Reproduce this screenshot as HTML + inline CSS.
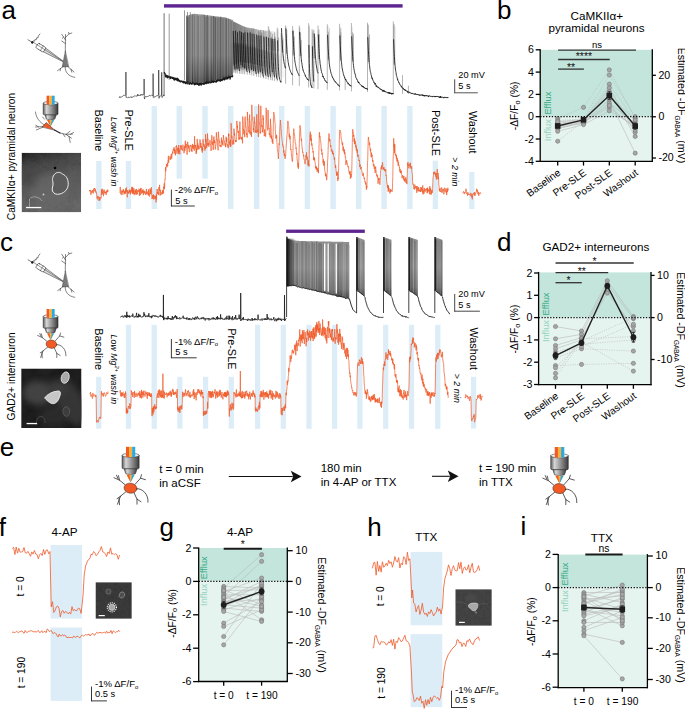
<!DOCTYPE html><html><head><meta charset="utf-8"><style>html,body{margin:0;padding:0;background:#fff;}body{width:685px;height:721px;overflow:hidden;font-family:"Liberation Sans",sans-serif;}svg{display:block;}</style></head><body><svg width="685" height="721" viewBox="0 0 685 721" font-family="'Liberation Sans', sans-serif"><defs><filter id="bl1" x="-20%" y="-20%" width="140%" height="140%"><feGaussianBlur stdDeviation="0.6"/></filter><filter id="bl3" x="-50%" y="-50%" width="200%" height="200%"><feGaussianBlur stdDeviation="3"/></filter><filter id="bl2" x="-50%" y="-50%" width="200%" height="200%"><feGaussianBlur stdDeviation="1.6"/></filter><filter id="tex" x="0" y="0" width="100%" height="100%"><feTurbulence type="fractalNoise" baseFrequency="0.35" numOctaves="2" seed="4"/><feColorMatrix type="matrix" values="1 0 0 0 0  1 0 0 0 0  1 0 0 0 0  0 0 0 0 1"/></filter><filter id="tex2" x="0" y="0" width="100%" height="100%"><feTurbulence type="fractalNoise" baseFrequency="0.08" numOctaves="3" seed="9"/><feColorMatrix type="matrix" values="1 0 0 0 0  1 0 0 0 0  1 0 0 0 0  0 0 0 0 1"/></filter><clipPath id="cpa"><rect x="21.6" y="152.8" width="59.5" height="59.5"/></clipPath><clipPath id="cpc"><rect x="21.2" y="368.5" width="60.3" height="59.5"/></clipPath><linearGradient id="mga" x1="0" y1="0" x2="0.3" y2="1"><stop offset="0" stop-color="#050505"/><stop offset="0.3" stop-color="#303030"/><stop offset="0.7" stop-color="#4a4a4a"/><stop offset="1" stop-color="#525252"/></linearGradient><clipPath id="cpf"><rect x="95.5" y="582.2" width="36.3" height="36.6"/></clipPath><clipPath id="cph"><rect x="455.3" y="589.2" width="36.5" height="36.6"/></clipPath></defs><text x="1.4" y="18.6" font-size="26" text-anchor="start" fill="#000">a</text>
<text x="497" y="18.6" font-size="26" text-anchor="start" fill="#000">b</text>
<text x="-0.1" y="250.6" font-size="26" text-anchor="start" fill="#000">c</text>
<text x="496.9" y="251.2" font-size="26" text-anchor="start" fill="#000">d</text>
<text x="-0.3" y="456.4" font-size="26" text-anchor="start" fill="#000">e</text>
<text x="-1.3" y="535.6" font-size="26" text-anchor="start" fill="#000">f</text>
<text x="159.5" y="536.2" font-size="26" text-anchor="start" fill="#000">g</text>
<text x="367.2" y="536.1" font-size="26" text-anchor="start" fill="#000">h</text>
<text x="520.5" y="534.8" font-size="26" text-anchor="start" fill="#000">i</text>
<rect x="540.2" y="49.8" width="112.1" height="66.9" fill="#c3e5db"/>
<rect x="540.2" y="116.7" width="112.1" height="44.7" fill="#e6f4f0"/>
<polyline points="557.7,118.48 583.5,107.33 609.3,69.87 635.2,118.37" fill="none" stroke="#b8b8b8" stroke-width="0.6" stroke-linejoin="round" stroke-dasharray="1.2,1.2"/>
<polyline points="557.7,120.49 583.5,118.93 609.3,75 635.2,116.7" fill="none" stroke="#b8b8b8" stroke-width="0.6" stroke-linejoin="round" stroke-dasharray="1.2,1.2"/>
<polyline points="557.7,122.28 583.5,120.05 609.3,84.14 635.2,121.16" fill="none" stroke="#b8b8b8" stroke-width="0.6" stroke-linejoin="round" stroke-dasharray="1.2,1.2"/>
<polyline points="557.7,123.39 583.5,120.6 609.3,87.93 635.2,132.31" fill="none" stroke="#b8b8b8" stroke-width="0.6" stroke-linejoin="round"/>
<polyline points="557.7,124.5 583.5,121.72 609.3,91.39 635.2,136.44" fill="none" stroke="#b8b8b8" stroke-width="0.6" stroke-linejoin="round"/>
<polyline points="557.7,126.73 583.5,122.28 609.3,99.75 635.2,153.16" fill="none" stroke="#b8b8b8" stroke-width="0.6" stroke-linejoin="round"/>
<polyline points="557.7,127.85 583.5,123.39 609.3,103.1 635.2,123.39" fill="none" stroke="#b8b8b8" stroke-width="0.6" stroke-linejoin="round"/>
<polyline points="557.7,128.85 583.5,121.94 609.3,107.33 635.2,127.85" fill="none" stroke="#b8b8b8" stroke-width="0.6" stroke-linejoin="round"/>
<polyline points="557.7,131.31 583.5,124.62 609.3,110.79 635.2,125.62" fill="none" stroke="#b8b8b8" stroke-width="0.6" stroke-linejoin="round"/>
<polyline points="557.7,141.23 583.5,121.16 609.3,105.55 635.2,130.08" fill="none" stroke="#b8b8b8" stroke-width="0.6" stroke-linejoin="round" stroke-dasharray="1.2,1.2"/>
<polyline points="557.7,121.72 583.5,119.49 609.3,95.52 635.2,120.05" fill="none" stroke="#b8b8b8" stroke-width="0.6" stroke-linejoin="round"/>
<circle cx="557.7" cy="118.48" r="2.1" fill="#a6a6a6" stroke="#707070" stroke-width="0.55"/>
<circle cx="583.5" cy="107.33" r="2.1" fill="#a6a6a6" stroke="#707070" stroke-width="0.55"/>
<circle cx="609.3" cy="69.87" r="2.1" fill="#a6a6a6" stroke="#707070" stroke-width="0.55"/>
<circle cx="635.2" cy="118.37" r="2.1" fill="#a6a6a6" stroke="#707070" stroke-width="0.55"/>
<circle cx="557.7" cy="120.49" r="2.1" fill="#a6a6a6" stroke="#707070" stroke-width="0.55"/>
<circle cx="583.5" cy="118.93" r="2.1" fill="#a6a6a6" stroke="#707070" stroke-width="0.55"/>
<circle cx="609.3" cy="75" r="2.1" fill="#a6a6a6" stroke="#707070" stroke-width="0.55"/>
<circle cx="635.2" cy="116.7" r="2.1" fill="#a6a6a6" stroke="#707070" stroke-width="0.55"/>
<circle cx="557.7" cy="122.28" r="2.1" fill="#a6a6a6" stroke="#707070" stroke-width="0.55"/>
<circle cx="583.5" cy="120.05" r="2.1" fill="#a6a6a6" stroke="#707070" stroke-width="0.55"/>
<circle cx="609.3" cy="84.14" r="2.1" fill="#a6a6a6" stroke="#707070" stroke-width="0.55"/>
<circle cx="635.2" cy="121.16" r="2.1" fill="#a6a6a6" stroke="#707070" stroke-width="0.55"/>
<circle cx="557.7" cy="123.39" r="2.1" fill="#a6a6a6" stroke="#707070" stroke-width="0.55"/>
<circle cx="583.5" cy="120.6" r="2.1" fill="#a6a6a6" stroke="#707070" stroke-width="0.55"/>
<circle cx="609.3" cy="87.93" r="2.1" fill="#a6a6a6" stroke="#707070" stroke-width="0.55"/>
<circle cx="635.2" cy="132.31" r="2.1" fill="#a6a6a6" stroke="#707070" stroke-width="0.55"/>
<circle cx="557.7" cy="124.5" r="2.1" fill="#a6a6a6" stroke="#707070" stroke-width="0.55"/>
<circle cx="583.5" cy="121.72" r="2.1" fill="#a6a6a6" stroke="#707070" stroke-width="0.55"/>
<circle cx="609.3" cy="91.39" r="2.1" fill="#a6a6a6" stroke="#707070" stroke-width="0.55"/>
<circle cx="635.2" cy="136.44" r="2.1" fill="#a6a6a6" stroke="#707070" stroke-width="0.55"/>
<circle cx="557.7" cy="126.73" r="2.1" fill="#a6a6a6" stroke="#707070" stroke-width="0.55"/>
<circle cx="583.5" cy="122.28" r="2.1" fill="#a6a6a6" stroke="#707070" stroke-width="0.55"/>
<circle cx="609.3" cy="99.75" r="2.1" fill="#a6a6a6" stroke="#707070" stroke-width="0.55"/>
<circle cx="635.2" cy="153.16" r="2.1" fill="#a6a6a6" stroke="#707070" stroke-width="0.55"/>
<circle cx="557.7" cy="127.85" r="2.1" fill="#a6a6a6" stroke="#707070" stroke-width="0.55"/>
<circle cx="583.5" cy="123.39" r="2.1" fill="#a6a6a6" stroke="#707070" stroke-width="0.55"/>
<circle cx="609.3" cy="103.1" r="2.1" fill="#a6a6a6" stroke="#707070" stroke-width="0.55"/>
<circle cx="635.2" cy="123.39" r="2.1" fill="#a6a6a6" stroke="#707070" stroke-width="0.55"/>
<circle cx="557.7" cy="128.85" r="2.1" fill="#a6a6a6" stroke="#707070" stroke-width="0.55"/>
<circle cx="583.5" cy="121.94" r="2.1" fill="#a6a6a6" stroke="#707070" stroke-width="0.55"/>
<circle cx="609.3" cy="107.33" r="2.1" fill="#a6a6a6" stroke="#707070" stroke-width="0.55"/>
<circle cx="635.2" cy="127.85" r="2.1" fill="#a6a6a6" stroke="#707070" stroke-width="0.55"/>
<circle cx="557.7" cy="131.31" r="2.1" fill="#a6a6a6" stroke="#707070" stroke-width="0.55"/>
<circle cx="583.5" cy="124.62" r="2.1" fill="#a6a6a6" stroke="#707070" stroke-width="0.55"/>
<circle cx="609.3" cy="110.79" r="2.1" fill="#a6a6a6" stroke="#707070" stroke-width="0.55"/>
<circle cx="635.2" cy="125.62" r="2.1" fill="#a6a6a6" stroke="#707070" stroke-width="0.55"/>
<circle cx="557.7" cy="141.23" r="2.1" fill="#a6a6a6" stroke="#707070" stroke-width="0.55"/>
<circle cx="583.5" cy="121.16" r="2.1" fill="#a6a6a6" stroke="#707070" stroke-width="0.55"/>
<circle cx="609.3" cy="105.55" r="2.1" fill="#a6a6a6" stroke="#707070" stroke-width="0.55"/>
<circle cx="635.2" cy="130.08" r="2.1" fill="#a6a6a6" stroke="#707070" stroke-width="0.55"/>
<circle cx="557.7" cy="121.72" r="2.1" fill="#a6a6a6" stroke="#707070" stroke-width="0.55"/>
<circle cx="583.5" cy="119.49" r="2.1" fill="#a6a6a6" stroke="#707070" stroke-width="0.55"/>
<circle cx="609.3" cy="95.52" r="2.1" fill="#a6a6a6" stroke="#707070" stroke-width="0.55"/>
<circle cx="635.2" cy="120.05" r="2.1" fill="#a6a6a6" stroke="#707070" stroke-width="0.55"/>
<line x1="540.2" y1="116.7" x2="652.3" y2="116.7" stroke="#111" stroke-width="1.2" stroke-dasharray="1.3,1.6"/>
<polyline points="557.7,125.95 583.5,119.82 609.3,95.52 635.2,126.07" fill="none" stroke="#222" stroke-width="1.4" stroke-linejoin="round"/>
<line x1="557.7" y1="123.95" x2="557.7" y2="127.96" stroke="#222" stroke-width="1"/>
<line x1="556.2" y1="123.95" x2="559.2" y2="123.95" stroke="#222" stroke-width="0.8"/>
<line x1="556.2" y1="127.96" x2="559.2" y2="127.96" stroke="#222" stroke-width="0.8"/>
<line x1="583.5" y1="118.48" x2="583.5" y2="121.16" stroke="#222" stroke-width="1"/>
<line x1="582" y1="118.48" x2="585" y2="118.48" stroke="#222" stroke-width="0.8"/>
<line x1="582" y1="121.16" x2="585" y2="121.16" stroke="#222" stroke-width="0.8"/>
<line x1="609.3" y1="91.61" x2="609.3" y2="99.42" stroke="#222" stroke-width="1"/>
<line x1="607.8" y1="91.61" x2="610.8" y2="91.61" stroke="#222" stroke-width="0.8"/>
<line x1="607.8" y1="99.42" x2="610.8" y2="99.42" stroke="#222" stroke-width="0.8"/>
<line x1="635.2" y1="122.94" x2="635.2" y2="129.19" stroke="#222" stroke-width="1"/>
<line x1="633.7" y1="122.94" x2="636.7" y2="122.94" stroke="#222" stroke-width="0.8"/>
<line x1="633.7" y1="129.19" x2="636.7" y2="129.19" stroke="#222" stroke-width="0.8"/>
<rect x="554.9" y="123.15" width="5.6" height="5.6" fill="#1e1e1e"/>
<rect x="580.7" y="117.02" width="5.6" height="5.6" fill="#1e1e1e"/>
<rect x="606.5" y="92.72" width="5.6" height="5.6" fill="#1e1e1e"/>
<rect x="632.4" y="123.27" width="5.6" height="5.6" fill="#1e1e1e"/>
<line x1="540.2" y1="49.3" x2="540.2" y2="162" stroke="#000" stroke-width="1.3"/>
<line x1="652.3" y1="49.3" x2="652.3" y2="162" stroke="#000" stroke-width="1.3"/>
<line x1="539.6" y1="161.4" x2="652.9" y2="161.4" stroke="#000" stroke-width="1.3"/>
<line x1="535.7" y1="49.8" x2="540.2" y2="49.8" stroke="#000" stroke-width="1.3"/>
<text x="533.9" y="53.3" font-size="10.6" text-anchor="end" fill="#000">6</text>
<line x1="535.7" y1="72.1" x2="540.2" y2="72.1" stroke="#000" stroke-width="1.3"/>
<text x="533.9" y="75.6" font-size="10.6" text-anchor="end" fill="#000">4</text>
<line x1="535.7" y1="94.4" x2="540.2" y2="94.4" stroke="#000" stroke-width="1.3"/>
<text x="533.9" y="97.9" font-size="10.6" text-anchor="end" fill="#000">2</text>
<line x1="535.7" y1="116.7" x2="540.2" y2="116.7" stroke="#000" stroke-width="1.3"/>
<text x="533.9" y="120.2" font-size="10.6" text-anchor="end" fill="#000">0</text>
<line x1="535.7" y1="139" x2="540.2" y2="139" stroke="#000" stroke-width="1.3"/>
<text x="533.9" y="142.5" font-size="10.6" text-anchor="end" fill="#000">-2</text>
<line x1="535.7" y1="161.3" x2="540.2" y2="161.3" stroke="#000" stroke-width="1.3"/>
<text x="533.9" y="164.8" font-size="10.6" text-anchor="end" fill="#000">-4</text>
<line x1="652.3" y1="75.3" x2="655.9" y2="75.3" stroke="#000" stroke-width="1.3"/>
<text x="658.4" y="78.7" font-size="10.6" text-anchor="start" fill="#000">20</text>
<line x1="652.3" y1="116.8" x2="655.9" y2="116.8" stroke="#000" stroke-width="1.3"/>
<text x="658.4" y="120.2" font-size="10.6" text-anchor="start" fill="#000">0</text>
<line x1="652.3" y1="158" x2="655.9" y2="158" stroke="#000" stroke-width="1.3"/>
<text x="658.4" y="161.4" font-size="10.6" text-anchor="start" fill="#000">-20</text>
<line x1="557.7" y1="161.4" x2="557.7" y2="165.6" stroke="#000" stroke-width="1.3"/>
<line x1="583.5" y1="161.4" x2="583.5" y2="165.6" stroke="#000" stroke-width="1.3"/>
<line x1="609.3" y1="161.4" x2="609.3" y2="165.6" stroke="#000" stroke-width="1.3"/>
<line x1="635.2" y1="161.4" x2="635.2" y2="165.6" stroke="#000" stroke-width="1.3"/>
<line x1="558.1" y1="50.1" x2="636" y2="50.1" stroke="#333" stroke-width="1.3"/>
<text x="597.05" y="47.5" font-size="9.5" text-anchor="middle" fill="#000">ns</text>
<line x1="558.1" y1="59.5" x2="609.7" y2="59.5" stroke="#333" stroke-width="1.3"/>
<text x="583.9" y="60.4" font-size="10.5" text-anchor="middle" fill="#111">****</text>
<line x1="558.1" y1="69.1" x2="583.9" y2="69.1" stroke="#333" stroke-width="1.3"/>
<text x="571" y="70.6" font-size="10.5" text-anchor="middle" fill="#111">**</text>
<text x="550.8" y="114.5" font-size="9.2" text-anchor="start" fill="#3aab86" transform="rotate(-90 550.8 114.5)">Efflux</text>
<text x="550.8" y="141.2" font-size="9.2" text-anchor="start" fill="#92d2bb" transform="rotate(-90 550.8 141.2)">Influx</text>
<text x="561.3" y="174.2" font-size="10.2" text-anchor="end" fill="#000" transform="rotate(-36 561.3 174.2)">Baseline</text>
<text x="587.1" y="174.2" font-size="10.2" text-anchor="end" fill="#000" transform="rotate(-36 587.1 174.2)">Pre-SLE</text>
<text x="612.9" y="174.2" font-size="10.2" text-anchor="end" fill="#000" transform="rotate(-36 612.9 174.2)">Post-SLE</text>
<text x="638.8" y="174.2" font-size="10.2" text-anchor="end" fill="#000" transform="rotate(-36 638.8 174.2)">Washout</text>
<text x="518.3" y="105.9" font-size="10.3" text-anchor="middle" fill="#000" transform="rotate(-90 518.3 105.9)">-ΔF/F<tspan font-size="7.42" dy="1.8">o</tspan><tspan dy="-1.8"> (%)</tspan></text>
<text x="677.6" y="105.5" font-size="10.6" text-anchor="middle" fill="#000" transform="rotate(90 677.6 105.5)">Estimated -DF<tspan font-size="6.36" dy="2.4">GABAA</tspan><tspan dy="-2.4"> (mV)</tspan></text>
<text x="596.8" y="20" font-size="11.7" text-anchor="middle" fill="#000">CaMKIIα+</text>
<text x="596.6" y="32.1" font-size="11.7" text-anchor="middle" fill="#000">pyramidal neurons</text>
<rect x="538.6" y="272.4" width="112.4" height="45.2" fill="#c3e5db"/>
<rect x="538.6" y="317.6" width="112.4" height="67" fill="#e6f4f0"/>
<polyline points="555.5,326.52 581.5,330.98 607.3,280.81 633.4,316.49" fill="none" stroke="#b8b8b8" stroke-width="0.6" stroke-linejoin="round"/>
<polyline points="555.5,338.79 581.5,334.33 607.3,284.15 633.4,318.72" fill="none" stroke="#b8b8b8" stroke-width="0.6" stroke-linejoin="round"/>
<polyline points="555.5,345.48 581.5,337.67 607.3,293.07 633.4,326.52" fill="none" stroke="#b8b8b8" stroke-width="0.6" stroke-linejoin="round"/>
<polyline points="555.5,348.82 581.5,339.9 607.3,288.61 633.4,330.98" fill="none" stroke="#b8b8b8" stroke-width="0.6" stroke-linejoin="round"/>
<polyline points="555.5,352.17 581.5,344.36 633.4,339.9" fill="none" stroke="#b8b8b8" stroke-width="0.6" stroke-linejoin="round" stroke-dasharray="1.2,1.2"/>
<polyline points="555.5,357.74 581.5,348.82 633.4,351.05" fill="none" stroke="#b8b8b8" stroke-width="0.6" stroke-linejoin="round" stroke-dasharray="1.2,1.2"/>
<polyline points="555.5,365.55 581.5,364.43 633.4,363.31" fill="none" stroke="#b8b8b8" stroke-width="0.6" stroke-linejoin="round" stroke-dasharray="1.2,1.2"/>
<polyline points="555.5,367.78 581.5,342.13 633.4,371.12" fill="none" stroke="#b8b8b8" stroke-width="0.6" stroke-linejoin="round" stroke-dasharray="1.2,1.2"/>
<polyline points="555.5,373.35 581.5,338.79 633.4,336.56" fill="none" stroke="#b8b8b8" stroke-width="0.6" stroke-linejoin="round" stroke-dasharray="1.2,1.2"/>
<polyline points="555.5,377.81 581.5,341.02 633.4,317.6" fill="none" stroke="#b8b8b8" stroke-width="0.6" stroke-linejoin="round" stroke-dasharray="1.2,1.2"/>
<polyline points="555.5,354.4 581.5,346.59 633.4,324.29" fill="none" stroke="#b8b8b8" stroke-width="0.6" stroke-linejoin="round" stroke-dasharray="1.2,1.2"/>
<circle cx="555.5" cy="326.52" r="2.1" fill="#a6a6a6" stroke="#707070" stroke-width="0.55"/>
<circle cx="581.5" cy="330.98" r="2.1" fill="#a6a6a6" stroke="#707070" stroke-width="0.55"/>
<circle cx="607.3" cy="280.81" r="2.1" fill="#a6a6a6" stroke="#707070" stroke-width="0.55"/>
<circle cx="633.4" cy="316.49" r="2.1" fill="#a6a6a6" stroke="#707070" stroke-width="0.55"/>
<circle cx="555.5" cy="338.79" r="2.1" fill="#a6a6a6" stroke="#707070" stroke-width="0.55"/>
<circle cx="581.5" cy="334.33" r="2.1" fill="#a6a6a6" stroke="#707070" stroke-width="0.55"/>
<circle cx="607.3" cy="284.15" r="2.1" fill="#a6a6a6" stroke="#707070" stroke-width="0.55"/>
<circle cx="633.4" cy="318.72" r="2.1" fill="#a6a6a6" stroke="#707070" stroke-width="0.55"/>
<circle cx="555.5" cy="345.48" r="2.1" fill="#a6a6a6" stroke="#707070" stroke-width="0.55"/>
<circle cx="581.5" cy="337.67" r="2.1" fill="#a6a6a6" stroke="#707070" stroke-width="0.55"/>
<circle cx="607.3" cy="293.07" r="2.1" fill="#a6a6a6" stroke="#707070" stroke-width="0.55"/>
<circle cx="633.4" cy="326.52" r="2.1" fill="#a6a6a6" stroke="#707070" stroke-width="0.55"/>
<circle cx="555.5" cy="348.82" r="2.1" fill="#a6a6a6" stroke="#707070" stroke-width="0.55"/>
<circle cx="581.5" cy="339.9" r="2.1" fill="#a6a6a6" stroke="#707070" stroke-width="0.55"/>
<circle cx="607.3" cy="288.61" r="2.1" fill="#a6a6a6" stroke="#707070" stroke-width="0.55"/>
<circle cx="633.4" cy="330.98" r="2.1" fill="#a6a6a6" stroke="#707070" stroke-width="0.55"/>
<circle cx="555.5" cy="352.17" r="2.1" fill="#a6a6a6" stroke="#707070" stroke-width="0.55"/>
<circle cx="581.5" cy="344.36" r="2.1" fill="#a6a6a6" stroke="#707070" stroke-width="0.55"/>
<circle cx="633.4" cy="339.9" r="2.1" fill="#a6a6a6" stroke="#707070" stroke-width="0.55"/>
<circle cx="555.5" cy="357.74" r="2.1" fill="#a6a6a6" stroke="#707070" stroke-width="0.55"/>
<circle cx="581.5" cy="348.82" r="2.1" fill="#a6a6a6" stroke="#707070" stroke-width="0.55"/>
<circle cx="633.4" cy="351.05" r="2.1" fill="#a6a6a6" stroke="#707070" stroke-width="0.55"/>
<circle cx="555.5" cy="365.55" r="2.1" fill="#a6a6a6" stroke="#707070" stroke-width="0.55"/>
<circle cx="581.5" cy="364.43" r="2.1" fill="#a6a6a6" stroke="#707070" stroke-width="0.55"/>
<circle cx="633.4" cy="363.31" r="2.1" fill="#a6a6a6" stroke="#707070" stroke-width="0.55"/>
<circle cx="555.5" cy="367.78" r="2.1" fill="#a6a6a6" stroke="#707070" stroke-width="0.55"/>
<circle cx="581.5" cy="342.13" r="2.1" fill="#a6a6a6" stroke="#707070" stroke-width="0.55"/>
<circle cx="633.4" cy="371.12" r="2.1" fill="#a6a6a6" stroke="#707070" stroke-width="0.55"/>
<circle cx="555.5" cy="373.35" r="2.1" fill="#a6a6a6" stroke="#707070" stroke-width="0.55"/>
<circle cx="581.5" cy="338.79" r="2.1" fill="#a6a6a6" stroke="#707070" stroke-width="0.55"/>
<circle cx="633.4" cy="336.56" r="2.1" fill="#a6a6a6" stroke="#707070" stroke-width="0.55"/>
<circle cx="555.5" cy="377.81" r="2.1" fill="#a6a6a6" stroke="#707070" stroke-width="0.55"/>
<circle cx="581.5" cy="341.02" r="2.1" fill="#a6a6a6" stroke="#707070" stroke-width="0.55"/>
<circle cx="633.4" cy="317.6" r="2.1" fill="#a6a6a6" stroke="#707070" stroke-width="0.55"/>
<circle cx="555.5" cy="354.4" r="2.1" fill="#a6a6a6" stroke="#707070" stroke-width="0.55"/>
<circle cx="581.5" cy="346.59" r="2.1" fill="#a6a6a6" stroke="#707070" stroke-width="0.55"/>
<circle cx="633.4" cy="324.29" r="2.1" fill="#a6a6a6" stroke="#707070" stroke-width="0.55"/>
<line x1="538.6" y1="317.6" x2="651" y2="317.6" stroke="#111" stroke-width="1.2" stroke-dasharray="1.3,1.6"/>
<polyline points="555.5,355.51 581.5,342.8 607.3,285.93 633.4,337.22" fill="none" stroke="#222" stroke-width="1.4" stroke-linejoin="round"/>
<line x1="555.5" y1="352.17" x2="555.5" y2="358.86" stroke="#222" stroke-width="1"/>
<line x1="554" y1="352.17" x2="557" y2="352.17" stroke="#222" stroke-width="0.8"/>
<line x1="554" y1="358.86" x2="557" y2="358.86" stroke="#222" stroke-width="0.8"/>
<line x1="581.5" y1="340.12" x2="581.5" y2="345.48" stroke="#222" stroke-width="1"/>
<line x1="580" y1="340.12" x2="583" y2="340.12" stroke="#222" stroke-width="0.8"/>
<line x1="580" y1="345.48" x2="583" y2="345.48" stroke="#222" stroke-width="0.8"/>
<line x1="607.3" y1="283.7" x2="607.3" y2="288.16" stroke="#222" stroke-width="1"/>
<line x1="605.8" y1="283.7" x2="608.8" y2="283.7" stroke="#222" stroke-width="0.8"/>
<line x1="605.8" y1="288.16" x2="608.8" y2="288.16" stroke="#222" stroke-width="0.8"/>
<line x1="633.4" y1="332.32" x2="633.4" y2="342.13" stroke="#222" stroke-width="1"/>
<line x1="631.9" y1="332.32" x2="634.9" y2="332.32" stroke="#222" stroke-width="0.8"/>
<line x1="631.9" y1="342.13" x2="634.9" y2="342.13" stroke="#222" stroke-width="0.8"/>
<circle cx="555.5" cy="355.51" r="2.9" fill="#1e1e1e" stroke="none" stroke-width="1"/>
<circle cx="581.5" cy="342.8" r="2.9" fill="#1e1e1e" stroke="none" stroke-width="1"/>
<circle cx="607.3" cy="285.93" r="2.9" fill="#1e1e1e" stroke="none" stroke-width="1"/>
<circle cx="633.4" cy="337.22" r="2.9" fill="#1e1e1e" stroke="none" stroke-width="1"/>
<line x1="538.6" y1="271.9" x2="538.6" y2="385.2" stroke="#000" stroke-width="1.3"/>
<line x1="651" y1="271.9" x2="651" y2="385.2" stroke="#000" stroke-width="1.3"/>
<line x1="538" y1="384.6" x2="651.6" y2="384.6" stroke="#000" stroke-width="1.3"/>
<line x1="534.1" y1="273" x2="538.6" y2="273" stroke="#000" stroke-width="1.3"/>
<text x="532.3" y="276.5" font-size="10.6" text-anchor="end" fill="#000">2</text>
<line x1="534.1" y1="295.3" x2="538.6" y2="295.3" stroke="#000" stroke-width="1.3"/>
<text x="532.3" y="298.8" font-size="10.6" text-anchor="end" fill="#000">1</text>
<line x1="534.1" y1="317.6" x2="538.6" y2="317.6" stroke="#000" stroke-width="1.3"/>
<text x="532.3" y="321.1" font-size="10.6" text-anchor="end" fill="#000">0</text>
<line x1="534.1" y1="339.9" x2="538.6" y2="339.9" stroke="#000" stroke-width="1.3"/>
<text x="532.3" y="343.4" font-size="10.6" text-anchor="end" fill="#000">-1</text>
<line x1="534.1" y1="362.2" x2="538.6" y2="362.2" stroke="#000" stroke-width="1.3"/>
<text x="532.3" y="365.7" font-size="10.6" text-anchor="end" fill="#000">-2</text>
<line x1="534.1" y1="384.5" x2="538.6" y2="384.5" stroke="#000" stroke-width="1.3"/>
<text x="532.3" y="388" font-size="10.6" text-anchor="end" fill="#000">-3</text>
<line x1="651" y1="275.4" x2="654.6" y2="275.4" stroke="#000" stroke-width="1.3"/>
<text x="657.1" y="278.8" font-size="10.6" text-anchor="start" fill="#000">10</text>
<line x1="651" y1="317.6" x2="654.6" y2="317.6" stroke="#000" stroke-width="1.3"/>
<text x="657.1" y="321" font-size="10.6" text-anchor="start" fill="#000">0</text>
<line x1="651" y1="359.5" x2="654.6" y2="359.5" stroke="#000" stroke-width="1.3"/>
<text x="657.1" y="362.9" font-size="10.6" text-anchor="start" fill="#000">-10</text>
<line x1="555.5" y1="384.6" x2="555.5" y2="388.8" stroke="#000" stroke-width="1.3"/>
<line x1="581.5" y1="384.6" x2="581.5" y2="388.8" stroke="#000" stroke-width="1.3"/>
<line x1="607.3" y1="384.6" x2="607.3" y2="388.8" stroke="#000" stroke-width="1.3"/>
<line x1="633.4" y1="384.6" x2="633.4" y2="388.8" stroke="#000" stroke-width="1.3"/>
<line x1="555.5" y1="263" x2="633.7" y2="263" stroke="#333" stroke-width="1.3"/>
<text x="594.6" y="264.6" font-size="10.5" text-anchor="middle" fill="#111">*</text>
<line x1="555.5" y1="272.7" x2="608.2" y2="272.7" stroke="#333" stroke-width="1.3"/>
<text x="581.85" y="274.8" font-size="10.5" text-anchor="middle" fill="#111">**</text>
<line x1="555.5" y1="282.7" x2="581.8" y2="282.7" stroke="#333" stroke-width="1.3"/>
<text x="568.65" y="284.2" font-size="10.5" text-anchor="middle" fill="#111">*</text>
<text x="548.8" y="315.4" font-size="9.2" text-anchor="start" fill="#3aab86" transform="rotate(-90 548.8 315.4)">Efflux</text>
<text x="548.8" y="342.1" font-size="9.2" text-anchor="start" fill="#92d2bb" transform="rotate(-90 548.8 342.1)">Influx</text>
<text x="559.1" y="397.4" font-size="10.2" text-anchor="end" fill="#000" transform="rotate(-36 559.1 397.4)">Baseline</text>
<text x="585.1" y="397.4" font-size="10.2" text-anchor="end" fill="#000" transform="rotate(-36 585.1 397.4)">Pre-SLE</text>
<text x="610.9" y="397.4" font-size="10.2" text-anchor="end" fill="#000" transform="rotate(-36 610.9 397.4)">Post-SLE</text>
<text x="637" y="397.4" font-size="10.2" text-anchor="end" fill="#000" transform="rotate(-36 637 397.4)">Washout</text>
<text x="518.2" y="329" font-size="10.3" text-anchor="middle" fill="#000" transform="rotate(-90 518.2 329)">-ΔF/F<tspan font-size="7.42" dy="1.8">o</tspan><tspan dy="-1.8"> (%)</tspan></text>
<text x="676.5" y="330" font-size="10.6" text-anchor="middle" fill="#000" transform="rotate(90 676.5 330)">Estimated -DF<tspan font-size="6.36" dy="2.4">GABAA</tspan><tspan dy="-2.4"> (mV)</tspan></text>
<text x="595.9" y="251.4" font-size="11.7" text-anchor="middle" fill="#000">GAD2+ interneurons</text>
<rect x="198.7" y="548" width="88.6" height="33.4" fill="#c3e5db"/>
<rect x="198.7" y="581.4" width="88.6" height="100.1" fill="#e6f4f0"/>
<polyline points="223.7,586.41 261.6,588.08" fill="none" stroke="#b8b8b8" stroke-width="0.6" stroke-linejoin="round"/>
<polyline points="223.7,588.08 261.6,554.68" fill="none" stroke="#b8b8b8" stroke-width="0.6" stroke-linejoin="round"/>
<polyline points="223.7,589.75 261.6,604.78" fill="none" stroke="#b8b8b8" stroke-width="0.6" stroke-linejoin="round"/>
<polyline points="223.7,591.42 261.6,578.06" fill="none" stroke="#b8b8b8" stroke-width="0.6" stroke-linejoin="round"/>
<polyline points="223.7,593.09 261.6,619.81" fill="none" stroke="#b8b8b8" stroke-width="0.6" stroke-linejoin="round"/>
<polyline points="223.7,594.76 261.6,594.76" fill="none" stroke="#b8b8b8" stroke-width="0.6" stroke-linejoin="round"/>
<polyline points="223.7,596.43 261.6,561.36" fill="none" stroke="#b8b8b8" stroke-width="0.6" stroke-linejoin="round"/>
<polyline points="223.7,598.1 261.6,586.41" fill="none" stroke="#b8b8b8" stroke-width="0.6" stroke-linejoin="round"/>
<polyline points="223.7,599.77 261.6,581.4" fill="none" stroke="#b8b8b8" stroke-width="0.6" stroke-linejoin="round"/>
<polyline points="223.7,601.44 261.6,599.77" fill="none" stroke="#b8b8b8" stroke-width="0.6" stroke-linejoin="round"/>
<polyline points="223.7,603.11 261.6,584.74" fill="none" stroke="#b8b8b8" stroke-width="0.6" stroke-linejoin="round"/>
<polyline points="223.7,604.78 261.6,608.12" fill="none" stroke="#b8b8b8" stroke-width="0.6" stroke-linejoin="round"/>
<polyline points="223.7,606.45 261.6,591.42" fill="none" stroke="#b8b8b8" stroke-width="0.6" stroke-linejoin="round"/>
<polyline points="223.7,608.12 261.6,611.46" fill="none" stroke="#b8b8b8" stroke-width="0.6" stroke-linejoin="round"/>
<polyline points="223.7,609.79 261.6,598.1" fill="none" stroke="#b8b8b8" stroke-width="0.6" stroke-linejoin="round"/>
<polyline points="223.7,611.46 261.6,621.48" fill="none" stroke="#b8b8b8" stroke-width="0.6" stroke-linejoin="round"/>
<polyline points="223.7,623.15 261.6,601.44" fill="none" stroke="#b8b8b8" stroke-width="0.6" stroke-linejoin="round"/>
<polyline points="223.7,626.49 261.6,609.79" fill="none" stroke="#b8b8b8" stroke-width="0.6" stroke-linejoin="round"/>
<polyline points="223.7,636.51 261.6,583.07" fill="none" stroke="#b8b8b8" stroke-width="0.6" stroke-linejoin="round"/>
<polyline points="223.7,644.86 261.6,596.43" fill="none" stroke="#b8b8b8" stroke-width="0.6" stroke-linejoin="round"/>
<polyline points="223.7,590.58 261.6,589.75" fill="none" stroke="#b8b8b8" stroke-width="0.6" stroke-linejoin="round"/>
<polyline points="223.7,597.26 261.6,606.45" fill="none" stroke="#b8b8b8" stroke-width="0.6" stroke-linejoin="round"/>
<polyline points="223.7,602.27 261.6,593.09" fill="none" stroke="#b8b8b8" stroke-width="0.6" stroke-linejoin="round"/>
<circle cx="223.7" cy="586.41" r="2.1" fill="#a6a6a6" stroke="#707070" stroke-width="0.55"/>
<circle cx="261.6" cy="588.08" r="2.1" fill="#a6a6a6" stroke="#707070" stroke-width="0.55"/>
<circle cx="223.7" cy="588.08" r="2.1" fill="#a6a6a6" stroke="#707070" stroke-width="0.55"/>
<circle cx="261.6" cy="554.68" r="2.1" fill="#a6a6a6" stroke="#707070" stroke-width="0.55"/>
<circle cx="223.7" cy="589.75" r="2.1" fill="#a6a6a6" stroke="#707070" stroke-width="0.55"/>
<circle cx="261.6" cy="604.78" r="2.1" fill="#a6a6a6" stroke="#707070" stroke-width="0.55"/>
<circle cx="223.7" cy="591.42" r="2.1" fill="#a6a6a6" stroke="#707070" stroke-width="0.55"/>
<circle cx="261.6" cy="578.06" r="2.1" fill="#a6a6a6" stroke="#707070" stroke-width="0.55"/>
<circle cx="223.7" cy="593.09" r="2.1" fill="#a6a6a6" stroke="#707070" stroke-width="0.55"/>
<circle cx="261.6" cy="619.81" r="2.1" fill="#a6a6a6" stroke="#707070" stroke-width="0.55"/>
<circle cx="223.7" cy="594.76" r="2.1" fill="#a6a6a6" stroke="#707070" stroke-width="0.55"/>
<circle cx="261.6" cy="594.76" r="2.1" fill="#a6a6a6" stroke="#707070" stroke-width="0.55"/>
<circle cx="223.7" cy="596.43" r="2.1" fill="#a6a6a6" stroke="#707070" stroke-width="0.55"/>
<circle cx="261.6" cy="561.36" r="2.1" fill="#a6a6a6" stroke="#707070" stroke-width="0.55"/>
<circle cx="223.7" cy="598.1" r="2.1" fill="#a6a6a6" stroke="#707070" stroke-width="0.55"/>
<circle cx="261.6" cy="586.41" r="2.1" fill="#a6a6a6" stroke="#707070" stroke-width="0.55"/>
<circle cx="223.7" cy="599.77" r="2.1" fill="#a6a6a6" stroke="#707070" stroke-width="0.55"/>
<circle cx="261.6" cy="581.4" r="2.1" fill="#a6a6a6" stroke="#707070" stroke-width="0.55"/>
<circle cx="223.7" cy="601.44" r="2.1" fill="#a6a6a6" stroke="#707070" stroke-width="0.55"/>
<circle cx="261.6" cy="599.77" r="2.1" fill="#a6a6a6" stroke="#707070" stroke-width="0.55"/>
<circle cx="223.7" cy="603.11" r="2.1" fill="#a6a6a6" stroke="#707070" stroke-width="0.55"/>
<circle cx="261.6" cy="584.74" r="2.1" fill="#a6a6a6" stroke="#707070" stroke-width="0.55"/>
<circle cx="223.7" cy="604.78" r="2.1" fill="#a6a6a6" stroke="#707070" stroke-width="0.55"/>
<circle cx="261.6" cy="608.12" r="2.1" fill="#a6a6a6" stroke="#707070" stroke-width="0.55"/>
<circle cx="223.7" cy="606.45" r="2.1" fill="#a6a6a6" stroke="#707070" stroke-width="0.55"/>
<circle cx="261.6" cy="591.42" r="2.1" fill="#a6a6a6" stroke="#707070" stroke-width="0.55"/>
<circle cx="223.7" cy="608.12" r="2.1" fill="#a6a6a6" stroke="#707070" stroke-width="0.55"/>
<circle cx="261.6" cy="611.46" r="2.1" fill="#a6a6a6" stroke="#707070" stroke-width="0.55"/>
<circle cx="223.7" cy="609.79" r="2.1" fill="#a6a6a6" stroke="#707070" stroke-width="0.55"/>
<circle cx="261.6" cy="598.1" r="2.1" fill="#a6a6a6" stroke="#707070" stroke-width="0.55"/>
<circle cx="223.7" cy="611.46" r="2.1" fill="#a6a6a6" stroke="#707070" stroke-width="0.55"/>
<circle cx="261.6" cy="621.48" r="2.1" fill="#a6a6a6" stroke="#707070" stroke-width="0.55"/>
<circle cx="223.7" cy="623.15" r="2.1" fill="#a6a6a6" stroke="#707070" stroke-width="0.55"/>
<circle cx="261.6" cy="601.44" r="2.1" fill="#a6a6a6" stroke="#707070" stroke-width="0.55"/>
<circle cx="223.7" cy="626.49" r="2.1" fill="#a6a6a6" stroke="#707070" stroke-width="0.55"/>
<circle cx="261.6" cy="609.79" r="2.1" fill="#a6a6a6" stroke="#707070" stroke-width="0.55"/>
<circle cx="223.7" cy="636.51" r="2.1" fill="#a6a6a6" stroke="#707070" stroke-width="0.55"/>
<circle cx="261.6" cy="583.07" r="2.1" fill="#a6a6a6" stroke="#707070" stroke-width="0.55"/>
<circle cx="223.7" cy="644.86" r="2.1" fill="#a6a6a6" stroke="#707070" stroke-width="0.55"/>
<circle cx="261.6" cy="596.43" r="2.1" fill="#a6a6a6" stroke="#707070" stroke-width="0.55"/>
<circle cx="223.7" cy="590.58" r="2.1" fill="#a6a6a6" stroke="#707070" stroke-width="0.55"/>
<circle cx="261.6" cy="589.75" r="2.1" fill="#a6a6a6" stroke="#707070" stroke-width="0.55"/>
<circle cx="223.7" cy="597.26" r="2.1" fill="#a6a6a6" stroke="#707070" stroke-width="0.55"/>
<circle cx="261.6" cy="606.45" r="2.1" fill="#a6a6a6" stroke="#707070" stroke-width="0.55"/>
<circle cx="223.7" cy="602.27" r="2.1" fill="#a6a6a6" stroke="#707070" stroke-width="0.55"/>
<circle cx="261.6" cy="593.09" r="2.1" fill="#a6a6a6" stroke="#707070" stroke-width="0.55"/>
<line x1="198.7" y1="581.4" x2="287.3" y2="581.4" stroke="#111" stroke-width="1.2" stroke-dasharray="1.3,1.6"/>
<polyline points="223.7,604.78 261.6,591.42" fill="none" stroke="#222" stroke-width="1.4" stroke-linejoin="round"/>
<line x1="223.7" y1="601.44" x2="223.7" y2="608.12" stroke="#222" stroke-width="1"/>
<line x1="222.2" y1="601.44" x2="225.2" y2="601.44" stroke="#222" stroke-width="0.8"/>
<line x1="222.2" y1="608.12" x2="225.2" y2="608.12" stroke="#222" stroke-width="0.8"/>
<line x1="261.6" y1="588.08" x2="261.6" y2="594.76" stroke="#222" stroke-width="1"/>
<line x1="260.1" y1="588.08" x2="263.1" y2="588.08" stroke="#222" stroke-width="0.8"/>
<line x1="260.1" y1="594.76" x2="263.1" y2="594.76" stroke="#222" stroke-width="0.8"/>
<circle cx="223.7" cy="604.78" r="2.9" fill="#1e1e1e" stroke="none" stroke-width="1"/>
<circle cx="261.6" cy="591.42" r="2.9" fill="#1e1e1e" stroke="none" stroke-width="1"/>
<line x1="198.7" y1="547.5" x2="198.7" y2="682.1" stroke="#000" stroke-width="1.3"/>
<line x1="287.3" y1="547.5" x2="287.3" y2="682.1" stroke="#000" stroke-width="1.3"/>
<line x1="198.1" y1="681.5" x2="287.9" y2="681.5" stroke="#000" stroke-width="1.3"/>
<line x1="193.1" y1="548" x2="198.7" y2="548" stroke="#000" stroke-width="1.3"/>
<text x="191.5" y="551.5" font-size="10.6" text-anchor="end" fill="#000">2</text>
<line x1="193.1" y1="581.4" x2="198.7" y2="581.4" stroke="#000" stroke-width="1.3"/>
<text x="191.5" y="584.9" font-size="10.6" text-anchor="end" fill="#000">0</text>
<line x1="193.1" y1="614.8" x2="198.7" y2="614.8" stroke="#000" stroke-width="1.3"/>
<text x="191.5" y="618.3" font-size="10.6" text-anchor="end" fill="#000">-2</text>
<line x1="193.1" y1="648.2" x2="198.7" y2="648.2" stroke="#000" stroke-width="1.3"/>
<text x="191.5" y="651.7" font-size="10.6" text-anchor="end" fill="#000">-4</text>
<line x1="193.1" y1="681.6" x2="198.7" y2="681.6" stroke="#000" stroke-width="1.3"/>
<text x="191.5" y="685.1" font-size="10.6" text-anchor="end" fill="#000">-6</text>
<line x1="287.3" y1="550.7" x2="292.7" y2="550.7" stroke="#000" stroke-width="1.3"/>
<text x="295.5" y="554.1" font-size="10.6" text-anchor="start" fill="#000">10</text>
<line x1="287.3" y1="581.4" x2="292.7" y2="581.4" stroke="#000" stroke-width="1.3"/>
<text x="295.5" y="584.8" font-size="10.6" text-anchor="start" fill="#000">0</text>
<line x1="287.3" y1="612.1" x2="292.7" y2="612.1" stroke="#000" stroke-width="1.3"/>
<text x="295.5" y="615.5" font-size="10.6" text-anchor="start" fill="#000">-10</text>
<line x1="287.3" y1="642.8" x2="292.7" y2="642.8" stroke="#000" stroke-width="1.3"/>
<text x="295.5" y="646.2" font-size="10.6" text-anchor="start" fill="#000">-20</text>
<line x1="287.3" y1="673.5" x2="292.7" y2="673.5" stroke="#000" stroke-width="1.3"/>
<text x="295.5" y="676.9" font-size="10.6" text-anchor="start" fill="#000">-30</text>
<line x1="223.7" y1="681.5" x2="223.7" y2="685.7" stroke="#000" stroke-width="1.3"/>
<line x1="261.6" y1="681.5" x2="261.6" y2="685.7" stroke="#000" stroke-width="1.3"/>
<line x1="223.7" y1="548.8" x2="261.9" y2="548.8" stroke="#1a1a1a" stroke-width="1.9"/>
<text x="242.8" y="548.3" font-size="10.5" text-anchor="middle" fill="#111">*</text>
<text x="207.2" y="579.2" font-size="9.2" text-anchor="start" fill="#3aab86" transform="rotate(-90 207.2 579.2)">Efflux</text>
<text x="207.2" y="605.9" font-size="9.2" text-anchor="start" fill="#92d2bb" transform="rotate(-90 207.2 605.9)">Influx</text>
<text x="223.7" y="698.5" font-size="10.2" text-anchor="middle" fill="#000">t = 0</text>
<text x="262" y="698.5" font-size="10.2" text-anchor="middle" fill="#000">t = 190</text>
<text x="175.6" y="613.4" font-size="10.3" text-anchor="middle" fill="#000" transform="rotate(-90 175.6 613.4)">-ΔF/F<tspan font-size="7.42" dy="1.8">o</tspan><tspan dy="-1.8"> (%)</tspan></text>
<text x="317.5" y="615" font-size="10.6" text-anchor="middle" fill="#000" transform="rotate(90 317.5 615)">Estimated -DF<tspan font-size="6.36" dy="2.4">GABAA</tspan><tspan dy="-2.4"> (mV)</tspan></text>
<text x="240" y="536" font-size="11.7" text-anchor="middle" fill="#000">4-AP</text>
<rect x="558.2" y="554.6" width="89.2" height="33" fill="#c3e5db"/>
<rect x="558.2" y="587.6" width="89.2" height="100" fill="#e6f4f0"/>
<polyline points="583.9,592.58 622.3,592.58" fill="none" stroke="#b8b8b8" stroke-width="0.6" stroke-linejoin="round"/>
<polyline points="583.9,594.24 622.3,602.54" fill="none" stroke="#b8b8b8" stroke-width="0.6" stroke-linejoin="round"/>
<polyline points="583.9,595.9 622.3,585.11" fill="none" stroke="#b8b8b8" stroke-width="0.6" stroke-linejoin="round"/>
<polyline points="583.9,597.56 622.3,609.18" fill="none" stroke="#b8b8b8" stroke-width="0.6" stroke-linejoin="round"/>
<polyline points="583.9,599.22 622.3,595.9" fill="none" stroke="#b8b8b8" stroke-width="0.6" stroke-linejoin="round"/>
<polyline points="583.9,600.88 622.3,619.14" fill="none" stroke="#b8b8b8" stroke-width="0.6" stroke-linejoin="round"/>
<polyline points="583.9,602.54 622.3,590.92" fill="none" stroke="#b8b8b8" stroke-width="0.6" stroke-linejoin="round"/>
<polyline points="583.9,604.2 622.3,589.26" fill="none" stroke="#b8b8b8" stroke-width="0.6" stroke-linejoin="round"/>
<polyline points="583.9,605.86 622.3,612.5" fill="none" stroke="#b8b8b8" stroke-width="0.6" stroke-linejoin="round"/>
<polyline points="583.9,607.52 622.3,625.78" fill="none" stroke="#b8b8b8" stroke-width="0.6" stroke-linejoin="round"/>
<polyline points="583.9,609.18 622.3,599.22" fill="none" stroke="#b8b8b8" stroke-width="0.6" stroke-linejoin="round"/>
<polyline points="583.9,610.84 622.3,615.82" fill="none" stroke="#b8b8b8" stroke-width="0.6" stroke-linejoin="round"/>
<polyline points="583.9,612.5 622.3,597.56" fill="none" stroke="#b8b8b8" stroke-width="0.6" stroke-linejoin="round"/>
<polyline points="583.9,614.16 622.3,605.86" fill="none" stroke="#b8b8b8" stroke-width="0.6" stroke-linejoin="round"/>
<polyline points="583.9,620.8 622.3,604.2" fill="none" stroke="#b8b8b8" stroke-width="0.6" stroke-linejoin="round"/>
<polyline points="583.9,622.46 622.3,622.46" fill="none" stroke="#b8b8b8" stroke-width="0.6" stroke-linejoin="round"/>
<polyline points="583.9,627.44 622.3,610.84" fill="none" stroke="#b8b8b8" stroke-width="0.6" stroke-linejoin="round"/>
<polyline points="583.9,630.76 622.3,617.48" fill="none" stroke="#b8b8b8" stroke-width="0.6" stroke-linejoin="round"/>
<polyline points="583.9,634.08 622.3,642.38" fill="none" stroke="#b8b8b8" stroke-width="0.6" stroke-linejoin="round"/>
<polyline points="583.9,635.74 622.3,678.9" fill="none" stroke="#b8b8b8" stroke-width="0.6" stroke-linejoin="round"/>
<polyline points="583.9,596.73 622.3,620.8" fill="none" stroke="#b8b8b8" stroke-width="0.6" stroke-linejoin="round"/>
<polyline points="583.9,603.37 622.3,594.24" fill="none" stroke="#b8b8b8" stroke-width="0.6" stroke-linejoin="round"/>
<polyline points="583.9,615.82 622.3,607.52" fill="none" stroke="#b8b8b8" stroke-width="0.6" stroke-linejoin="round"/>
<circle cx="583.9" cy="592.58" r="2.1" fill="#a6a6a6" stroke="#707070" stroke-width="0.55"/>
<circle cx="622.3" cy="592.58" r="2.1" fill="#a6a6a6" stroke="#707070" stroke-width="0.55"/>
<circle cx="583.9" cy="594.24" r="2.1" fill="#a6a6a6" stroke="#707070" stroke-width="0.55"/>
<circle cx="622.3" cy="602.54" r="2.1" fill="#a6a6a6" stroke="#707070" stroke-width="0.55"/>
<circle cx="583.9" cy="595.9" r="2.1" fill="#a6a6a6" stroke="#707070" stroke-width="0.55"/>
<circle cx="622.3" cy="585.11" r="2.1" fill="#a6a6a6" stroke="#707070" stroke-width="0.55"/>
<circle cx="583.9" cy="597.56" r="2.1" fill="#a6a6a6" stroke="#707070" stroke-width="0.55"/>
<circle cx="622.3" cy="609.18" r="2.1" fill="#a6a6a6" stroke="#707070" stroke-width="0.55"/>
<circle cx="583.9" cy="599.22" r="2.1" fill="#a6a6a6" stroke="#707070" stroke-width="0.55"/>
<circle cx="622.3" cy="595.9" r="2.1" fill="#a6a6a6" stroke="#707070" stroke-width="0.55"/>
<circle cx="583.9" cy="600.88" r="2.1" fill="#a6a6a6" stroke="#707070" stroke-width="0.55"/>
<circle cx="622.3" cy="619.14" r="2.1" fill="#a6a6a6" stroke="#707070" stroke-width="0.55"/>
<circle cx="583.9" cy="602.54" r="2.1" fill="#a6a6a6" stroke="#707070" stroke-width="0.55"/>
<circle cx="622.3" cy="590.92" r="2.1" fill="#a6a6a6" stroke="#707070" stroke-width="0.55"/>
<circle cx="583.9" cy="604.2" r="2.1" fill="#a6a6a6" stroke="#707070" stroke-width="0.55"/>
<circle cx="622.3" cy="589.26" r="2.1" fill="#a6a6a6" stroke="#707070" stroke-width="0.55"/>
<circle cx="583.9" cy="605.86" r="2.1" fill="#a6a6a6" stroke="#707070" stroke-width="0.55"/>
<circle cx="622.3" cy="612.5" r="2.1" fill="#a6a6a6" stroke="#707070" stroke-width="0.55"/>
<circle cx="583.9" cy="607.52" r="2.1" fill="#a6a6a6" stroke="#707070" stroke-width="0.55"/>
<circle cx="622.3" cy="625.78" r="2.1" fill="#a6a6a6" stroke="#707070" stroke-width="0.55"/>
<circle cx="583.9" cy="609.18" r="2.1" fill="#a6a6a6" stroke="#707070" stroke-width="0.55"/>
<circle cx="622.3" cy="599.22" r="2.1" fill="#a6a6a6" stroke="#707070" stroke-width="0.55"/>
<circle cx="583.9" cy="610.84" r="2.1" fill="#a6a6a6" stroke="#707070" stroke-width="0.55"/>
<circle cx="622.3" cy="615.82" r="2.1" fill="#a6a6a6" stroke="#707070" stroke-width="0.55"/>
<circle cx="583.9" cy="612.5" r="2.1" fill="#a6a6a6" stroke="#707070" stroke-width="0.55"/>
<circle cx="622.3" cy="597.56" r="2.1" fill="#a6a6a6" stroke="#707070" stroke-width="0.55"/>
<circle cx="583.9" cy="614.16" r="2.1" fill="#a6a6a6" stroke="#707070" stroke-width="0.55"/>
<circle cx="622.3" cy="605.86" r="2.1" fill="#a6a6a6" stroke="#707070" stroke-width="0.55"/>
<circle cx="583.9" cy="620.8" r="2.1" fill="#a6a6a6" stroke="#707070" stroke-width="0.55"/>
<circle cx="622.3" cy="604.2" r="2.1" fill="#a6a6a6" stroke="#707070" stroke-width="0.55"/>
<circle cx="583.9" cy="622.46" r="2.1" fill="#a6a6a6" stroke="#707070" stroke-width="0.55"/>
<circle cx="622.3" cy="622.46" r="2.1" fill="#a6a6a6" stroke="#707070" stroke-width="0.55"/>
<circle cx="583.9" cy="627.44" r="2.1" fill="#a6a6a6" stroke="#707070" stroke-width="0.55"/>
<circle cx="622.3" cy="610.84" r="2.1" fill="#a6a6a6" stroke="#707070" stroke-width="0.55"/>
<circle cx="583.9" cy="630.76" r="2.1" fill="#a6a6a6" stroke="#707070" stroke-width="0.55"/>
<circle cx="622.3" cy="617.48" r="2.1" fill="#a6a6a6" stroke="#707070" stroke-width="0.55"/>
<circle cx="583.9" cy="634.08" r="2.1" fill="#a6a6a6" stroke="#707070" stroke-width="0.55"/>
<circle cx="622.3" cy="642.38" r="2.1" fill="#a6a6a6" stroke="#707070" stroke-width="0.55"/>
<circle cx="583.9" cy="635.74" r="2.1" fill="#a6a6a6" stroke="#707070" stroke-width="0.55"/>
<circle cx="622.3" cy="678.9" r="2.1" fill="#a6a6a6" stroke="#707070" stroke-width="0.55"/>
<circle cx="583.9" cy="596.73" r="2.1" fill="#a6a6a6" stroke="#707070" stroke-width="0.55"/>
<circle cx="622.3" cy="620.8" r="2.1" fill="#a6a6a6" stroke="#707070" stroke-width="0.55"/>
<circle cx="583.9" cy="603.37" r="2.1" fill="#a6a6a6" stroke="#707070" stroke-width="0.55"/>
<circle cx="622.3" cy="594.24" r="2.1" fill="#a6a6a6" stroke="#707070" stroke-width="0.55"/>
<circle cx="583.9" cy="615.82" r="2.1" fill="#a6a6a6" stroke="#707070" stroke-width="0.55"/>
<circle cx="622.3" cy="607.52" r="2.1" fill="#a6a6a6" stroke="#707070" stroke-width="0.55"/>
<line x1="558.2" y1="587.6" x2="647.4" y2="587.6" stroke="#111" stroke-width="1.2" stroke-dasharray="1.3,1.6"/>
<polyline points="583.9,607.52 622.3,609.18" fill="none" stroke="#222" stroke-width="1.4" stroke-linejoin="round"/>
<line x1="583.9" y1="605.03" x2="583.9" y2="610.01" stroke="#222" stroke-width="1"/>
<line x1="582.4" y1="605.03" x2="585.4" y2="605.03" stroke="#222" stroke-width="0.8"/>
<line x1="582.4" y1="610.01" x2="585.4" y2="610.01" stroke="#222" stroke-width="0.8"/>
<line x1="622.3" y1="605.86" x2="622.3" y2="612.5" stroke="#222" stroke-width="1"/>
<line x1="620.8" y1="605.86" x2="623.8" y2="605.86" stroke="#222" stroke-width="0.8"/>
<line x1="620.8" y1="612.5" x2="623.8" y2="612.5" stroke="#222" stroke-width="0.8"/>
<rect x="581.1" y="604.72" width="5.6" height="5.6" fill="#1e1e1e"/>
<rect x="619.5" y="606.38" width="5.6" height="5.6" fill="#1e1e1e"/>
<line x1="558.2" y1="554.1" x2="558.2" y2="688.2" stroke="#000" stroke-width="1.3"/>
<line x1="647.4" y1="554.1" x2="647.4" y2="688.2" stroke="#000" stroke-width="1.3"/>
<line x1="557.6" y1="687.6" x2="648" y2="687.6" stroke="#000" stroke-width="1.3"/>
<line x1="552.6" y1="554.4" x2="558.2" y2="554.4" stroke="#000" stroke-width="1.3"/>
<text x="551" y="557.9" font-size="10.6" text-anchor="end" fill="#000">2</text>
<line x1="552.6" y1="587.6" x2="558.2" y2="587.6" stroke="#000" stroke-width="1.3"/>
<text x="551" y="591.1" font-size="10.6" text-anchor="end" fill="#000">0</text>
<line x1="552.6" y1="620.8" x2="558.2" y2="620.8" stroke="#000" stroke-width="1.3"/>
<text x="551" y="624.3" font-size="10.6" text-anchor="end" fill="#000">-2</text>
<line x1="552.6" y1="654" x2="558.2" y2="654" stroke="#000" stroke-width="1.3"/>
<text x="551" y="657.5" font-size="10.6" text-anchor="end" fill="#000">-4</text>
<line x1="552.6" y1="687.2" x2="558.2" y2="687.2" stroke="#000" stroke-width="1.3"/>
<text x="551" y="690.7" font-size="10.6" text-anchor="end" fill="#000">-6</text>
<line x1="647.4" y1="556" x2="652.8" y2="556" stroke="#000" stroke-width="1.3"/>
<text x="655.6" y="559.4" font-size="10.6" text-anchor="start" fill="#000">10</text>
<line x1="647.4" y1="587.6" x2="652.8" y2="587.6" stroke="#000" stroke-width="1.3"/>
<text x="655.6" y="591" font-size="10.6" text-anchor="start" fill="#000">0</text>
<line x1="647.4" y1="617.8" x2="652.8" y2="617.8" stroke="#000" stroke-width="1.3"/>
<text x="655.6" y="621.2" font-size="10.6" text-anchor="start" fill="#000">-10</text>
<line x1="647.4" y1="648.4" x2="652.8" y2="648.4" stroke="#000" stroke-width="1.3"/>
<text x="655.6" y="651.8" font-size="10.6" text-anchor="start" fill="#000">-20</text>
<line x1="647.4" y1="679.5" x2="652.8" y2="679.5" stroke="#000" stroke-width="1.3"/>
<text x="655.6" y="682.9" font-size="10.6" text-anchor="start" fill="#000">-30</text>
<line x1="583.9" y1="687.6" x2="583.9" y2="691.8" stroke="#000" stroke-width="1.3"/>
<line x1="622.3" y1="687.6" x2="622.3" y2="691.8" stroke="#000" stroke-width="1.3"/>
<line x1="585.3" y1="554.5" x2="622.6" y2="554.5" stroke="#1a1a1a" stroke-width="1.9"/>
<text x="603.95" y="551.9" font-size="10.4" text-anchor="middle" fill="#000">ns</text>
<text x="567.6" y="585.4" font-size="9.2" text-anchor="start" fill="#3aab86" transform="rotate(-90 567.6 585.4)">Efflux</text>
<text x="567.6" y="612.1" font-size="9.2" text-anchor="start" fill="#92d2bb" transform="rotate(-90 567.6 612.1)">Influx</text>
<text x="583.9" y="704.5" font-size="10.2" text-anchor="middle" fill="#000">t = 0</text>
<text x="622.6" y="704.5" font-size="10.2" text-anchor="middle" fill="#000">t = 190</text>
<text x="535.5" y="621.6" font-size="10.3" text-anchor="middle" fill="#000" transform="rotate(-90 535.5 621.6)">-ΔF/F<tspan font-size="7.42" dy="1.8">o</tspan><tspan dy="-1.8"> (%)</tspan></text>
<text x="677" y="625" font-size="10.6" text-anchor="middle" fill="#000" transform="rotate(90 677 625)">Estimated -DF<tspan font-size="6.36" dy="2.4">GABAA</tspan><tspan dy="-2.4"> (mV)</tspan></text>
<text x="601.8" y="541.6" font-size="11.7" text-anchor="middle" fill="#000">TTX</text>
<rect x="151.6" y="106" width="5.4" height="103" fill="#dcedf8"/>
<rect x="176.6" y="106" width="5.4" height="72.6" fill="#dcedf8"/>
<rect x="202.3" y="106" width="5.4" height="72.6" fill="#dcedf8"/>
<rect x="228" y="106" width="5.4" height="103" fill="#dcedf8"/>
<rect x="254" y="106" width="5.4" height="103" fill="#dcedf8"/>
<rect x="279" y="106" width="5.4" height="103" fill="#dcedf8"/>
<rect x="304.7" y="106" width="5.4" height="103" fill="#dcedf8"/>
<rect x="330.4" y="106" width="5.4" height="103" fill="#dcedf8"/>
<rect x="356" y="106" width="5.4" height="103" fill="#dcedf8"/>
<rect x="381.4" y="106" width="5.4" height="103" fill="#dcedf8"/>
<rect x="407.2" y="106" width="5.4" height="103" fill="#dcedf8"/>
<rect x="96.2" y="161" width="5.4" height="48" fill="#dcedf8"/>
<rect x="125.8" y="161" width="5.4" height="48" fill="#dcedf8"/>
<rect x="432.7" y="160.7" width="5.2" height="48.3" fill="#dcedf8"/>
<rect x="469.2" y="172" width="5.2" height="37" fill="#dcedf8"/>
<rect x="125.9" y="324.8" width="5.2" height="104" fill="#dcedf8"/>
<rect x="151.6" y="324.8" width="5.2" height="104" fill="#dcedf8"/>
<rect x="255" y="324.8" width="5.2" height="104" fill="#dcedf8"/>
<rect x="280.7" y="324.8" width="5.2" height="104" fill="#dcedf8"/>
<rect x="306.4" y="324.8" width="5.2" height="104" fill="#dcedf8"/>
<rect x="332" y="324.8" width="5.2" height="104" fill="#dcedf8"/>
<rect x="357.3" y="324.8" width="5.2" height="104" fill="#dcedf8"/>
<rect x="383.1" y="324.8" width="5.2" height="104" fill="#dcedf8"/>
<rect x="408.9" y="324.8" width="5.2" height="104" fill="#dcedf8"/>
<rect x="435.2" y="324.8" width="5.2" height="104" fill="#dcedf8"/>
<rect x="96.1" y="376.8" width="5.2" height="51.8" fill="#dcedf8"/>
<rect x="177.3" y="376.8" width="5.2" height="51.8" fill="#dcedf8"/>
<rect x="203" y="376.8" width="5.2" height="51.8" fill="#dcedf8"/>
<rect x="228.7" y="376.8" width="5.2" height="51.8" fill="#dcedf8"/>
<rect x="471" y="376.8" width="5.2" height="51.8" fill="#dcedf8"/>
<polyline points="89.4,191.43 89.7,190.14 90,191.05 90.3,189.93 90.6,192.13 90.9,194.79 91.2,190.97 91.5,190.71 91.8,193.02 92.1,192.74 92.4,192.22 92.7,190.06 93,191.94 93.3,193.45 93.6,189.2 93.9,191.05 94.2,188.04 94.5,189.31 94.8,188.16 95.1,191.51 95.4,189.36 95.7,192.57 96,192.33 96.3,191.61 96.6,194.14 96.9,198.18 97.2,199.12 97.5,199.37 97.8,195.86 98.1,197.97 98.4,196.84 98.7,197.11 99,200.92 99.3,196.94 99.6,198.47 99.9,200.3 100.2,197.15 100.5,198.05 100.8,198.43 101.1,198.25 101.4,189.45 101.7,192.16 102,194.83 102.3,188.78 102.6,193.79 102.9,192.25 103.2,190.66 103.5,196.17 103.8,193.59 104.1,189.5 104.4,192.16 104.7,193.2 105,191.61 105.3,193.42 105.6,191.86 105.9,193.39 106.2,195 106.5,190.59 106.8,192.42 107.1,191.03 107.4,192.27 107.7,189.53 108,190.79 108.3,191.59" fill="none" stroke="#ef5b2b" stroke-width="0.75" stroke-linejoin="round" stroke-opacity="0.95"/>
<polyline points="120,193 120.22,186.9 120.44,190.44 120.66,191.29 120.88,194.43 121.1,193.12 121.32,190.77 121.54,190.68 121.76,190.96 121.98,195.07 122.2,190.56 122.42,190.85 122.64,192.38 122.86,191.29 123.08,191.12 123.3,189 123.52,191.56 123.74,190.56 123.96,194.29 124.18,193.11 124.4,191.55 124.62,193.15 124.84,190.83 125.06,194.05 125.28,191.61 125.5,192.98 125.72,188.65 125.94,192.44 126.16,188.23 126.38,187.43 126.6,191.43 126.82,190.06 127.04,192.52 127.26,197.34 127.48,190.22 127.7,190.7 127.92,192.62 128.14,193.29 128.36,191.74 128.58,191.67 128.8,193.77 129.02,193.35 129.24,189.76 129.46,191.97 129.68,192.23 129.9,189.71 130.12,192.76 130.34,190.17 130.56,194.4 130.78,192.6 131,191.96 131.22,190.39 131.44,191.49 131.66,187.15 131.88,189.16 132.1,192.62 132.32,186.86 132.54,193.75 132.76,187.76 132.98,193.55 133.2,189.85 133.42,193.61 133.64,192.12 133.86,188.27 134.08,194.72 134.3,195.17 134.52,191.69 134.74,191.21 134.96,191.48 135.18,189.6 135.4,194.4 135.62,190.61 135.84,191.75 136.06,190.04 136.28,190.43 136.5,188.93 136.72,194.8 136.94,191.54 137.16,194.13 137.38,191.94 137.6,190.3 137.82,191.16 138.04,190.62 138.26,191.94 138.48,191.06 138.7,191.24 138.92,188.75 139.14,190.08 139.36,195.78 139.58,190.4 139.8,189.52 140.02,192.75 140.24,195.23 140.46,188.61 140.68,191.5 140.9,190.52 141.12,187.92 141.34,193.7 141.56,191.95 141.78,192.17 142,190.27 142.22,193.07 142.44,190.77 142.66,191.7 142.88,189.47 143.1,189.22 143.32,195.13 143.54,190.87 143.76,192.73 143.98,191.98 144.2,191.04 144.42,190.89 144.64,193.53 144.86,191.38 145.08,191.73 145.3,192.14 145.52,194.82 145.74,193.67 145.96,192.99 146.18,190.8 146.4,188.92 146.62,194.32 146.84,194.36 147.06,191.8 147.28,193.39 147.5,193.95 147.72,194.07 147.94,194.28 148.16,191.1 148.38,195.67 148.6,189.28 148.82,194.16 149.04,193.32 149.26,194.2 149.48,196.53 149.7,195.63 149.92,189.55 150.14,188.29 150.36,194.1 150.58,189.86 150.8,192.19 151.02,194.16 151.24,188.42 151.46,187.35 151.68,192.84 151.9,198.77 152.12,198.05 152.34,198.66 152.56,196.53 152.78,194.97 153,198.04 153.22,196.13 153.44,194.52 153.66,199.45 153.88,198.09 154.1,199.12 154.32,195.84 154.54,196.56 154.76,195.72 154.98,195.93 155.2,198.39 155.42,196.08 155.64,198.66 155.86,198.58 156.08,202.43 156.3,194.47 156.52,199.7 156.74,192.15 156.96,192.33 157.18,189.01 157.4,191.3 157.62,194.09 157.84,192.19 158.06,192.57 158.28,191.72 158.5,195.07 158.72,192.35 158.94,187.31 159.16,190.81 159.38,187.86 159.6,184.9 159.82,191.2 160.04,195.52 160.26,192.55 160.48,189.73 160.7,190.27 160.92,195.07 161.14,192.82 161.36,192.57 161.58,192.34 161.8,192.56 162.02,194.34 162.24,193.76 162.46,192.99 162.68,190.08 162.9,193.68 163.12,190.32 163.34,193.33 163.56,186.76 163.78,188.28 164,187.48 164.22,183.34 164.44,189.28 164.66,186.57 164.88,179.62 165.1,179.99 165.32,176.58 165.54,167.17 165.76,171.3 165.98,168.08 166.2,167.53 166.42,164.11 166.64,165.24 166.86,164.72 167.08,167.15 167.3,164.44 167.52,162.92 167.74,165.74 167.96,160.18 168.18,159.83 168.4,155.8 168.62,162.9 168.84,160.76 169.06,160.06 169.28,159.24 169.5,157.7 169.72,157.71 169.94,156.38 170.16,156.25 170.38,156.61 170.6,159.74 170.82,157.28 171.04,155.62 171.26,154.17 171.48,153.8 171.7,158.74 171.92,155.96 172.14,154.7 172.36,153.5 172.58,151.5 172.8,153.67 173.02,151.22 173.24,148.84 173.46,149.63 173.68,149.94 173.9,150.89 174.12,147.18 174.34,150.58 174.56,149.35 174.78,153.53 175,149.83 175.22,153.04 175.44,155.3 175.66,151.1 175.88,150.47 176.1,146.04 176.32,146.74 176.54,145.38 176.76,149.51 176.98,153.72 177.2,148.96 177.42,149.49 177.64,147.86 177.86,151.27 178.08,147.85 178.3,148.33 178.52,153.98 178.74,145 178.96,150.4 179.18,152.07 179.4,149.67 179.62,150.77 179.84,154.35 180.06,149.65 180.28,148.94 180.5,147.35 180.72,145.22 180.94,149.64 181.16,149.33 181.38,145.65 181.6,146.44 181.82,147.73 182.04,149.95 182.26,149.1 182.48,150.32 182.7,150.7 182.92,144.71 183.14,146.31 183.36,147.7 183.58,147.71 183.8,149.62 184.02,153.23 184.24,150.64 184.46,149.7 184.68,145.92 184.9,150.91 185.12,145.67 185.34,140.69 185.56,147.19 185.78,147.87 186,146.74 186.22,143.81 186.44,147.47 186.66,147.22 186.88,150.64 187.1,154.69 187.32,150.22 187.54,141.78 187.76,142.18 187.98,145.84 188.2,146.44 188.42,144.9 188.64,148.42 188.86,145.97 189.08,151.6 189.3,151.8 189.52,152.11 189.74,148.72 189.96,145.48 190.18,145.16 190.4,145.52 190.62,146.42 190.84,144.84 191.06,145.03 191.28,150.63 191.5,148.7 191.72,149.93 191.94,151.98 192.16,145.84 192.38,148.19 192.6,143.93 192.82,145.73 193.04,145.01 193.26,149.13 193.48,147.95 193.7,145.23 193.92,146.36 194.14,150.76 194.36,150.29 194.58,136.23 194.8,145.56 195.02,145.31 195.24,148.24 195.46,145.24 195.68,146.25 195.9,144.99 196.12,154.01 196.34,148.18 196.56,152.62 196.78,147.74 197,149.86 197.22,139.05 197.44,143.41 197.66,147.7 197.88,143.46 198.1,149.59 198.32,148.51 198.54,145.82 198.76,147.48 198.98,147.92 199.2,149.14 199.42,148.24 199.64,147.75 199.86,139.43 200.08,139.63 200.3,140.54 200.52,144.66 200.74,147.83 200.96,143.08 201.18,147.31 201.4,146.35 201.62,146.04 201.84,150.64 202.06,147.76 202.28,152.67 202.5,147.59 202.72,150.44 202.94,139.21 203.16,139.89 203.38,144.55 203.6,144.1 203.82,146.89 204.04,146.23 204.26,144.52 204.48,147.36 204.7,148.17 204.92,150.64 205.14,146.63 205.36,148.88 205.58,134.12 205.8,141.77 206.02,139.53 206.24,139.3 206.46,144.53 206.68,148.19 206.9,142.89 207.12,144.54 207.34,145.86 207.56,133.5 207.78,139.49 208,138.79 208.22,140.66 208.44,145.05 208.66,143.07 208.88,146.73 209.1,144.22 209.32,144.27 209.54,143.32 209.76,143.23 209.98,140.15 210.2,143.06 210.42,143.74 210.64,145.25 210.86,145.87 211.08,150.89 211.3,144.65 211.52,143.92 211.74,135.27 211.96,136.71 212.18,143.3 212.4,144.93 212.62,142 212.84,141.97 213.06,145.16 213.28,149.85 213.5,140.63 213.72,137.86 213.94,136.49 214.16,143.29 214.38,139.95 214.6,143.05 214.82,141.27 215.04,143.34 215.26,149.49 215.48,148.74 215.7,146.36 215.92,145.64 216.14,143.57 216.36,132.36 216.58,136.09 216.8,138.34 217.02,140.25 217.24,139.45 217.46,143.18 217.68,144.3 217.9,148.23 218.12,150.26 218.34,131.81 218.56,133.42 218.78,137.55 219,138.34 219.22,139.7 219.44,142.65 219.66,141.49 219.88,146.21 220.1,145.31 220.32,146.73 220.54,146.22 220.76,145.35 220.98,145.16 221.2,147.07 221.42,137.59 221.64,141.19 221.86,142.1 222.08,140.15 222.3,144.43 222.52,141.96 222.74,144.29 222.96,145.56 223.18,141.86 223.4,135.06 223.62,137.68 223.84,138.99 224.06,140.03 224.28,141.5 224.5,141.21 224.72,143.74 224.94,143.82 225.16,145.91 225.38,143.39 225.6,147.12 225.82,147.22 226.04,136.73 226.26,138.07 226.48,142.03 226.7,138.25 226.92,144.28 227.14,144.68 227.36,145.5 227.58,146.33 227.8,144.42 228.02,145.72 228.24,148.12 228.46,133.57 228.68,135.85 228.9,134.16 229.12,140.78 229.34,143.77 229.56,144.65 229.78,143.87 230,140.55 230.22,146.87 230.44,144.75 230.66,139.54 230.88,146.49 231.1,123.16 231.32,127.17 231.54,131.59 231.76,138.34 231.98,136.42 232.2,139.41 232.42,144.03 232.64,144.64 232.86,141.46 233.08,141.73 233.3,139.82 233.52,141.47 233.74,144.31 233.96,128.63 234.18,130.94 234.4,135.4 234.62,133.25 234.84,136.46 235.06,139.53 235.28,140.18 235.5,142.08 235.72,141.13 235.94,139.97 236.16,141.87 236.38,138.98 236.6,137.69 236.82,120.96 237.04,123.54 237.26,127.67 237.48,125.69 237.7,130.93 237.92,132.11 238.14,132.93 238.36,130.89 238.58,136.28 238.8,139.89 239.02,139.3 239.24,137.5 239.46,139.23 239.68,126.88 239.9,121.57 240.12,129.97 240.34,133.39 240.56,135.22 240.78,138.8 241,138.48 241.22,137.36 241.44,137.96 241.66,139.58 241.88,136.9 242.1,138.36 242.32,140.78 242.54,143.38 242.76,116.55 242.98,120.89 243.2,124.79 243.42,130.14 243.64,129.16 243.86,134.41 244.08,130.22 244.3,133.19 244.52,134.1 244.74,137.12 244.96,118.39 245.18,116.58 245.4,121.31 245.62,126.94 245.84,126.87 246.06,126.68 246.28,134.08 246.5,134.01 246.72,134.97 246.94,133.51 247.16,137.61 247.38,111.92 247.6,119.62 247.82,118.74 248.04,121.95 248.26,126.9 248.48,126.84 248.7,131.68 248.92,132.06 249.14,130.41 249.36,133.59 249.58,114.54 249.8,121.45 250.02,121.1 250.24,124.19 250.46,130.16 250.68,134.28 250.9,135.15 251.12,131.82 251.34,133.11 251.56,136.9 251.78,104.89 252,108.61 252.22,115.79 252.44,120.37 252.66,120.5 252.88,121.13 253.1,123.67 253.32,130.2 253.54,128.26 253.76,130.79 253.98,132.5 254.2,116.81 254.42,118.32 254.64,123.28 254.86,122.53 255.08,125.8 255.3,126.01 255.52,132.44 255.74,130.94 255.96,130.27 256.18,131.97 256.4,132.94 256.62,115.44 256.84,114.25 257.06,118.93 257.28,123.23 257.5,132.25 257.72,130.48 257.94,129.55 258.16,132.73 258.38,136.89 258.6,104.47 258.82,109.96 259.04,118.36 259.26,120.59 259.48,124.2 259.7,124.1 259.92,131.89 260.14,133.17 260.36,131.98 260.58,133.46 260.8,105.8 261.02,116.85 261.24,118.92 261.46,123.66 261.68,126.93 261.9,126.78 262.12,125.48 262.34,131.74 262.56,130.41 262.78,132.38 263,115.26 263.22,119.71 263.44,118.31 263.66,129.05 263.88,128.95 264.1,132.69 264.32,136.14 264.54,132.8 264.76,129.55 264.98,132.47 265.2,132.49 265.42,134.77 265.64,136.67 265.86,132.33 266.08,107.78 266.3,109.36 266.52,118.38 266.74,121.42 266.96,124.22 267.18,127.49 267.4,128.66 267.62,130.35 267.84,129.42 268.06,110.07 268.28,119.92 268.5,124.77 268.72,126.99 268.94,128.65 269.16,128 269.38,135.02 269.6,133.31 269.82,134.74 270.04,135.49 270.26,137.67 270.48,118.82 270.7,124.03 270.92,125.4 271.14,130.12 271.36,138.86 271.58,135.62 271.8,137.11 272.02,140.5 272.24,142.29 272.46,139.29 272.68,142.45 272.9,143.93 273.12,134.66 273.34,124.39 273.56,116.62 273.78,111.99 274,113.56 274.22,114.91 274.44,115.7 274.66,117.74 274.88,122.4 275.1,122.82 275.32,129.82 275.54,132.85 275.76,138.57 275.98,137.43 276.2,136.56 276.42,137.88 276.64,134.85 276.86,142.1 277.08,144.74 277.3,148.75 277.52,149.92 277.74,151.73 277.96,152.87 278.18,155.56 278.4,158.9 278.62,152.65 278.84,149.51 279.06,143.47 279.28,144.87 279.5,139.98 279.72,134.66 279.94,126.69 280.16,125 280.38,119.95 280.6,122.65 280.82,124.89 281.04,128.98 281.26,130 281.48,135.12 281.7,136.71 281.92,138.45 282.14,140.69 282.36,141.5 282.58,145.29 282.8,144.66 283.02,147.16 283.24,147.28 283.46,146.64 283.68,152.58 283.9,150.29 284.12,155 284.34,155.93 284.56,153.43 284.78,156.2 285,158.43 285.22,158.87 285.44,155.06 285.66,155.58 285.88,150.61 286.1,148.67 286.32,144.01 286.54,142.28 286.76,137.16 286.98,135.41 287.2,133.44 287.42,129.31 287.64,125.24 287.86,120.93 288.08,122.08 288.3,124.5 288.52,125.45 288.74,126.58 288.96,131.15 289.18,136.9 289.4,133.73 289.62,137.03 289.84,139.19 290.06,135.76 290.28,143.09 290.5,143.77 290.72,149.97 290.94,149.12 291.16,150.37 291.38,153.67 291.6,156.65 291.82,157.52 292.04,160.73 292.26,160.51 292.48,161.69 292.7,157.01 292.92,152.7 293.14,143.75 293.36,136.36 293.58,131.52 293.8,128.68 294.02,132.23 294.24,133.45 294.46,133.51 294.68,136.54 294.9,138.72 295.12,141.27 295.34,143.41 295.56,143.87 295.78,143.7 296,148.73 296.22,147.7 296.44,153.19 296.66,154.6 296.88,152.96 297.1,158.96 297.32,160.83 297.54,160.9 297.76,165.4 297.98,167.32 298.2,163.03 298.42,168.8 298.64,164.34 298.86,158.18 299.08,153.04 299.3,143.8 299.52,137.92 299.74,131.37 299.96,125.39 300.18,127.52 300.4,127.42 300.62,130.64 300.84,136.16 301.06,137.38 301.28,140.7 301.5,138.85 301.72,143.4 301.94,146.28 302.16,148.82 302.38,148.68 302.6,152.59 302.82,151.75 303.04,152.93 303.26,153.96 303.48,156.31 303.7,155.11 303.92,159.16 304.14,158.95 304.36,159.41 304.58,160.23 304.8,162.17 305.02,164.14 305.24,163.05 305.46,159.87 305.68,158.72 305.9,155.18 306.12,156.84 306.34,155.3 306.56,152.3 306.78,159.62 307,158.17 307.22,156.62 307.44,159.34 307.66,158.91 307.88,165.43 308.1,163.27 308.32,160.23 308.54,165.1 308.76,164.19 308.98,166.62 309.2,154.12 309.42,144.98 309.64,142.46 309.86,134.79 310.08,134.07 310.3,131.6 310.52,137.25 310.74,140.41 310.96,134.43 311.18,141.05 311.4,138.56 311.62,145.37 311.84,143.45 312.06,143.97 312.28,148.12 312.5,148.72 312.72,148.31 312.94,152.47 313.16,151.86 313.38,151.15 313.6,160.07 313.82,156.91 314.04,157.47 314.26,160.32 314.48,157.78 314.7,159.22 314.92,161.89 315.14,162.9 315.36,165.08 315.58,168.11 315.8,166.15 316.02,168.96 316.24,169.52 316.46,166.69 316.68,169.52 316.9,167.66 317.12,171.8 317.34,171 317.56,170.53 317.78,168.32 318,171.42 318.22,170.1 318.44,173.24 318.66,163.65 318.88,151.18 319.1,143.3 319.32,132.92 319.54,132.2 319.76,137.28 319.98,136.28 320.2,138.02 320.42,140.59 320.64,140.7 320.86,143.05 321.08,145.23 321.3,149.89 321.52,151.3 321.74,149.44 321.96,154.44 322.18,152.78 322.4,155.05 322.62,157.47 322.84,157.82 323.06,163.3 323.28,160.66 323.5,159.4 323.72,165.6 323.94,163.82 324.16,165.24 324.38,161.27 324.6,169.93 324.82,170.7 325.04,171.78 325.26,173.24 325.48,175.7 325.7,173.53 325.92,176.5 326.14,174.44 326.36,176.29 326.58,180.08 326.8,179.93 327.02,174.37 327.24,172.42 327.46,166.24 327.68,159.88 327.9,157.1 328.12,150.36 328.34,143.01 328.56,138.72 328.78,139.01 329,133.5 329.22,138.06 329.44,140.08 329.66,141.41 329.88,139.17 330.1,142.16 330.32,144.31 330.54,146.84 330.76,145.38 330.98,145.68 331.2,150.5 331.42,151.35 331.64,150.62 331.86,149.43 332.08,152.01 332.3,152.11 332.52,154.14 332.74,150.86 332.96,154.1 333.18,154.24 333.4,153.1 333.62,156.27 333.84,156.59 334.06,156.61 334.28,159.57 334.5,157.57 334.72,161.58 334.94,163.93 335.16,165.08 335.38,168 335.6,165.13 335.82,165.98 336.04,170.59 336.26,171.74 336.48,175.63 336.7,173.54 336.92,171.47 337.14,175.39 337.36,173.01 337.58,172.55 337.8,181.04 338.02,177.47 338.24,178.95 338.46,173.4 338.68,168.25 338.9,157.86 339.12,152.11 339.34,140.36 339.56,132.16 339.78,129.98 340,130.79 340.22,130.51 340.44,131.51 340.66,132.93 340.88,132.86 341.1,138.61 341.32,138.49 341.54,139.74 341.76,141.03 341.98,143.84 342.2,143.82 342.42,145.23 342.64,142.56 342.86,146.69 343.08,150.81 343.3,146.65 343.52,148.34 343.74,151.23 343.96,152.3 344.18,152.63 344.4,149.34 344.62,154.3 344.84,152.07 345.06,153.7 345.28,157.25 345.5,156.61 345.72,159.65 345.94,165.02 346.16,161.5 346.38,162.35 346.6,160.24 346.82,161.67 347.04,161.83 347.26,163.79 347.48,163.68 347.7,165.45 347.92,167.26 348.14,166.49 348.36,166.3 348.58,167.01 348.8,171.04 349.02,170.89 349.24,173.31 349.46,173.95 349.68,171.93 349.9,174.44 350.12,171.05 350.34,178.69 350.56,177.23 350.78,175.16 351,173.97 351.22,177.48 351.44,173.83 351.66,173.48 351.88,165.94 352.1,154.24 352.32,142.74 352.54,135.04 352.76,129.28 352.98,132.93 353.2,132.61 353.42,133.1 353.64,136.74 353.86,135.14 354.08,141.77 354.3,138.22 354.52,144.24 354.74,139.57 354.96,143.94 355.18,141.45 355.4,142.06 355.62,145.78 355.84,147.64 356.06,144.83 356.28,150.36 356.5,147.49 356.72,150.13 356.94,151.48 357.16,152.87 357.38,149.37 357.6,156.86 357.82,155.89 358.04,155.05 358.26,154.94 358.48,154.7 358.7,156.36 358.92,160.99 359.14,160.34 359.36,159.87 359.58,162.04 359.8,167.02 360.02,164.45 360.24,164.78 360.46,169.24 360.68,168.37 360.9,168.38 361.12,167.96 361.34,166.98 361.56,168.51 361.78,170.62 362,171.92 362.22,173.81 362.44,174.99 362.66,175.17 362.88,175.98 363.1,174.39 363.32,172.88 363.54,176.62 363.76,176.46 363.98,177.68 364.2,179.05 364.42,177.87 364.64,178.78 364.86,181.34 365.08,182.4 365.3,181.6 365.52,184.44 365.74,183.73 365.96,182.87 366.18,185.53 366.4,189.67 366.62,185.49 366.84,188.16 367.06,181.19 367.28,174.04 367.5,162.27 367.72,160.26 367.94,149.29 368.16,141.21 368.38,137.04 368.6,139.91 368.82,140.18 369.04,141.05 369.26,145.12 369.48,142.63 369.7,143.32 369.92,148.1 370.14,149.23 370.36,151.28 370.58,148.48 370.8,153.86 371.02,154 371.24,157.37 371.46,152.63 371.68,156.36 371.9,156.38 372.12,154.85 372.34,157.46 372.56,161.89 372.78,159.83 373,160.3 373.22,164.26 373.44,165.44 373.66,166.39 373.88,163.99 374.1,166.22 374.32,169.01 374.54,166.56 374.76,167.12 374.98,170.83 375.2,172.95 375.42,168.56 375.64,166.56 375.86,169.46 376.08,171.02 376.3,173.41 376.52,175.56 376.74,174.86 376.96,174.54 377.18,176.74 377.4,175.18 377.62,177.46 377.84,176.89 378.06,183.72 378.28,180.74 378.5,178.17 378.72,178.42 378.94,180.02 379.16,178.29 379.38,180.57 379.6,181.1 379.82,184.72 380.04,182.07 380.26,177.98 380.48,173.53 380.7,170.43 380.92,169.11 381.14,167.24 381.36,169.24 381.58,165.36 381.8,168 382.02,166.01 382.24,165.84 382.46,162.37 382.68,164.05 382.9,168.2 383.12,169.76 383.34,167.83 383.56,169.2 383.78,167.31 384,167.69 384.22,167.46 384.44,170.87 384.66,170 384.88,169.23 385.1,169.37 385.32,171.36 385.54,171.23 385.76,169.37 385.98,175.97 386.2,175.32 386.42,176.96 386.64,181.84 386.86,183.09 387.08,183.09 387.3,186.38 387.52,185.45 387.74,188 387.96,185.03 388.18,191.69 388.4,185.88 388.62,190.84 388.84,188.07 389.06,187.87 389.28,189.44 389.5,190.39 389.72,191.13 389.94,193.41 390.16,190.82 390.38,191.89 390.6,189.18 390.82,191.74 391.04,190.77 391.26,189.69 391.48,190.47 391.7,190.61 391.92,191.18 392.14,191.66 392.36,190.02 392.58,182.4 392.8,176.41 393.02,162.99 393.24,156.23 393.46,151.53 393.68,138.32 393.9,143.31 394.12,147.12 394.34,143.89 394.56,153.11 394.78,144.5 395,153.3 395.22,154.72 395.44,154.7 395.66,153.74 395.88,156.03 396.1,154.66 396.32,158.67 396.54,155.8 396.76,158.18 396.98,161.36 397.2,158.15 397.42,160.35 397.64,162.13 397.86,160.07 398.08,165.58 398.3,164.81 398.52,162.08 398.74,165.64 398.96,165.04 399.18,166.05 399.4,168.22 399.62,167.51 399.84,171.46 400.06,168.99 400.28,172.6 400.5,171.09 400.72,173.22 400.94,171.01 401.16,171.51 401.38,170.71 401.6,174.41 401.82,175.52 402.04,178.18 402.26,177.05 402.48,175.51 402.7,175.07 402.92,176.63 403.14,176.27 403.36,179.52 403.58,178.97 403.8,176.03 404.02,176.73 404.24,180.98 404.46,179.35 404.68,178.7 404.9,181.74 405.12,179.13 405.34,179.7 405.56,179.73 405.78,177.26 406,182.97 406.22,179.41 406.44,180.99 406.66,181.03 406.88,184.17 407.1,179.87 407.32,173.43 407.54,163.63 407.76,164.77 407.98,162.05 408.2,165.33 408.42,165.35 408.64,164.53 408.86,168.34 409.08,165.38 409.3,165.42 409.52,164.47 409.74,163.74 409.96,165.84 410.18,166.62 410.4,162.74 410.62,167.85 410.84,167.49 411.06,169 411.28,168.72 411.5,166.15 411.72,166.94 411.94,173.27 412.16,173.36 412.38,174.16 412.6,181.46 412.82,184.08 413.04,184.53 413.26,183.75 413.48,185.11 413.7,188.71 413.92,188.17 414.14,187.85 414.36,188.93 414.58,189.59 414.8,184.54 415.02,188.01 415.24,187.08 415.46,186.37 415.68,187.73 415.9,188.6 416.12,188.39 416.34,186.2 416.56,188.1 416.78,192.89 417,187.15 417.22,186.02 417.44,189.79 417.66,190.46 417.88,190.27 418.1,187.34 418.32,191.41 418.54,188.1 418.76,187.5 418.98,188.56 419.2,189.57 419.42,191.18 419.64,191.08 419.86,189.92 420.08,191.77 420.3,190.17 420.52,191.71 420.74,187.38 420.96,187.06 421.18,191.51 421.4,187.43 421.62,189.49 421.84,189.89 422.06,189.16 422.28,189.23 422.5,192.73 422.72,185.33 422.94,191.79 423.16,194.46 423.38,190.18 423.6,190.11 423.82,191.53 424.04,193.62 424.26,187.92 424.48,190.34 424.7,189.84 424.92,191.25 425.14,190.51 425.36,191.46 425.58,189.43 425.8,190.32 426.02,188.97 426.24,188.99 426.46,189.99 426.68,190 426.9,188.06 427.12,193.25 427.34,190.04 427.56,187.69 427.78,192.39 428,188.91 428.22,191.29 428.44,190.31 428.66,190.82 428.88,190.68 429.1,189.28 429.32,190.45 429.54,194.22 429.76,186.16 429.98,190.52 430.2,191.23 430.42,188.43 430.64,187.84 430.86,194.52 431.08,189.74 431.3,194.38 431.52,191.47 431.74,190.61 431.96,191.38 432.18,191.69 432.4,192.73 432.62,188.5 432.84,182.76 433.06,177.63 433.28,176.53 433.5,175.44 433.72,171.92 433.94,172.53 434.16,174.28 434.38,172.4 434.6,172.79 434.82,171.61 435.04,172.85 435.26,174.07 435.48,175.07 435.7,173.12 435.92,176.95 436.14,173.02 436.36,179.47 436.58,175.59 436.8,174.9 437.02,173.28 437.24,169.15 437.46,174.46 437.68,175.35 437.9,178.91 438.12,172.94 438.34,179.41 438.56,177.21 438.78,185.21 439,185.2 439.22,190.27 439.44,189.37 439.66,191.33 439.88,190.22 440.1,187.9 440.32,191.86 440.54,191.4 440.76,191.22 440.98,192.01 441.2,192.2 441.42,190.09 441.64,187.58 441.86,187.54 442.08,192.72 442.3,191.52 442.52,190.38 442.74,189.38 442.96,190.27 443.18,190.27 443.4,189.6 443.62,188.93 443.84,194.35 444.06,190.7 444.28,189.14 444.5,187.83 444.72,188.94 444.94,191.68 445.16,191.76 445.38,189.93 445.6,190.45 445.82,189.79 446.04,188.28 446.26,192.85 446.48,191.11 446.7,195.09 446.92,189 447.14,190.18 447.36,192.12 447.58,190 447.8,187.85 448.02,188.69 448.24,190.69" fill="none" stroke="#ef5b2b" stroke-width="0.75" stroke-linejoin="round" stroke-opacity="0.95"/>
<polyline points="462.7,192.75 463.1,192.06 463.5,191.41 463.9,193.27 464.3,194.13 464.7,192.14 465.1,193.04 465.5,191.25 465.9,188.73 466.3,189.68 466.7,193.77 467.1,193.03 467.5,195.68 467.9,192.13 468.3,194 468.7,195.06 469.1,194.3 469.5,194.02 469.9,194.91 470.3,195.55 470.7,192.87 471.1,196.16 471.5,197.34 471.9,193.76 472.3,199.35 472.7,194.02 473.1,194.13 473.5,193.95 473.9,192.77 474.3,195.29 474.7,192.05 475.1,195.84 475.5,193.41 475.9,193.24 476.3,191.49 476.7,188.73 477.1,191.79 477.5,190.03 477.9,194.2 478.3,191.93 478.7,195.85 479.1,193.7 479.5,193.93 479.9,192.53 480.3,192.48 480.7,193.51 481.1,194.13" fill="none" stroke="#ef5b2b" stroke-width="0.75" stroke-linejoin="round" stroke-opacity="0.95"/>
<polyline points="89.7,394.09 90.1,393.38 90.5,392.15 90.9,396.43 91.3,394.6 91.7,394.99 92.1,397.49 92.5,398.57 92.9,393.06 93.3,396.21 93.7,395.51 94.1,395.15 94.5,395.28 94.9,394.47 95.3,397.08 95.7,395.5 96.1,395.06 96.5,422.33 96.9,421.57 97.3,420.66 97.7,420.25 98.1,422.37 98.5,420.15 98.9,418.99 99.3,417.54 99.7,418.18 100.1,416.84 100.5,418.52 100.9,418.57 101.3,391.18 101.7,394.53 102.1,395.56 102.5,394.77 102.9,392.96 103.3,396.56 103.7,393.37 104.1,392.51 104.5,392.75 104.9,394.48 105.3,396.1 105.7,396.4 106.1,394.84 106.5,392.57 106.9,393.44 107.3,393.05 107.7,394.21 108.1,391.62" fill="none" stroke="#ef5b2b" stroke-width="0.75" stroke-linejoin="round" stroke-opacity="0.95"/>
<polyline points="120,393.12 120.22,390.25 120.44,392.33 120.66,396.27 120.88,396.27 121.1,393.48 121.32,394.91 121.54,392.44 121.76,396.59 121.98,394.87 122.2,393.26 122.42,395.96 122.64,392.96 122.86,392.76 123.08,391.81 123.3,395.31 123.52,394.73 123.74,394.72 123.96,394.08 124.18,397.82 124.4,394.1 124.62,393.51 124.84,397.47 125.06,397.83 125.28,395.66 125.5,391.49 125.72,393.79 125.94,393.23 126.16,410.1 126.38,413.55 126.6,407.9 126.82,412.12 127.04,409.51 127.26,413.38 127.48,410.47 127.7,412.55 127.92,409.01 128.14,407.28 128.36,406.03 128.58,407.22 128.8,406.45 129.02,408.7 129.24,408.72 129.46,406.32 129.68,403.43 129.9,405.01 130.12,404.18 130.34,408.8 130.56,406.7 130.78,407.12 131,405.33 131.22,390.35 131.44,392.08 131.66,391.72 131.88,394.95 132.1,394.59 132.32,392.93 132.54,392.81 132.76,397.07 132.98,392.26 133.2,392.54 133.42,392.72 133.64,392.21 133.86,393.09 134.08,395.27 134.3,397.87 134.52,390.97 134.74,394.61 134.96,394.82 135.18,394.63 135.4,394.47 135.62,394.2 135.84,396.93 136.06,392.73 136.28,393.73 136.5,394.23 136.72,394.63 136.94,394.21 137.16,396.67 137.38,394.73 137.6,395.15 137.82,394.75 138.04,392.87 138.26,393.25 138.48,392.83 138.7,395.34 138.92,393.53 139.14,392.84 139.36,395.46 139.58,396.04 139.8,390.95 140.02,398 140.24,394.77 140.46,394.56 140.68,396.97 140.9,395.01 141.12,392.53 141.34,398.45 141.56,389.9 141.78,392.57 142,395.01 142.22,391.56 142.44,393.82 142.66,392.98 142.88,397.7 143.1,391.6 143.32,393.68 143.54,395.39 143.76,392.41 143.98,390.49 144.2,394.23 144.42,394.01 144.64,394.98 144.86,396.58 145.08,396.51 145.3,395.42 145.52,395.32 145.74,391.36 145.96,393.64 146.18,393.7 146.4,392.87 146.62,394.19 146.84,392.58 147.06,397.5 147.28,398.88 147.5,393.88 147.72,395.55 147.94,391.98 148.16,395.6 148.38,394.4 148.6,394.04 148.82,393.7 149.04,394.61 149.26,392.5 149.48,395.99 149.7,393.28 149.92,395.86 150.14,395.1 150.36,397.08 150.58,394.87 150.8,396.98 151.02,393.09 151.24,396.18 151.46,394.52 151.68,395.37 151.9,414.73 152.12,416.18 152.34,407.71 152.56,412.66 152.78,409.14 153,414.58 153.22,408.15 153.44,409.98 153.66,406.35 153.88,412.28 154.1,406.11 154.32,408.64 154.54,407.35 154.76,404.21 154.98,406.86 155.2,409.16 155.42,406.62 155.64,409.3 155.86,406.93 156.08,407.8 156.3,407.03 156.52,408.44 156.74,398.24 156.96,395.29 157.18,395.06 157.4,393.51 157.62,393.29 157.84,397.8 158.06,392.66 158.28,390.64 158.5,392.89 158.72,392.69 158.94,397.82 159.16,389.41 159.38,394.25 159.6,395.31 159.82,390.02 160.04,391.63 160.26,394.3 160.48,397.08 160.7,392.24 160.92,391.14 161.14,396.43 161.36,397.66 161.58,394.02 161.8,390.32 162.02,397.74 162.24,394.47 162.46,397.16 162.68,394.84 162.9,373.7 163.12,394.05 163.34,397.93 163.56,397.86 163.78,390.69 164,393.1 164.22,398.56 164.44,394.25 164.66,392.26 164.88,394.47 165.1,394.37 165.32,394.49 165.54,393.8 165.76,394.2 165.98,393.95 166.2,394.75 166.42,392.67 166.64,393.89 166.86,394.31 167.08,397.32 167.3,395.52 167.52,394.6 167.74,395.09 167.96,393.2 168.18,395.2 168.4,393.2 168.62,395.6 168.84,394.7 169.06,392.16 169.28,392.08 169.5,395.18 169.72,394.83 169.94,393.89 170.16,391.34 170.38,390.79 170.6,395.3 170.82,396.24 171.04,395.75 171.26,391.76 171.48,396.59 171.7,393.55 171.92,393.24 172.14,393.91 172.36,390.39 172.58,391.18 172.8,388.84 173.02,391.64 173.24,390.23 173.46,395 173.68,392.12 173.9,394.38 174.12,393.85 174.34,392.31 174.56,394.62 174.78,393.4 175,393.9 175.22,393.87 175.44,391.67 175.66,393.99 175.88,393.49 176.1,393.15 176.32,395.86 176.54,397.73 176.76,391.74 176.98,392.38 177.2,389.03 177.42,393.64 177.64,409.9 177.86,406.39 178.08,411.22 178.3,411.7 178.52,408.88 178.74,409.42 178.96,408.03 179.18,411.3 179.4,406.5 179.62,408.7 179.84,413.01 180.06,408.96 180.28,409.56 180.5,408.09 180.72,405.78 180.94,407.83 181.16,408.47 181.38,405.36 181.6,407.85 181.82,409.42 182.04,408.82 182.26,403.25 182.48,393.04 182.7,391.76 182.92,397.15 183.14,396.23 183.36,396.41 183.58,393.24 183.8,392.66 184.02,395.15 184.24,395.2 184.46,393.28 184.68,395.29 184.9,396.29 185.12,393.04 185.34,391.07 185.56,389.36 185.78,393.42 186,394.52 186.22,393.87 186.44,393.67 186.66,393.26 186.88,396.17 187.1,393.45 187.32,394.15 187.54,391.18 187.76,392.34 187.98,392.33 188.2,390.16 188.42,390.33 188.64,392.71 188.86,396.18 189.08,394.45 189.3,397.22 189.52,394.19 189.74,393.97 189.96,391.89 190.18,393.61 190.4,397.7 190.62,395.52 190.84,396.37 191.06,396.34 191.28,394.92 191.5,394.54 191.72,395.2 191.94,396.32 192.16,395.9 192.38,395.97 192.6,393.9 192.82,392.38 193.04,391.47 193.26,390.57 193.48,395.09 193.7,389.31 193.92,393.45 194.14,398.95 194.36,393.67 194.58,392.23 194.8,394.59 195.02,397.31 195.24,394.46 195.46,393.87 195.68,393.4 195.9,392.89 196.12,400.29 196.34,394.36 196.56,393.32 196.78,392.25 197,394.42 197.22,394.8 197.44,393.55 197.66,392.28 197.88,389.12 198.1,393.07 198.32,391.38 198.54,391.43 198.76,389.21 198.98,390.85 199.2,391.17 199.42,393.12 199.64,390.71 199.86,394.06 200.08,394.46 200.3,392.15 200.52,393.29 200.74,392.93 200.96,396.56 201.18,389.72 201.4,394.16 201.62,390 201.84,391.13 202.06,394.39 202.28,391.98 202.5,393.94 202.72,392.29 202.94,398.13 203.16,396.25 203.38,415.71 203.6,411.03 203.82,411.75 204.04,415.23 204.26,412.94 204.48,412.93 204.7,414.14 204.92,410.88 205.14,414.83 205.36,413.14 205.58,413.86 205.8,411.32 206.02,413.44 206.24,410.72 206.46,413.77 206.68,413.83 206.9,413.1 207.12,409.62 207.34,408.97 207.56,401.94 207.78,408.73 208,406.41 208.22,393.09 208.44,392.83 208.66,390.99 208.88,393 209.1,395.62 209.32,397.31 209.54,393.34 209.76,391.23 209.98,395.03 210.2,391.04 210.42,397.5 210.64,393.84 210.86,392.27 211.08,396.25 211.3,397.85 211.52,391.7 211.74,397.81 211.96,392.29 212.18,396.35 212.4,393 212.62,390.89 212.84,395.29 213.06,394.33 213.28,397.29 213.5,396.31 213.72,393.4 213.94,391.97 214.16,392.02 214.38,392.94 214.6,392.21 214.82,393.6 215.04,389.24 215.26,392.72 215.48,392.93 215.7,398.63 215.92,395.37 216.14,393.16 216.36,395.47 216.58,392.03 216.8,393.4 217.02,390.96 217.24,397.66 217.46,396.02 217.68,392.51 217.9,394.78 218.12,396.83 218.34,395.27 218.56,393.65 218.78,391.67 219,392.5 219.22,394.26 219.44,396.14 219.66,390.56 219.88,389.75 220.1,394.3 220.32,390.33 220.54,395.04 220.76,393.87 220.98,395.54 221.2,397.57 221.42,395.67 221.64,396.02 221.86,391.94 222.08,392.68 222.3,395.59 222.52,397.55 222.74,397.39 222.96,399.35 223.18,395.39 223.4,393.78 223.62,395.78 223.84,394.1 224.06,394.16 224.28,392.35 224.5,396.58 224.72,392.53 224.94,395.79 225.16,391.97 225.38,397.07 225.6,392.83 225.82,396.62 226.04,391.75 226.26,394.07 226.48,397.33 226.7,393.36 226.92,395.11 227.14,394.02 227.36,390.35 227.58,395.61 227.8,395.86 228.02,391.2 228.24,394.96 228.46,392.49 228.68,392.3 228.9,394.49 229.12,410.73 229.34,416.54 229.56,408.63 229.78,411.05 230,410.44 230.22,404.52 230.44,404.45 230.66,408.84 230.88,407.19 231.1,408.47 231.32,410.32 231.54,407.47 231.76,406.15 231.98,402.81 232.2,408.63 232.42,406.24 232.64,406.22 232.86,406.45 233.08,403.44 233.3,409.8 233.52,408.54 233.74,408.02 233.96,392.1 234.18,393.78 234.4,393.6 234.62,393.94 234.84,392.57 235.06,395.74 235.28,395.36 235.5,395.66 235.72,393.93 235.94,397.55 236.16,395.34 236.38,389.48 236.6,393.69 236.82,394.87 237.04,396.93 237.26,394.39 237.48,394.49 237.7,393.66 237.92,396.33 238.14,394.1 238.36,393.79 238.58,393.51 238.8,396.12 239.02,393.93 239.24,391.63 239.46,396.25 239.68,393.59 239.9,395.72 240.12,395.75 240.34,371 240.56,397.11 240.78,393.86 241,394.69 241.22,392.43 241.44,398.4 241.66,395.92 241.88,397.84 242.1,394.4 242.32,390.93 242.54,398.13 242.76,395.25 242.98,395.33 243.2,395.18 243.42,396.37 243.64,396.15 243.86,391.89 244.08,397.27 244.3,394.03 244.52,394.16 244.74,398.57 244.96,396.96 245.18,394.43 245.4,391.39 245.62,395.45 245.84,396.21 246.06,394.97 246.28,392.63 246.5,391.07 246.72,390.74 246.94,394.15 247.16,395.71 247.38,396.39 247.6,393.07 247.82,395.16 248.04,395.93 248.26,393.88 248.48,394.68 248.7,399.3 248.92,395.49 249.14,396.88 249.36,394.26 249.58,395.24 249.8,391.73 250.02,395.14 250.24,397.59 250.46,399.43 250.68,395.97 250.9,395.35 251.12,394.38 251.34,393.31 251.56,394.37 251.78,396.06 252,393.36 252.22,396.9 252.44,393.11 252.66,391.56 252.88,391.12 253.1,390.32 253.32,390.55 253.54,394.6 253.76,392.64 253.98,394.03 254.2,396.33 254.42,396.85 254.64,393.55 254.86,397.42 255.08,395.67 255.3,410.69 255.52,411.43 255.74,407.51 255.96,408.61 256.18,409.78 256.4,411.02 256.62,408.84 256.84,409.12 257.06,411.1 257.28,411.77 257.5,410.26 257.72,411.04 257.94,407.46 258.16,407.43 258.38,406.87 258.6,405.78 258.82,405.43 259.04,409.76 259.26,403.51 259.48,401.85 259.7,405.24 259.92,408.25 260.14,394.33 260.36,396.95 260.58,391.57 260.8,391.47 261.02,391.07 261.24,392.17 261.46,396.66 261.68,391.26 261.9,397.33 262.12,392.36 262.34,394.19 262.56,396.54 262.78,396.28 263,395.7 263.22,389.86 263.44,394.47 263.66,392.12 263.88,399.66 264.1,394.32 264.32,395.32 264.54,392.78 264.76,394.24 264.98,392.69 265.2,397.32 265.42,392.09 265.64,394.46 265.86,392.5 266.08,393.28 266.3,397.18 266.52,392.88 266.74,391.4 266.96,395.97 267.18,392.97 267.4,394.47 267.62,397.24 267.84,393.82 268.06,397.27 268.28,394.16 268.5,398.55 268.72,397.56 268.94,394.13 269.16,394.79 269.38,391.11 269.6,393.05 269.82,394.96 270.04,389.75 270.26,395.05 270.48,391.14 270.7,391.54 270.92,390.26 271.14,398.52 271.36,394.75 271.58,395.38 271.8,393.73 272.02,397.38 272.24,391.13 272.46,395.49 272.68,399.94 272.9,394.79 273.12,395.64 273.34,395.98 273.56,393.27 273.78,395.15 274,397.19 274.22,395.77 274.44,396.22 274.66,394.84 274.88,396.23 275.1,395.75 275.32,398.6 275.54,397.16 275.76,395.23 275.98,390.83 276.2,397.19 276.42,397.29 276.64,393.94 276.86,391.77 277.08,393.5 277.3,396.29 277.52,392.63 277.74,394.1 277.96,395.66 278.18,397.83 278.4,395.45 278.62,395.37 278.84,394.54 279.06,398.97 279.28,397.88 279.5,395.58 279.72,392.99 279.94,394.23 280.16,397 280.38,394.4 280.6,397.65 280.82,396.6 281.04,414.06 281.26,414.53 281.48,413.97 281.7,408.15 281.92,409.64 282.14,415.26 282.36,408.27 282.58,409.79 282.8,410.73 283.02,408.7 283.24,407.65 283.46,406.76 283.68,408.48 283.9,409.87 284.12,410.94 284.34,408.4 284.56,410.46 284.78,406.27 285,408.62 285.22,404.36 285.44,406.51 285.66,407.94 285.88,396.88 286.1,392.55 286.32,395.31 286.54,391.11 286.76,389.2 286.98,389.25 287.2,380.85 287.42,384.83 287.64,384.18 287.86,380.5 288.08,381.44 288.3,376.28 288.52,375.54 288.74,368.05 288.96,371.71 289.18,366.29 289.4,365.79 289.62,365.12 289.84,364.16 290.06,355.5 290.28,355.21 290.5,359.42 290.72,361.77 290.94,360.73 291.16,356.42 291.38,358.74 291.6,356.1 291.82,354.31 292.04,350.44 292.26,350.61 292.48,349.72 292.7,352.76 292.92,352.62 293.14,351.67 293.36,350.83 293.58,353.48 293.8,351.47 294.02,351.36 294.24,350.91 294.46,347.13 294.68,344.73 294.9,349.98 295.12,349.24 295.34,346.45 295.56,345.33 295.78,355.23 296,343.26 296.22,344.94 296.44,346.4 296.66,340.59 296.88,345.05 297.1,351.07 297.32,347.38 297.54,345.83 297.76,345.29 297.98,343.06 298.2,345.89 298.42,341.25 298.64,339.83 298.86,341.44 299.08,338.78 299.3,337.47 299.52,339.36 299.74,329.41 299.96,341.85 300.18,346.51 300.4,342.91 300.62,336.76 300.84,334.84 301.06,339.19 301.28,334.38 301.5,340.91 301.72,336.11 301.94,341.74 302.16,343.22 302.38,330.21 302.6,339.01 302.82,335.16 303.04,332.37 303.26,335.31 303.48,336.75 303.7,339.35 303.92,330.02 304.14,340.13 304.36,344.03 304.58,338.74 304.8,338.63 305.02,336.53 305.24,332.11 305.46,338.62 305.68,338.02 305.9,339.3 306.12,346.25 306.34,339.16 306.56,337.94 306.78,342.2 307,331.03 307.22,331.73 307.44,334.57 307.66,329.4 307.88,335.43 308.1,332.22 308.32,340.54 308.54,340.04 308.76,337.41 308.98,333.16 309.2,337.08 309.42,337.88 309.64,330.73 309.86,336.13 310.08,337.48 310.3,335.62 310.52,340.78 310.74,339.4 310.96,331.59 311.18,335.19 311.4,331.49 311.62,336.86 311.84,331.3 312.06,338.1 312.28,336.01 312.5,338.2 312.72,333.9 312.94,328.85 313.16,341.1 313.38,327.49 313.6,334.84 313.82,332.32 314.04,334.06 314.26,339.08 314.48,333.84 314.7,338.22 314.92,327.45 315.14,336.61 315.36,332.49 315.58,325.38 315.8,327.81 316.02,330.51 316.24,336.58 316.46,323.97 316.68,331.81 316.9,321.96 317.12,329.23 317.34,325.23 317.56,330.16 317.78,324.43 318,330.26 318.22,332.9 318.44,328.51 318.66,330.96 318.88,320.96 319.1,329.15 319.32,332.46 319.54,327.97 319.76,335.05 319.98,323.36 320.2,324.66 320.42,326.79 320.64,330.52 320.86,332.67 321.08,332.48 321.3,332.67 321.52,335.81 321.74,331.35 321.96,328.42 322.18,328.58 322.4,334.88 322.62,319.49 322.84,329.05 323.06,336.26 323.28,333.28 323.5,328.85 323.72,326.77 323.94,331.78 324.16,334.41 324.38,327.38 324.6,334.5 324.82,333.16 325.04,336.88 325.26,338.34 325.48,332.01 325.7,328.02 325.92,335.25 326.14,340.67 326.36,336.63 326.58,335 326.8,343.37 327.02,330.32 327.24,330.79 327.46,326.92 327.68,330.62 327.9,331.81 328.12,338.04 328.34,321.34 328.56,325.26 328.78,321.08 329,330.89 329.22,328.71 329.44,333.17 329.66,328.31 329.88,331.68 330.1,337.6 330.32,333.52 330.54,337.03 330.76,337.06 330.98,334.05 331.2,329.76 331.42,339.76 331.64,336.91 331.86,340.26 332.08,329.07 332.3,330.66 332.52,329.02 332.74,334.07 332.96,341.6 333.18,339.99 333.4,337.91 333.62,338.74 333.84,341.35 334.06,337.49 334.28,337.15 334.5,337.14 334.72,329.04 334.94,336.57 335.16,343.76 335.38,337.52 335.6,338.88 335.82,337.45 336.04,338.23 336.26,339.47 336.48,330.72 336.7,330.23 336.92,324.11 337.14,332.91 337.36,329.31 337.58,331.21 337.8,342.28 338.02,342.81 338.24,333.5 338.46,344.65 338.68,343.64 338.9,333.92 339.12,341.38 339.34,333.68 339.56,336.34 339.78,328.87 340,332.59 340.22,342.35 340.44,333.92 340.66,336.47 340.88,338.74 341.1,344.37 341.32,343.39 341.54,348.89 341.76,343.68 341.98,342.18 342.2,336.48 342.42,339.45 342.64,338.48 342.86,345.27 343.08,350.03 343.3,343.01 343.52,347.12 343.74,348.1 343.96,342.95 344.18,344.18 344.4,344.85 344.62,351.88 344.84,353.44 345.06,351.86 345.28,350.47 345.5,356.61 345.72,356.26 345.94,348.62 346.16,354.81 346.38,356.02 346.6,359.06 346.82,347.79 347.04,348.76 347.26,351.54 347.48,348.17 347.7,356.24 347.92,349.77 348.14,357 348.36,354.54 348.58,359.69 348.8,360.26 349.02,363.59 349.24,369.62 349.46,369.6 349.68,373.64 349.9,372.61 350.12,377.11 350.34,375.51 350.56,379.9 350.78,381.78 351,383.88 351.22,384.41 351.44,384.9 351.66,388.05 351.88,387.79 352.1,389.47 352.32,390.87 352.54,390.11 352.76,390.53 352.98,392.64 353.2,392 353.42,394.46 353.64,394.61 353.86,395.44 354.08,393.79 354.3,392.05 354.52,392.25 354.74,392.59 354.96,395.37 355.18,392.56 355.4,392.99 355.62,394.89 355.84,392.4 356.06,392.94 356.28,396.57 356.5,395.96 356.72,394.06 356.94,387.5 357.16,375.94 357.38,369.91 357.6,363.92 357.82,364.18 358.04,362.63 358.26,362.97 358.48,362.7 358.7,363.74 358.92,365.97 359.14,363.82 359.36,359.74 359.58,361.08 359.8,359.8 360.02,361.33 360.24,363.98 360.46,363.59 360.68,361.52 360.9,363.18 361.12,360.5 361.34,357.23 361.56,357.76 361.78,359.22 362,364.05 362.22,358.69 362.44,363.98 362.66,364.22 362.88,361.23 363.1,363.08 363.32,365.43 363.54,370.07 363.76,374.88 363.98,377.02 364.2,382.43 364.42,386.24 364.64,387.97 364.86,391.35 365.08,392.85 365.3,393.93 365.52,390.6 365.74,394.08 365.96,394.06 366.18,392.28 366.4,398.66 366.62,392.72 366.84,393.23 367.06,394.4 367.28,389.2 367.5,392.37 367.72,391.63 367.94,393.37 368.16,395.57 368.38,396.94 368.6,398.94 368.82,398.72 369.04,399.83 369.26,398.97 369.48,396.51 369.7,400.14 369.92,397.34 370.14,397.36 370.36,401.83 370.58,400.5 370.8,399.51 371.02,400.11 371.24,400.63 371.46,396.35 371.68,399.09 371.9,397.08 372.12,398.54 372.34,395.52 372.56,400.11 372.78,399.13 373,397.03 373.22,399.07 373.44,394.89 373.66,398.06 373.88,399.75 374.1,398.12 374.32,394.03 374.54,397.99 374.76,400.29 374.98,400.36 375.2,402.45 375.42,397.86 375.64,401.75 375.86,399.62 376.08,401.5 376.3,402.09 376.52,401.65 376.74,399.53 376.96,401.39 377.18,398.95 377.4,398.69 377.62,402.84 377.84,401.79 378.06,398.8 378.28,400.48 378.5,402.35 378.72,402.64 378.94,401.9 379.16,402.17 379.38,397.59 379.6,401.46 379.82,403 380.04,403.15 380.26,403.45 380.48,402.37 380.7,406.56 380.92,406.16 381.14,403.16 381.36,401.51 381.58,407.73 381.8,402.61 382.02,403.33 382.24,398.73 382.46,386.83 382.68,383.03 382.9,375.4 383.12,370.72 383.34,367.57 383.56,370.16 383.78,366.73 384,364.06 384.22,365.78 384.44,362.36 384.66,361.52 384.88,366.06 385.1,359.21 385.32,359.15 385.54,359.48 385.76,355.57 385.98,352.41 386.2,358.81 386.42,355.13 386.64,355.58 386.86,355.84 387.08,354.5 387.3,354.17 387.52,356.49 387.74,359.8 387.96,356.52 388.18,356.54 388.4,349.46 388.62,352.89 388.84,350.9 389.06,355.03 389.28,353.13 389.5,353.69 389.72,353.4 389.94,352.32 390.16,351.05 390.38,356.12 390.6,353.01 390.82,354.23 391.04,356.81 391.26,356.79 391.48,357.47 391.7,360.26 391.92,358.1 392.14,359.13 392.36,360.19 392.58,363.12 392.8,358.82 393.02,364.31 393.24,362.68 393.46,363.01 393.68,364.7 393.9,364.27 394.12,367.76 394.34,369.18 394.56,364.03 394.78,370.13 395,375.67 395.22,374.86 395.44,377.33 395.66,375.88 395.88,374.02 396.1,375.83 396.32,380.69 396.54,382.34 396.76,380.09 396.98,380.48 397.2,383.07 397.42,380.45 397.64,384.61 397.86,389.85 398.08,391.99 398.3,387.93 398.52,392.34 398.74,388.11 398.96,388.03 399.18,385.63 399.4,392.52 399.62,390.31 399.84,396.21 400.06,392.63 400.28,392.79 400.5,389.23 400.72,396.32 400.94,393.02 401.16,393.87 401.38,390.2 401.6,396.94 401.82,397.51 402.04,394.67 402.26,396.11 402.48,396.74 402.7,397.92 402.92,396.23 403.14,399.52 403.36,392.87 403.58,392.83 403.8,393.64 404.02,389.89 404.24,393.69 404.46,397.59 404.68,396.29 404.9,394.28 405.12,396.75 405.34,391.33 405.56,395.08 405.78,396.93 406,397.45 406.22,394.63 406.44,398.13 406.66,400.15 406.88,395.62 407.1,395.32 407.32,391.42 407.54,391.15 407.76,395.75 407.98,395.18 408.2,395.93 408.42,394.7 408.64,393.29 408.86,389.06 409.08,381.85 409.3,368.79 409.52,357.37 409.74,362.13 409.96,359.59 410.18,358.52 410.4,356.25 410.62,359.25 410.84,353.42 411.06,350.83 411.28,343.98 411.5,345.16 411.72,343.56 411.94,343.5 412.16,342.88 412.38,339.81 412.6,344.01 412.82,337.46 413.04,338.02 413.26,340.33 413.48,338.2 413.7,342.06 413.92,343.11 414.14,342.1 414.36,347.34 414.58,344.44 414.8,345.59 415.02,343.82 415.24,343.09 415.46,345.89 415.68,347.2 415.9,346.98 416.12,350.27 416.34,344.72 416.56,347.99 416.78,347.33 417,354.42 417.22,352.09 417.44,353.69 417.66,354.01 417.88,359.51 418.1,358.36 418.32,361.11 418.54,358.05 418.76,365.97 418.98,365.88 419.2,365.26 419.42,368.69 419.64,367.72 419.86,369.57 420.08,372.83 420.3,373.23 420.52,372.82 420.74,374.3 420.96,373.51 421.18,376.36 421.4,377.88 421.62,377.03 421.84,380.19 422.06,374.61 422.28,378.42 422.5,383.42 422.72,380.14 422.94,378.73 423.16,385.68 423.38,384.86 423.6,382.22 423.82,387.04 424.04,384.25 424.26,384.44 424.48,387.65 424.7,387.8 424.92,387.36 425.14,389.3 425.36,388.29 425.58,390.7 425.8,390.8 426.02,392.62 426.24,390.47 426.46,388.97 426.68,389.26 426.9,391.69 427.12,395.54 427.34,394.42 427.56,391.68 427.78,395.14 428,391.17 428.22,395.81 428.44,393.26 428.66,395.84 428.88,395.81 429.1,392.56 429.32,394.45 429.54,392.22 429.76,394.72 429.98,397.5 430.2,403.73 430.42,396.99 430.64,395.83 430.86,393.68 431.08,397.9 431.3,392.46 431.52,394.21 431.74,395.71 431.96,392.78 432.18,396.01 432.4,395.72 432.62,392.95 432.84,393.41 433.06,392.2 433.28,392.29 433.5,396.2 433.72,396.7 433.94,396.27 434.16,396.18 434.38,394.58 434.6,396.48 434.82,392.83 435.04,394.04 435.26,387.11 435.48,376.92 435.7,363.44 435.92,357.5 436.14,360.9 436.36,361.58 436.58,354.75 436.8,356.64 437.02,357.68 437.24,359.33 437.46,352.9 437.68,355.98 437.9,353.09 438.12,358.6 438.34,354.66 438.56,353.41 438.78,352.82 439,355.38 439.22,354.34 439.44,350.47 439.66,352.75 439.88,349.25 440.1,350.51 440.32,350.04 440.54,350.59 440.76,352.49 440.98,352.5 441.2,356.14 441.42,357.28 441.64,355.78 441.86,354.6 442.08,356.3 442.3,351.85 442.52,353.13 442.74,359.47 442.96,359.51 443.18,362.8 443.4,362.65 443.62,363.57 443.84,368.02 444.06,373.06 444.28,373.18 444.5,376.08 444.72,377.42 444.94,380.61 445.16,386.06 445.38,386.19 445.6,383.83 445.82,384.88 446.04,386.81 446.26,388.8 446.48,386.48 446.7,389.58 446.92,386.63 447.14,389.41 447.36,392.78 447.58,394.92 447.8,391.87 448.02,393.69 448.24,397.86" fill="none" stroke="#ef5b2b" stroke-width="0.75" stroke-linejoin="round" stroke-opacity="0.95"/>
<polyline points="465,397.22 465.4,398.1 465.8,394.44 466.2,395.93 466.6,397.04 467,396.57 467.4,395.65 467.8,398.62 468.2,398.69 468.6,398.36 469,396.61 469.4,400.94 469.8,400.45 470.2,396.23 470.6,396.79 471,399.36 471.4,419.09 471.8,421.08 472.2,420.03 472.6,418.19 473,418.75 473.4,415.75 473.8,417.42 474.2,414.19 474.6,422.25 475,420.36 475.4,419.45 475.8,417.27 476.2,398.98 476.6,399.52 477,399.02 477.4,398.82 477.8,395.22 478.2,397.86 478.6,395.96 479,394.69 479.4,394.77 479.8,397.85 480.2,399.08 480.6,394.32 481,400.45 481.4,399.9 481.8,396.26 482.2,396.1 482.6,396.86" fill="none" stroke="#ef5b2b" stroke-width="0.75" stroke-linejoin="round" stroke-opacity="0.95"/>
<polyline points="119,97.3 119.45,97.74 119.9,96.45 120.35,97.23 120.8,97.48 121.25,96.88 121.7,96.88 122.15,96.54 122.6,96.43 123.05,95.96 123.5,95.31 123.95,95.37 124.4,95.23 124.85,95.61 125.3,95.57 125.75,94.81 125.8,94.81 125.91,72 126.1,97.5 126.3,97.37 126.75,97.3 127.2,97.47 127.65,98.1 128.1,97.55 128.55,97.29 129,96.89 129.45,97.56 129.9,97.21 130.35,96.98 130.8,96.97 131.25,97.6 131.7,96.69 132.15,97.44 132.6,97.16 133.05,96.55 133.5,96.84 133.95,96.31 134.4,95.92 134.85,96.09 135.3,95.72 135.75,96.28 136.2,95.98 136.65,96.15 137.1,96.19 137.55,94.33 138,95.8 138.45,94.77 138.9,95.57 139.35,95.02 139.8,95.39 140.25,95.87 140.7,94.41 141.15,95.19 141.6,94.99 142.05,94.09 142.5,95.16 142.95,94.8 143.4,94.48 143.85,94.3 144,94.3 144.1,79 144.3,97.5 144.5,99.07 144.95,97.28 145.4,96.49 145.85,96.72 146.3,96.82 146.75,96.65 147.2,96.63 147.65,96.03 148.1,96.59 148.55,95.96 149,95.41 149.45,95.5 149.9,95.53 150.35,95.92 150.8,95.6 151.25,95.07 151.7,95.07 152.15,95 152.6,95.66 153,95.66 153.1,73.6 153.3,97.5 153.5,97.24 153.95,97.47 154.4,97.33 154.85,96.31 155.3,96.57 155.75,96.3 156.2,95.76 156.65,95.97 157.1,95.92 157.55,95.71 158,94.86 158.45,94.77 158.6,94.77 158.7,70 158.9,97.5 159.1,98.32 159.55,96.29 160,96.41 160.45,96.23 160.9,95.41 161.35,95.16 161.6,95.16 161.7,72.4 161.9,97.5 162.1,97.21 162.55,96.87 163,96.51 163.45,95.23 163.9,94.82 164.1,96" fill="none" stroke="#1a1a1a" stroke-width="0.6" stroke-linejoin="round"/>
<linearGradient id="dgA" x1="0" y1="0" x2="0" y2="1"><stop offset="0" stop-color="#9c9c9c"/><stop offset="0.6" stop-color="#989898"/><stop offset="0.88" stop-color="#5a5a5a"/><stop offset="1" stop-color="#333"/></linearGradient>
<path d="M186,16 L186.5,15.85 L187,15.69 L187.5,15.54 L188,15.39 L188.5,15.23 L189,15.08 L189.5,14.93 L190,14.77 L190.5,14.62 L191,14.47 L191.5,14.31 L192,14.16 L192.5,14.01 L193,13.85 L193.5,13.7 L194,13.75 L194.5,13.81 L195,13.86 L195.5,13.92 L196,13.97 L196.5,14.03 L197,14.08 L197.5,14.14 L198,14.19 L198.5,14.25 L199,14.3 L199.5,14.35 L200,14.41 L200.5,14.46 L201,14.52 L201.5,14.57 L202,14.63 L202.5,14.68 L203,14.74 L203.5,14.79 L204,14.85 L204.5,14.9 L205,14.95 L205.5,15.01 L206,15.06 L206.5,15.12 L207,15.17 L207.5,15.23 L208,15.28 L208.5,15.34 L209,15.39 L209.5,15.45 L210,15.5 L210.5,15.57 L211,15.63 L211.5,15.7 L212,15.77 L212.5,15.83 L213,15.9 L213.5,15.97 L214,16.03 L214.5,16.1 L215,16.17 L215.5,16.23 L216,16.3 L216.5,16.37 L217,16.43 L217.5,16.5 L218,16.57 L218.5,16.63 L219,16.7 L219.5,16.77 L220,16.83 L220.5,16.9 L221,16.97 L221.5,17.03 L222,17.1 L222.5,17.17 L223,17.23 L223.5,17.3 L224,17.37 L224.5,17.43 L225,17.5 L225.5,17.66 L226,17.81 L226.5,17.97 L227,18.12 L227.5,18.28 L228,18.44 L228.5,18.59 L229,18.75 L229.5,18.91 L230,19.06 L230.5,19.22 L231,19.38 L231.5,19.53 L232,19.69 L232.5,19.84 L233,20 L233,75 L232.5,75.15 L232,75.31 L231.5,75.46 L231,75.61 L230.5,75.76 L230,75.92 L229.5,76.07 L229,76.22 L228.5,76.38 L228,76.53 L227.5,76.68 L227,76.83 L226.5,76.99 L226,77.14 L225.5,77.29 L225,77.44 L224.5,77.6 L224,77.75 L223.5,77.9 L223,78.06 L222.5,78.21 L222,78.36 L221.5,78.51 L221,78.67 L220.5,78.82 L220,78.97 L219.5,79.12 L219,79.28 L218.5,79.43 L218,79.58 L217.5,79.74 L217,79.89 L216.5,80.04 L216,80.19 L215.5,80.35 L215,80.5 L214.5,80.58 L214,80.67 L213.5,80.75 L213,80.83 L212.5,80.92 L212,81 L211.5,81.08 L211,81.17 L210.5,81.25 L210,81.33 L209.5,81.42 L209,81.5 L208.5,81.58 L208,81.67 L207.5,81.75 L207,81.83 L206.5,81.92 L206,82 L205.5,82.08 L205,82.17 L204.5,82.25 L204,82.33 L203.5,82.42 L203,82.5 L202.5,82.58 L202,82.67 L201.5,82.75 L201,82.83 L200.5,82.92 L200,83 L199.5,82.95 L199,82.91 L198.5,82.86 L198,82.81 L197.5,82.77 L197,82.72 L196.5,82.67 L196,82.63 L195.5,82.58 L195,82.53 L194.5,82.49 L194,82.44 L193.5,82.39 L193,82.35 L192.5,82.3 L192,82.25 L191.5,82.21 L191,82.16 L190.5,82.11 L190,82.07 L189.5,82.02 L189,81.97 L188.5,81.93 L188,81.88 L187.5,81.83 L187,81.79 L186.5,81.74 L186,81.69Z" fill="url(#dgA)" stroke="none" stroke-width="1"/>
<polyline points="164.1,71.96 164.4,72.47 164.7,73.49 165,73.46 165.3,75.52 165.6,76.74 165.9,76.87 166.2,76.7 166.5,75.27 166.8,77.14 167.1,75.71 167.4,76.31 167.7,77.77 168,75.86 168.3,77.33 168.6,77.07 168.9,76.9 169.2,76.53 169.5,77.57 169.8,77.09 170.1,78.27 170.4,78.49 170.7,76.77 171,77.49 171.3,77.72 171.6,77.22 171.9,77.36 172.2,78.31 172.5,78.2 172.8,77.3 173.1,78.18 173.4,79.02 173.7,77.91 174,78.21 174.3,80.07 174.6,79.99 174.9,78.03 175.2,78.32 175.5,79.63 175.8,78.64 176.1,79.4 176.4,79.36 176.7,80.17 177,78.11 177.3,78.44 177.6,79.23 177.9,80.9 178.2,80.18 178.5,79.19 178.8,80.84 179.1,81.09 179.4,80.52 179.7,80.57 180,81.21 180.3,81.85 180.6,81.21 180.9,81.58 181.2,81.27 181.5,81.14 181.8,80.87 182.1,81.79 182.4,81.51 182.7,81.65 183,82.57 183.3,82.36 183.6,82.73 183.9,81.12 184.2,82.72 184.5,82.02 184.8,81.97 185.1,82.01 185.4,83.49 185.7,83.24 186,82.19 186.3,81.93 186.6,82.76 186.9,82.46 187.2,83.97 187.5,81.81 187.8,81.58 188.1,82.71 188.4,82.92 188.7,83.04 189,83.5 189.3,84.45 189.6,82.79 189.9,82.68 190.2,81.85 190.5,83.28 190.8,83.74 191.1,82.99 191.4,84.02 191.7,83.25 192,84.31 192.3,83.51 192.6,82.57 192.9,82.89 193.2,82.29 193.5,82.18 193.8,83.61 194.1,84.06 194.4,84.85 194.7,83.47 195,83.37 195.3,82.79 195.6,84.28 195.9,83.89 196.2,83.23 196.5,84.16 196.8,84.09 197.1,82.42 197.4,84.28 197.7,83.88 198,83.54 198.3,83.55 198.6,85.09 198.9,84.97 199.2,85.2 199.5,83.15 199.8,83.52 200.1,84.62 200.4,83.09 200.7,83.38 201,82.57 201.3,85.08 201.6,84.48 201.9,84 202.2,83.79 202.5,83.29 202.8,83.25 203.1,83.91 203.4,82.94 203.7,84.24 204,82.99 204.3,82.67 204.6,84.14 204.9,83.08 205.2,83.52 205.5,82.79 205.8,81.46 206.1,83.37 206.4,81.99 206.7,83.64 207,81.75 207.3,81.48 207.6,82.95 207.9,82.98 208.2,82.71 208.5,81.73 208.8,83.16 209.1,81.46 209.4,82.11 209.7,81.83 210,82.07 210.3,82.88 210.6,81.79 210.9,82.58 211.2,82.62 211.5,80.89 211.8,81.22 212.1,81.71 212.4,81.52 212.7,82.1 213,80.48 213.3,82.29 213.6,82.25 213.9,81.57 214.2,80.67 214.5,81.59 214.8,81.16 215.1,81.87 215.4,81.32 215.7,81.8 216,80.89 216.3,82.11 216.6,79.4 216.9,80.21 217.2,81.17 217.5,79.68 217.8,81.16 218.1,79.7 218.4,80.53 218.7,79.73 219,79.97 219.3,80.31 219.6,80.02 219.9,79.74 220.2,81.42 220.5,79.83 220.8,79.05 221.1,80.29 221.4,80.12 221.7,80.31 222,80.61 222.3,78.61 222.6,79.92 222.9,79.88 223.2,78.99 223.5,79.07 223.8,76.71 224.1,78.32 224.4,79.88 224.7,77.29 225,78.07 225.3,78.55 225.6,78.66 225.9,79.31 226.2,76.84 226.5,78.02 226.8,78.5 227.1,76.88 227.4,77.68 227.7,78.94 228,78.45 228.3,77.81 228.6,75.51 228.9,77.16 229.2,77.43 229.5,76.85 229.8,76.93 230.1,79.04 230.4,76.64 230.7,76.02 231,76.78 231.3,76.3 231.6,76.21 231.9,76.28 232.2,76.79 232.5,76.32 232.8,75.22" fill="none" stroke="#1a1a1a" stroke-width="1.3" stroke-linejoin="round"/>
<linearGradient id="dgB" x1="0" y1="0" x2="1" y2="0"><stop offset="0" stop-color="#707070" stop-opacity="0.95"/><stop offset="0.55" stop-color="#777" stop-opacity="0.55"/><stop offset="1" stop-color="#999" stop-opacity="0"/></linearGradient>
<path d="M232.5,21 L245,27 L260,30 L280,32 L280,70 L270,68 L262,66 L250,63 L240,62 L232.5,66 Z" fill="url(#dgB)" stroke="none" stroke-width="1"/>
<linearGradient id="dgC" x1="0" y1="0" x2="1" y2="0"><stop offset="0" stop-color="#333" stop-opacity="0.75"/><stop offset="0.6" stop-color="#333" stop-opacity="0.45"/><stop offset="1" stop-color="#333" stop-opacity="0"/></linearGradient>
<path d="M233,42 L250,46 L265,50 L285,56 L285,78 L270,75 L262,73 L250,70 L240,69 L233,71 Z" fill="url(#dgC)" stroke="none" stroke-width="1" filter="url(#bl2)"/>
<line x1="164.1" y1="96" x2="164.1" y2="13.2" stroke="#333" stroke-width="0.7"/>
<line x1="169.2" y1="80" x2="169.2" y2="13.7" stroke="#555" stroke-width="0.6"/>
<line x1="184.5" y1="80" x2="184.5" y2="10.3" stroke="#555" stroke-width="0.6"/>
<line x1="187.5" y1="80" x2="187.5" y2="12" stroke="#555" stroke-width="0.6"/>
<line x1="190.3" y1="80" x2="190.3" y2="12.2" stroke="#555" stroke-width="0.6"/>
<line x1="186.5" y1="81.74" x2="186.5" y2="15.41" stroke="#5c5c5c" stroke-width="0.52"/>
<line x1="187.35" y1="81.82" x2="187.35" y2="17.44" stroke="#555555" stroke-width="0.41"/>
<line x1="187.94" y1="81.87" x2="187.94" y2="16.78" stroke="#3e3e3e" stroke-width="0.42"/>
<line x1="188.59" y1="81.94" x2="188.59" y2="17.15" stroke="#5e5e5e" stroke-width="0.44"/>
<line x1="189.62" y1="82.03" x2="189.62" y2="15.33" stroke="#696969" stroke-width="0.7"/>
<line x1="190.68" y1="82.13" x2="190.68" y2="15.4" stroke="#959595" stroke-width="0.55"/>
<line x1="191.54" y1="82.21" x2="191.54" y2="15.93" stroke="#919191" stroke-width="0.62"/>
<line x1="192.33" y1="82.28" x2="192.33" y2="14.56" stroke="#323232" stroke-width="0.47"/>
<line x1="193.45" y1="82.39" x2="193.45" y2="14.44" stroke="#878787" stroke-width="0.6"/>
<line x1="194.41" y1="82.48" x2="194.41" y2="15.31" stroke="#636363" stroke-width="0.6"/>
<line x1="195.3" y1="82.56" x2="195.3" y2="14.28" stroke="#7e7e7e" stroke-width="0.42"/>
<line x1="196.58" y1="82.68" x2="196.58" y2="15.94" stroke="#858585" stroke-width="0.54"/>
<line x1="197.44" y1="82.76" x2="197.44" y2="14.64" stroke="#5f5f5f" stroke-width="0.47"/>
<line x1="198.58" y1="82.87" x2="198.58" y2="15.96" stroke="#646464" stroke-width="0.66"/>
<line x1="199.31" y1="82.94" x2="199.31" y2="15.98" stroke="#939393" stroke-width="0.6"/>
<line x1="200.58" y1="82.9" x2="200.58" y2="15.79" stroke="#777777" stroke-width="0.54"/>
<line x1="201.13" y1="82.81" x2="201.13" y2="14.35" stroke="#848484" stroke-width="0.45"/>
<line x1="202.18" y1="82.64" x2="202.18" y2="14.55" stroke="#7d7d7d" stroke-width="0.69"/>
<line x1="203.18" y1="82.47" x2="203.18" y2="14.35" stroke="#7b7b7b" stroke-width="0.54"/>
<line x1="204.37" y1="82.27" x2="204.37" y2="14.76" stroke="#4e4e4e" stroke-width="0.68"/>
<line x1="205.54" y1="82.08" x2="205.54" y2="16.79" stroke="#666666" stroke-width="0.6"/>
<line x1="206.78" y1="81.87" x2="206.78" y2="16.3" stroke="#3a3a3a" stroke-width="0.45"/>
<line x1="207.29" y1="81.79" x2="207.29" y2="14.98" stroke="#343434" stroke-width="0.52"/>
<line x1="208.28" y1="81.62" x2="208.28" y2="16.97" stroke="#5a5a5a" stroke-width="0.45"/>
<line x1="209.51" y1="81.42" x2="209.51" y2="17.24" stroke="#939393" stroke-width="0.41"/>
<line x1="210.48" y1="81.25" x2="210.48" y2="16.64" stroke="#676767" stroke-width="0.46"/>
<line x1="211.72" y1="81.05" x2="211.72" y2="16.57" stroke="#353535" stroke-width="0.5"/>
<line x1="212.8" y1="80.87" x2="212.8" y2="15.88" stroke="#7f7f7f" stroke-width="0.46"/>
<line x1="213.64" y1="80.73" x2="213.64" y2="16.22" stroke="#3e3e3e" stroke-width="0.67"/>
<line x1="214.42" y1="80.6" x2="214.42" y2="17.47" stroke="#8b8b8b" stroke-width="0.48"/>
<line x1="214.92" y1="80.51" x2="214.92" y2="16.97" stroke="#494949" stroke-width="0.66"/>
<line x1="215.55" y1="80.33" x2="215.55" y2="17.54" stroke="#343434" stroke-width="0.48"/>
<line x1="216.21" y1="80.13" x2="216.21" y2="17.96" stroke="#6d6d6d" stroke-width="0.6"/>
<line x1="216.78" y1="79.96" x2="216.78" y2="16.68" stroke="#8b8b8b" stroke-width="0.58"/>
<line x1="217.88" y1="79.62" x2="217.88" y2="17.31" stroke="#464646" stroke-width="0.67"/>
<line x1="218.59" y1="79.4" x2="218.59" y2="16.57" stroke="#727272" stroke-width="0.43"/>
<line x1="219.7" y1="79.06" x2="219.7" y2="18.07" stroke="#585858" stroke-width="0.55"/>
<line x1="220.59" y1="78.79" x2="220.59" y2="16.6" stroke="#393939" stroke-width="0.51"/>
<line x1="221.1" y1="78.64" x2="221.1" y2="16.94" stroke="#565656" stroke-width="0.59"/>
<line x1="222.01" y1="78.36" x2="222.01" y2="17.04" stroke="#7d7d7d" stroke-width="0.64"/>
<line x1="223.04" y1="78.04" x2="223.04" y2="18.46" stroke="#4b4b4b" stroke-width="0.65"/>
<line x1="224.01" y1="77.75" x2="224.01" y2="17.31" stroke="#767676" stroke-width="0.59"/>
<line x1="224.97" y1="77.46" x2="224.97" y2="18.17" stroke="#7e7e7e" stroke-width="0.62"/>
<line x1="225.94" y1="77.16" x2="225.94" y2="17.46" stroke="#494949" stroke-width="0.69"/>
<line x1="226.76" y1="76.91" x2="226.76" y2="19.13" stroke="#3f3f3f" stroke-width="0.57"/>
<line x1="227.75" y1="76.61" x2="227.75" y2="19.76" stroke="#929292" stroke-width="0.54"/>
<line x1="228.5" y1="76.38" x2="228.5" y2="18.49" stroke="#535353" stroke-width="0.53"/>
<line x1="229.77" y1="75.99" x2="229.77" y2="19.77" stroke="#757575" stroke-width="0.62"/>
<line x1="230.28" y1="75.83" x2="230.28" y2="19.23" stroke="#686868" stroke-width="0.42"/>
<line x1="230.9" y1="75.64" x2="230.9" y2="20.72" stroke="#757575" stroke-width="0.44"/>
<line x1="231.49" y1="75.46" x2="231.49" y2="21.14" stroke="#616161" stroke-width="0.49"/>
<line x1="232.57" y1="75.13" x2="232.57" y2="21.04" stroke="#959595" stroke-width="0.43"/>
<line x1="233" y1="73" x2="233" y2="33.12" stroke="#777" stroke-width="0.55"/>
<line x1="233.49" y1="43" x2="233.49" y2="35.06" stroke="#808080" stroke-width="0.5"/>
<line x1="233.91" y1="43" x2="233.91" y2="36.71" stroke="#616161" stroke-width="0.5"/>
<line x1="235.24" y1="73.26" x2="235.24" y2="31.05" stroke="#777" stroke-width="0.55"/>
<line x1="235.93" y1="43.26" x2="235.93" y2="32.31" stroke="#9b9b9b" stroke-width="0.5"/>
<line x1="236.43" y1="43.26" x2="236.43" y2="38.02" stroke="#616161" stroke-width="0.5"/>
<line x1="237.19" y1="73.49" x2="237.19" y2="30.78" stroke="#777" stroke-width="0.55"/>
<line x1="237.65" y1="43.49" x2="237.65" y2="35.54" stroke="#a4a4a4" stroke-width="0.5"/>
<line x1="238.01" y1="43.49" x2="238.01" y2="38.53" stroke="#878787" stroke-width="0.5"/>
<line x1="239.49" y1="73.76" x2="239.49" y2="29.87" stroke="#777" stroke-width="0.55"/>
<line x1="239.99" y1="43.76" x2="239.99" y2="33.55" stroke="#9e9e9e" stroke-width="0.5"/>
<line x1="240.52" y1="43.76" x2="240.52" y2="35.91" stroke="#636363" stroke-width="0.5"/>
<line x1="241.12" y1="73.96" x2="241.12" y2="27.49" stroke="#777" stroke-width="0.55"/>
<line x1="241.68" y1="43.96" x2="241.68" y2="31.36" stroke="#939393" stroke-width="0.5"/>
<line x1="242.32" y1="43.96" x2="242.32" y2="29.56" stroke="#8f8f8f" stroke-width="0.5"/>
<line x1="242.89" y1="74.16" x2="242.89" y2="33.65" stroke="#777" stroke-width="0.55"/>
<line x1="243.48" y1="44.16" x2="243.48" y2="36.46" stroke="#6f6f6f" stroke-width="0.5"/>
<line x1="244.24" y1="44.16" x2="244.24" y2="41.23" stroke="#898989" stroke-width="0.5"/>
<line x1="244.64" y1="74.37" x2="244.64" y2="26.4" stroke="#777" stroke-width="0.55"/>
<line x1="245.07" y1="44.37" x2="245.07" y2="30.49" stroke="#676767" stroke-width="0.5"/>
<line x1="245.8" y1="44.37" x2="245.8" y2="32.86" stroke="#949494" stroke-width="0.5"/>
<line x1="247.21" y1="74.67" x2="247.21" y2="29.51" stroke="#777" stroke-width="0.55"/>
<line x1="247.84" y1="44.67" x2="247.84" y2="32.57" stroke="#828282" stroke-width="0.5"/>
<line x1="248.38" y1="44.67" x2="248.38" y2="33.24" stroke="#656565" stroke-width="0.5"/>
<line x1="249.81" y1="74.98" x2="249.81" y2="29.85" stroke="#777" stroke-width="0.55"/>
<line x1="250.5" y1="44.98" x2="250.5" y2="31.72" stroke="#737373" stroke-width="0.5"/>
<line x1="251.04" y1="44.98" x2="251.04" y2="33.16" stroke="#a2a2a2" stroke-width="0.5"/>
<line x1="251.75" y1="75.44" x2="251.75" y2="27.96" stroke="#777" stroke-width="0.55"/>
<line x1="252.29" y1="45.44" x2="252.29" y2="29.39" stroke="#969696" stroke-width="0.5"/>
<line x1="252.84" y1="45.44" x2="252.84" y2="31.53" stroke="#848484" stroke-width="0.5"/>
<line x1="253.78" y1="75.94" x2="253.78" y2="27.94" stroke="#777" stroke-width="0.55"/>
<line x1="254.41" y1="45.94" x2="254.41" y2="32.11" stroke="#969696" stroke-width="0.5"/>
<line x1="255.08" y1="45.94" x2="255.08" y2="37.12" stroke="#878787" stroke-width="0.5"/>
<line x1="256.46" y1="76.61" x2="256.46" y2="33.58" stroke="#777" stroke-width="0.55"/>
<line x1="257.09" y1="46.61" x2="257.09" y2="38.12" stroke="#9d9d9d" stroke-width="0.5"/>
<line x1="257.62" y1="46.61" x2="257.62" y2="35.72" stroke="#6d6d6d" stroke-width="0.5"/>
<line x1="258.6" y1="77.15" x2="258.6" y2="31.03" stroke="#777" stroke-width="0.55"/>
<line x1="259.17" y1="47.15" x2="259.17" y2="32.54" stroke="#6e6e6e" stroke-width="0.5"/>
<line x1="259.79" y1="47.15" x2="259.79" y2="39.38" stroke="#636363" stroke-width="0.5"/>
<line x1="260.69" y1="77.67" x2="260.69" y2="29.78" stroke="#777" stroke-width="0.55"/>
<line x1="261.29" y1="47.67" x2="261.29" y2="32.33" stroke="#717171" stroke-width="0.5"/>
<line x1="261.83" y1="47.67" x2="261.83" y2="32.94" stroke="#727272" stroke-width="0.5"/>
<line x1="263.61" y1="78.4" x2="263.61" y2="30.22" stroke="#777" stroke-width="0.55"/>
<line x1="264.29" y1="48.4" x2="264.29" y2="31.61" stroke="#999999" stroke-width="0.5"/>
<line x1="264.6" y1="48.4" x2="264.6" y2="37.95" stroke="#818181" stroke-width="0.5"/>
<line x1="265.98" y1="78.99" x2="265.98" y2="31.4" stroke="#777" stroke-width="0.55"/>
<line x1="266.59" y1="48.99" x2="266.59" y2="36.07" stroke="#767676" stroke-width="0.5"/>
<line x1="267.08" y1="48.99" x2="267.08" y2="36.56" stroke="#838383" stroke-width="0.5"/>
<line x1="268.33" y1="79.58" x2="268.33" y2="26.11" stroke="#777" stroke-width="0.55"/>
<line x1="269.02" y1="49.58" x2="269.02" y2="27.52" stroke="#a3a3a3" stroke-width="0.5"/>
<line x1="269.46" y1="49.58" x2="269.46" y2="29.81" stroke="#737373" stroke-width="0.5"/>
<line x1="270.78" y1="80.16" x2="270.78" y2="32.25" stroke="#777" stroke-width="0.55"/>
<line x1="271.22" y1="50.16" x2="271.22" y2="36.77" stroke="#5d5d5d" stroke-width="0.5"/>
<line x1="271.95" y1="50.16" x2="271.95" y2="39.92" stroke="#616161" stroke-width="0.5"/>
<line x1="272.44" y1="80.49" x2="272.44" y2="33.88" stroke="#777" stroke-width="0.55"/>
<line x1="273.07" y1="50.49" x2="273.07" y2="38.79" stroke="#727272" stroke-width="0.5"/>
<line x1="273.61" y1="50.49" x2="273.61" y2="41.17" stroke="#939393" stroke-width="0.5"/>
<line x1="274.6" y1="80.92" x2="274.6" y2="32.42" stroke="#777" stroke-width="0.55"/>
<line x1="275.02" y1="50.92" x2="275.02" y2="36.41" stroke="#636363" stroke-width="0.5"/>
<line x1="275.48" y1="50.92" x2="275.48" y2="40.96" stroke="#8a8a8a" stroke-width="0.5"/>
<line x1="277.3" y1="81.46" x2="277.3" y2="27.64" stroke="#777" stroke-width="0.55"/>
<line x1="277.9" y1="51.46" x2="277.9" y2="29.26" stroke="#939393" stroke-width="0.5"/>
<line x1="278.62" y1="51.46" x2="278.62" y2="37.34" stroke="#6d6d6d" stroke-width="0.5"/>
<line x1="281.2" y1="82.36" x2="281.2" y2="33.1" stroke="#777" stroke-width="0.55"/>
<line x1="281.89" y1="52.36" x2="281.89" y2="35.5" stroke="#767676" stroke-width="0.5"/>
<line x1="282.59" y1="52.36" x2="282.59" y2="40.08" stroke="#6a6a6a" stroke-width="0.5"/>
<line x1="283.25" y1="52.36" x2="283.25" y2="38.02" stroke="#a2a2a2" stroke-width="0.5"/>
<line x1="285.6" y1="83.68" x2="285.6" y2="25.5" stroke="#777" stroke-width="0.55"/>
<line x1="286.08" y1="53.68" x2="286.08" y2="26.82" stroke="#9f9f9f" stroke-width="0.5"/>
<line x1="286.53" y1="53.68" x2="286.53" y2="34.19" stroke="#6f6f6f" stroke-width="0.5"/>
<line x1="286.9" y1="53.68" x2="286.9" y2="29.94" stroke="#a5a5a5" stroke-width="0.5"/>
<line x1="292.6" y1="85.26" x2="292.6" y2="26.1" stroke="#777" stroke-width="0.55"/>
<line x1="293.06" y1="55.26" x2="293.06" y2="30.67" stroke="#686868" stroke-width="0.5"/>
<line x1="293.5" y1="55.26" x2="293.5" y2="29.78" stroke="#9b9b9b" stroke-width="0.5"/>
<line x1="294.53" y1="55.26" x2="294.53" y2="36.51" stroke="#7a7a7a" stroke-width="0.5"/>
<line x1="299.3" y1="85.93" x2="299.3" y2="25.5" stroke="#777" stroke-width="0.55"/>
<line x1="299.77" y1="55.93" x2="299.77" y2="27.65" stroke="#818181" stroke-width="0.5"/>
<line x1="300.6" y1="55.93" x2="300.6" y2="32.43" stroke="#767676" stroke-width="0.5"/>
<line x1="301.32" y1="55.93" x2="301.32" y2="39.93" stroke="#6d6d6d" stroke-width="0.5"/>
<line x1="308.6" y1="87.51" x2="308.6" y2="23.2" stroke="#777" stroke-width="0.55"/>
<line x1="309.09" y1="57.51" x2="309.09" y2="27.07" stroke="#969696" stroke-width="0.5"/>
<line x1="309.55" y1="57.51" x2="309.55" y2="25.55" stroke="#a6a6a6" stroke-width="0.5"/>
<line x1="312.1" y1="88.12" x2="312.1" y2="29" stroke="#777" stroke-width="0.55"/>
<line x1="312.61" y1="58.12" x2="312.61" y2="32.79" stroke="#a6a6a6" stroke-width="0.5"/>
<line x1="312.99" y1="58.12" x2="312.99" y2="31.02" stroke="#7e7e7e" stroke-width="0.5"/>
<line x1="313.9" y1="88.43" x2="313.9" y2="29.6" stroke="#777" stroke-width="0.55"/>
<line x1="314.48" y1="58.43" x2="314.48" y2="34.25" stroke="#7e7e7e" stroke-width="0.5"/>
<line x1="314.77" y1="58.43" x2="314.77" y2="37.56" stroke="#9f9f9f" stroke-width="0.5"/>
<line x1="315.11" y1="58.43" x2="315.11" y2="36.95" stroke="#939393" stroke-width="0.5"/>
<line x1="318" y1="89.15" x2="318" y2="25.5" stroke="#777" stroke-width="0.55"/>
<line x1="318.69" y1="59.15" x2="318.69" y2="30.39" stroke="#8a8a8a" stroke-width="0.5"/>
<line x1="318.91" y1="59.15" x2="318.91" y2="29.11" stroke="#929292" stroke-width="0.5"/>
<line x1="319.27" y1="59.15" x2="319.27" y2="34.16" stroke="#7d7d7d" stroke-width="0.5"/>
<line x1="327.3" y1="89.86" x2="327.3" y2="24.3" stroke="#777" stroke-width="0.55"/>
<line x1="327.85" y1="59.86" x2="327.85" y2="26.03" stroke="#a3a3a3" stroke-width="0.5"/>
<line x1="328.32" y1="59.86" x2="328.32" y2="31.66" stroke="#676767" stroke-width="0.5"/>
<line x1="329.33" y1="59.86" x2="329.33" y2="28.26" stroke="#a4a4a4" stroke-width="0.5"/>
<line x1="339.6" y1="90.48" x2="339.6" y2="23.8" stroke="#777" stroke-width="0.55"/>
<line x1="340.27" y1="60.48" x2="340.27" y2="28.56" stroke="#7a7a7a" stroke-width="0.5"/>
<line x1="340.81" y1="60.48" x2="340.81" y2="32.3" stroke="#606060" stroke-width="0.5"/>
<line x1="340.94" y1="60.48" x2="340.94" y2="27.39" stroke="#a9a9a9" stroke-width="0.5"/>
<line x1="351.4" y1="91.45" x2="351.4" y2="23" stroke="#777" stroke-width="0.55"/>
<line x1="351.94" y1="61.45" x2="351.94" y2="26.66" stroke="#a4a4a4" stroke-width="0.5"/>
<line x1="352.67" y1="61.45" x2="352.67" y2="32.17" stroke="#777777" stroke-width="0.5"/>
<line x1="353.35" y1="61.45" x2="353.35" y2="33.93" stroke="#616161" stroke-width="0.5"/>
<line x1="367.5" y1="92.05" x2="367.5" y2="22.7" stroke="#777" stroke-width="0.55"/>
<line x1="368.06" y1="62.05" x2="368.06" y2="24.39" stroke="#858585" stroke-width="0.5"/>
<line x1="368.37" y1="62.05" x2="368.37" y2="25.12" stroke="#959595" stroke-width="0.5"/>
<line x1="369.54" y1="62.05" x2="369.54" y2="34.34" stroke="#686868" stroke-width="0.5"/>
<line x1="393.3" y1="94.51" x2="393.3" y2="21.4" stroke="#777" stroke-width="0.55"/>
<line x1="393.79" y1="64.51" x2="393.79" y2="24.49" stroke="#707070" stroke-width="0.5"/>
<line x1="394.11" y1="64.51" x2="394.11" y2="23.81" stroke="#9f9f9f" stroke-width="0.5"/>
<line x1="394.87" y1="64.51" x2="394.87" y2="26.42" stroke="#a9a9a9" stroke-width="0.5"/>
<line x1="402.5" y1="93.85" x2="402.5" y2="75.2" stroke="#666" stroke-width="0.5"/>
<line x1="408.4" y1="94.07" x2="408.4" y2="85.7" stroke="#666" stroke-width="0.5"/>
<line x1="345.2" y1="89.93" x2="345.2" y2="79" stroke="#666" stroke-width="0.5"/>
<polyline points="233.3,30.9 233.5,41.13 233.7,48.56 233.9,54.19 234.1,58.52 234.3,61.91 234.5,64.6 234.7,66.27 234.9,68.43 235.1,69.43" fill="none" stroke="#151515" stroke-width="0.85" stroke-linejoin="round"/>
<polyline points="235.54,30.62 235.74,41.69 235.94,48.07 236.14,54.66 236.34,59.46 236.54,62.19 236.74,65.53 236.94,67.62 237.14,68.84" fill="none" stroke="#151515" stroke-width="0.85" stroke-linejoin="round"/>
<polyline points="237.49,32.34 237.69,41.2 237.89,48.93 238.09,54.5 238.29,59.22 238.49,62.49 238.69,65.05 238.89,66.78 239.09,68.25 239.29,69.67 239.49,70.95" fill="none" stroke="#151515" stroke-width="0.85" stroke-linejoin="round"/>
<polyline points="239.79,31.05 239.99,41.55 240.19,49.78 240.39,55.12 240.59,59.84 240.79,62.72 240.99,64.99" fill="none" stroke="#151515" stroke-width="0.85" stroke-linejoin="round"/>
<polyline points="241.42,31.88 241.62,41.42 241.82,49.44 242.02,55.32 242.22,59.77 242.42,62.62 242.62,65.62 242.82,67.06" fill="none" stroke="#151515" stroke-width="0.85" stroke-linejoin="round"/>
<polyline points="243.19,32.82 243.39,42.15 243.59,49.71 243.79,56.14 243.99,59.81 244.19,63.45 244.39,65.88 244.59,68.3" fill="none" stroke="#151515" stroke-width="0.85" stroke-linejoin="round"/>
<polyline points="244.94,32.22 245.14,42.12 245.34,49.72 245.54,54.92 245.74,60.31 245.94,63.17 246.14,66 246.34,67.91 246.54,69.05 246.74,70.66 246.94,71.09 247.14,72.11" fill="none" stroke="#151515" stroke-width="0.85" stroke-linejoin="round"/>
<polyline points="247.51,32.5 247.71,42.34 247.91,50.06 248.11,55.71 248.31,60.06 248.51,64.34 248.71,66.4 248.91,68.27 249.11,69.84 249.31,71.04 249.51,72.52 249.71,72.91" fill="none" stroke="#151515" stroke-width="0.85" stroke-linejoin="round"/>
<polyline points="250.11,32.44 250.31,43.13 250.51,50.29 250.71,55.69 250.91,60.57 251.11,64.59 251.31,67.28 251.51,69.15 251.71,70.1" fill="none" stroke="#151515" stroke-width="0.85" stroke-linejoin="round"/>
<polyline points="252.05,33.56 252.25,43.38 252.45,51.05 252.65,56.14 252.85,61.62 253.05,65.02 253.25,67.21 253.45,69.38 253.65,71.06" fill="none" stroke="#151515" stroke-width="0.85" stroke-linejoin="round"/>
<polyline points="254.08,33.95 254.28,43.94 254.48,51.76 254.68,57.47 254.88,61.88 255.08,65.44 255.28,67.92 255.48,69.88 255.68,71.62 255.88,72.07 256.08,74.06 256.28,73.9" fill="none" stroke="#151515" stroke-width="0.85" stroke-linejoin="round"/>
<polyline points="256.76,34.75 256.96,44.62 257.16,52.52 257.36,58.27 257.56,62.53 257.76,65.34 257.96,68.39 258.16,70.6 258.36,72.76 258.56,73.48" fill="none" stroke="#151515" stroke-width="0.85" stroke-linejoin="round"/>
<polyline points="258.9,35.39 259.1,45.03 259.3,52.31 259.5,58.6 259.7,63.48 259.9,66.2 260.1,68.69 260.3,71.25 260.5,72.11" fill="none" stroke="#151515" stroke-width="0.85" stroke-linejoin="round"/>
<polyline points="260.99,35.56 261.19,45.49 261.39,53.45 261.59,59.38 261.79,63.83 261.99,67.19 262.19,68.43 262.39,71.27 262.59,73.08 262.79,74.48 262.99,74.78 263.19,76.58 263.39,76.76 263.59,76.89" fill="none" stroke="#151515" stroke-width="0.85" stroke-linejoin="round"/>
<polyline points="263.91,36.46 264.11,46 264.31,54.4 264.51,59.4 264.71,64.86 264.91,67.99 265.11,69.99 265.31,72.4 265.51,74.34 265.71,75.07 265.91,75.66" fill="none" stroke="#151515" stroke-width="0.85" stroke-linejoin="round"/>
<polyline points="266.28,36.98 266.48,47.34 266.68,54.76 266.88,60.02 267.08,65.38 267.28,67.82 267.48,71.14 267.68,73.01 267.88,74.94 268.08,75.86 268.28,77.04" fill="none" stroke="#151515" stroke-width="0.85" stroke-linejoin="round"/>
<polyline points="268.63,37.74 268.83,47.37 269.03,55.3 269.23,60.44 269.43,64.95 269.63,69.11 269.83,70.96 270.03,74.04 270.23,75 270.43,76.39 270.63,77.26" fill="none" stroke="#151515" stroke-width="0.85" stroke-linejoin="round"/>
<polyline points="271.08,38.37 271.28,48.04 271.48,55.1 271.68,61.72 271.88,66.24 272.08,69.23 272.28,72.29" fill="none" stroke="#151515" stroke-width="0.85" stroke-linejoin="round"/>
<polyline points="272.74,38.76 272.94,48.14 273.14,55.86 273.34,61.49 273.54,66.27 273.74,69.73 273.94,72.68 274.14,74.64 274.34,75.98 274.54,77.21" fill="none" stroke="#151515" stroke-width="0.85" stroke-linejoin="round"/>
<polyline points="274.9,38.62 275.1,49 275.3,56.75 275.5,62.1 275.7,66.04 275.9,70.01 276.1,72.35 276.3,75.02 276.5,76.05 276.7,78.18 276.9,78.54 277.1,78.93 277.3,79.6" fill="none" stroke="#151515" stroke-width="0.85" stroke-linejoin="round"/>
<polyline points="277.6,40.35 277.8,48.93 278,57.42 278.2,63.21 278.4,66.6 278.6,70.17 278.8,72.97 279,75.67 279.2,76.74 279.4,78.04 279.6,79.28 279.8,79.79 280,80.39 280.2,80.66 280.4,81.54 280.6,81.17 280.8,82.26 281,81.76 281.2,81.76" fill="none" stroke="#151515" stroke-width="0.85" stroke-linejoin="round"/>
<polyline points="281.5,28.15 281.7,32.81 281.9,37.08 282.1,41.13 282.3,44.7 282.5,48.11 282.7,50.74 282.9,53.42 283.1,55.21 283.3,57.03 283.5,58.73 283.7,60.03 283.9,61.49 284.1,62.85 284.3,63.92 284.5,64.43 284.7,64.9 284.9,66.06 285.1,67.21 285.3,66.95 285.5,68.32" fill="none" stroke="#151515" stroke-width="0.85" stroke-linejoin="round"/>
<polyline points="285.9,28.46 286.1,34.07 286.3,38.42 286.5,42.86 286.7,45.87 286.9,49.38 287.1,52.43 287.3,54.47 287.5,56.38 287.7,58.84 287.9,59.62 288.1,61.73 288.3,62.6 288.5,63.96 288.7,64.97 288.9,65.98 289.1,66.82 289.3,67.39 289.5,68.23 289.7,69.29 289.9,69.76 290.1,69.99 290.3,70.7 290.5,71.22 290.7,71.92 290.9,72.46 291.1,72.87 291.3,73.02 291.5,73.66 291.7,73.55 291.9,73.38 292.1,74.72 292.3,74.5 292.5,75.07" fill="none" stroke="#151515" stroke-width="0.85" stroke-linejoin="round"/>
<polyline points="292.9,30.94 293.1,35.72 293.3,40.33 293.5,44.17 293.7,47.71 293.9,50.57 294.1,53.01 294.3,56.32 294.5,57.01 294.7,59.54 294.9,61.2 295.1,62.51 295.3,63.4 295.5,64.81 295.7,65.75 295.9,66.47 296.1,67.69 296.3,68.34 296.5,69.02 296.7,70.12 296.9,70.13 297.1,71.24 297.3,71.42 297.5,72.29 297.7,72.65 297.9,73.17 298.1,73.18 298.3,73.67 298.5,74.03 298.7,74.77 298.9,75.34 299.1,75.8 299.3,75.59" fill="none" stroke="#151515" stroke-width="0.85" stroke-linejoin="round"/>
<polyline points="299.6,31.77 299.8,36.35 300,40.78 300.2,45.12 300.4,48.1 300.6,51.94 300.8,53.5 301,55.9 301.2,58.36 301.4,59.95 301.6,62.31 301.8,62.69 302,64.28 302.2,65.78 302.4,66.94 302.6,68.05 302.8,68.69 303,70.14 303.2,69.94 303.4,70.85 303.6,71.73 303.8,71.92 304,72.49 304.2,72.95 304.4,73.39 304.6,73.7 304.8,74.35 305,74.43 305.2,75.51 305.4,75.22 305.6,76.88 305.8,77.11 306,77.26 306.2,77.14 306.4,77.33 306.6,78.28 306.8,78.23 307,78.66 307.2,78.5 307.4,79.4 307.6,79.02 307.8,79.61 308,79.22 308.2,79.85 308.4,80.5 308.6,80.4" fill="none" stroke="#151515" stroke-width="0.85" stroke-linejoin="round"/>
<polyline points="308.9,45 309.1,54.95 309.3,63.28 309.5,68.4 309.7,73 309.9,76.85 310.1,79.15 310.3,81.46 310.5,82.54 310.7,84.15 310.9,85.35 311.1,85.8 311.3,85.48 311.5,86.91 311.7,87.04 311.9,86.98 312.1,88" fill="none" stroke="#151515" stroke-width="0.85" stroke-linejoin="round"/>
<polyline points="312.4,46.27 312.6,56.21 312.8,63.95 313,69.07 313.2,74.01 313.4,77.51 313.6,79.79 313.8,81.57" fill="none" stroke="#151515" stroke-width="0.85" stroke-linejoin="round"/>
<polyline points="314.2,33.51 314.4,38.74 314.6,43.93 314.8,48.22 315,50.84 315.2,54.29 315.4,56.94 315.6,58.72 315.8,60.64 316,63.32 316.2,64.24 316.4,65.79 316.6,66.98 316.8,68.19 317,69.08 317.2,70.5 317.4,71.55 317.6,71.78 317.8,72.17 318,73.36" fill="none" stroke="#151515" stroke-width="0.85" stroke-linejoin="round"/>
<polyline points="318.3,34.44 318.5,39.05 318.7,43.57 318.9,48.44 319.1,51.6 319.3,54.44 319.5,57.44 319.7,59.42 319.9,60.99 320.1,63.74 320.3,64.82 320.5,66.1 320.7,67.25 320.9,68.93 321.1,69.59 321.3,71.01 321.5,71.55 321.7,72.8 321.9,73 322.1,73.57 322.3,73.72 322.5,74.6 322.7,75.77 322.9,77.08 323.1,76.06 323.3,76.58 323.5,77.49 323.7,77.94 323.9,77.92 324.1,78.56 324.3,78.32 324.5,79.12 324.7,79.86 324.9,80.43 325.1,80.11 325.3,80.37 325.5,80.9 325.7,81.4 325.9,81.45 326.1,81.28 326.3,81.91 326.5,82.36 326.7,82.01 326.9,82.02 327.1,82.88 327.3,83.05" fill="none" stroke="#151515" stroke-width="0.85" stroke-linejoin="round"/>
<polyline points="327.6,34.85 327.8,39.98 328,45.29 328.2,48.84 328.4,52.07 328.6,55.49 328.8,57.85 329,59.96 329.2,62.68 329.4,64.17 329.6,66.11 329.8,67.32 330,68.45 330.2,69.36 330.4,69.96 330.6,71.51 330.8,72.14 331,73.12 331.2,73.6 331.4,74.02 331.6,74.53 331.8,75.69 332,76.43 332.2,76.39 332.4,77.12 332.6,77.89 332.8,77.55 333,78.12 333.2,78.24 333.4,79.41 333.6,79.44 333.8,79.53 334,79.44 334.2,80.27 334.4,80.98 334.6,80.83 334.8,81.07 335,81.71 335.2,81.32 335.4,82.03 335.6,82.46 335.8,82.22 336,82.44 336.2,83.04 336.4,83.14 336.6,83.31 336.8,83.67 337,83.87 337.2,83.67 337.4,83.95 337.6,84.52 337.8,84.94 338,85.19 338.2,84.6 338.4,85.44 338.6,85.48 338.8,85.37 339,85.7 339.2,85.97 339.4,86.44 339.6,85.6" fill="none" stroke="#151515" stroke-width="0.85" stroke-linejoin="round"/>
<polyline points="339.9,35.46 340.1,40.86 340.3,45.52 340.5,50.01 340.7,52.86 340.9,55.73 341.1,59.09 341.3,60.61 341.5,62.63 341.7,64.12 341.9,66.57 342.1,67.7 342.3,69.04 342.5,70.07 342.7,71 342.9,71.71 343.1,72.57 343.3,73.77 343.5,74.38 343.7,75.57 343.9,75.36 344.1,76.04 344.3,76.39 344.5,77.73 344.7,77.31 344.9,78.46 345.1,79.13 345.3,78.99 345.5,79.68 345.7,79.07 345.9,80.04 346.1,79.94 346.3,80.91 346.5,81.17 346.7,81.22 346.9,82.11 347.1,82.19 347.3,82.17 347.5,82.44 347.7,82.37 347.9,83.07 348.1,84.12 348.3,83.38 348.5,84 348.7,83.89 348.9,84.58 349.1,84.67 349.3,84.65 349.5,84.31 349.7,84.95 349.9,85.73 350.1,85.42 350.3,85.9 350.5,85.7 350.7,85.39 350.9,86.35 351.1,86.48 351.3,86.33" fill="none" stroke="#151515" stroke-width="0.85" stroke-linejoin="round"/>
<polyline points="351.7,36.3 351.9,41.98 352.1,46.77 352.3,50.41 352.5,53.27 352.7,56.55 352.9,59.74 353.1,61.63 353.3,63.46 353.5,65.49 353.7,67.27 353.9,68.59 354.1,69.98 354.3,70.6 354.5,71.81 354.7,72.75 354.9,73.67 355.1,73.73 355.3,75.08 355.5,75.35 355.7,76.91 355.9,77.54 356.1,78.11 356.3,78.31 356.5,78.33 356.7,79.28 356.9,79.3 357.1,79.98 357.3,79.84 357.5,80.32 357.7,81.03 357.9,81.82 358.1,81.52 358.3,82.62 358.5,83.1 358.7,81.99 358.9,82.7 359.1,82.65 359.3,83.19 359.5,83.31 359.7,83.72 359.9,84.31 360.1,84.53 360.3,84.52 360.5,84.65 360.7,84.9 360.9,85.1 361.1,85.46 361.3,85.45 361.5,85.81 361.7,85.37 361.9,86.27 362.1,86.77 362.3,86.4 362.5,86.01 362.7,87.12 362.9,86.69 363.1,85.92 363.3,87.03 363.5,87.45 363.7,87.51 363.9,87.94 364.1,87.86 364.3,87.82 364.5,87.21 364.7,87.63 364.9,88.19 365.1,88.48 365.3,88 365.5,88.25 365.7,88.73 365.9,88.01 366.1,88.1 366.3,88.79 366.5,89.05 366.7,88.89 366.9,88.35 367.1,89.24 367.3,88.87 367.5,89.65" fill="none" stroke="#151515" stroke-width="0.85" stroke-linejoin="round"/>
<polyline points="367.8,37.17 368,42.06 368.2,46.98 368.4,50.8 368.6,54.26 368.8,57.49 369,60.46 369.2,62.29 369.4,64.47 369.6,65.71 369.8,67.85 370,69.63 370.2,70.78 370.4,71.81 370.6,72.49 370.8,73.28 371,74.44 371.2,74.79 371.4,75.55 371.6,76.97 371.8,76.95 372,78.47 372.2,77.9 372.4,79.06 372.6,78.99 372.8,79.91 373,79.92 373.2,80.71 373.4,81.04 373.6,81.32 373.8,82.02 374,82.71 374.2,82.32 374.4,83.15 374.6,83.19 374.8,83.45 375,84.51 375.2,83.28 375.4,84.07 375.6,83.95 375.8,84.72 376,85 376.2,86.64 376.4,85.68 376.6,86.41 376.8,86.46 377,86.07 377.2,86.6 377.4,87.22 377.6,86.9 377.8,87.11 378,87.4 378.2,86.89 378.4,87.31 378.6,87.88 378.8,88.12 379,87.78 379.2,88.15 379.4,88.38 379.6,88.52 379.8,88.96 380,88.91 380.2,89.07 380.4,88.66 380.6,88.92 380.8,89.53 381,88.99 381.2,89.77 381.4,89.57 381.6,89.64 381.8,90.26 382,89.91 382.2,89.96 382.4,90.14 382.6,90.5 382.8,91.53 383,89.95 383.2,90.77 383.4,90.79 383.6,91.3 383.8,90.94 384,90.3 384.2,91.71 384.4,90.95 384.6,91.4 384.8,91.03 385,91.2 385.2,91.49 385.4,92.04 385.6,92.11 385.8,91.68 386,92.14 386.2,91.9 386.4,92.14 386.6,92.23 386.8,92.45 387,92.09 387.2,92.32 387.4,92.51 387.6,92.53 387.8,92.28 388,93.21 388.2,92.51 388.4,92.99 388.6,92.86 388.8,93.27 389,92.14 389.2,93.66 389.4,92.93 389.6,92.62 389.8,93.15 390,93.94 390.2,93.38 390.4,92.82 390.6,93.14 390.8,93.81 391,92.9 391.2,93.37 391.4,93.37 391.6,94.27 391.8,93.46 392,94.06 392.2,93.41 392.4,93.41 392.6,94.08 392.8,93.98 393,93.21 393.2,94.06" fill="none" stroke="#151515" stroke-width="0.85" stroke-linejoin="round"/>
<polyline points="393.6,39.3 393.8,44.31 394,49.44 394.2,53.36 394.4,56.48 394.6,60.13 394.8,63.13 395,65.21 395.2,66.3 395.4,68.99 395.6,70.21 395.8,71.52 396,72.59 396.2,73.92 396.4,75.43 396.6,76.06 396.8,76.57 397,77.26 397.2,78.06 397.4,79.06 397.6,80.12 397.8,79.67 398,80.57 398.2,80.94 398.4,81.28 398.6,82.13 398.8,82.61 399,82.33 399.2,82.84 399.4,83.98 399.6,84.03 399.8,84.44 400,84.41 400.2,84.76 400.4,85.35 400.6,85.31 400.8,85.38 401,86.04 401.2,86.61 401.4,86.19 401.6,87.16 401.8,87.28 402,86.96 402.2,87.49 402.4,87.69 402.6,88.14 402.8,88.35 403,87.87 403.2,88.04 403.4,89.06 403.6,88.92 403.8,89.2 404,89.35 404.2,89.93 404.4,89.14 404.6,90.1 404.8,89.59 405,90.28 405.2,90.64 405.4,89.83 405.6,90.59 405.8,90.49 406,90.62 406.2,90.86 406.4,90.6 406.6,90.75 406.8,91.43 407,91.61 407.2,91.23 407.4,91.04 407.6,92.45 407.8,92.13 408,91.97 408.2,91.59 408.4,91.84 408.6,92.22 408.8,91.89 409,92.86 409.2,92.44 409.4,92.62 409.6,92.2 409.8,92.33 410,92.44 410.2,92.89 410.4,92.77 410.6,92.84 410.8,93.11 411,93.15 411.2,93.65 411.4,93.14 411.6,92.92 411.8,93.32 412,93.89 412.2,93.25 412.4,93.52 412.6,93.43 412.8,93.75 413,93.75 413.2,93.44 413.4,93.69 413.6,94.14 413.8,94.24 414,94.23 414.2,94.25 414.4,93.89 414.6,93.92 414.8,94.41 415,93.72 415.2,94.15 415.4,93.57 415.6,94.12 415.8,94.04 416,93.91 416.2,94.56 416.4,94.14 416.6,94.3 416.8,94.37 417,94.24 417.2,95.02 417.4,94.39 417.6,94.66 417.8,94.17 418,94.49 418.2,94.57 418.4,94.6 418.6,94.53 418.8,94.81 419,95.32 419.2,94.77 419.4,94.79 419.6,94.73 419.8,95.76 420,95.47 420.2,95.14 420.4,95.22 420.6,94.76 420.8,94.99 421,95.14 421.2,95.14 421.4,94.83 421.6,94.89 421.8,95.36 422,95.32 422.2,94.52 422.4,95.3 422.6,95.73 422.8,95.1 423,95.43 423.2,94.88 423.4,95.69 423.6,95.05 423.8,95.02 424,95.37 424.2,96.32 424.4,95.32 424.6,95.12 424.8,95.73 425,95.68 425.2,96.19 425.4,95.21 425.6,95.12 425.8,95.59 426,95.85 426.2,95.86 426.4,96.13 426.6,95.27 426.8,95.52 427,95.78 427.2,96.14 427.4,96.03 427.6,95.75 427.8,95.56 428,96.24 428.2,96.28 428.4,96.91 428.6,95.94 428.8,96.57 429,95.62 429.2,95.87 429.4,95.85 429.6,95.94 429.8,95.82 430,95.95 430.2,96.14 430.4,96.02 430.6,96.42 430.8,96.19 431,96.23 431.2,96.76 431.4,96.38 431.6,96.34 431.8,96.3 432,96.35 432.2,96.54 432.4,96.09 432.6,96.78 432.8,96.94 433,96.82 433.2,96.27 433.4,95.91 433.6,96.33 433.8,96.55 434,96.8 434.2,96.47 434.4,96.44 434.6,97.09 434.8,96.35 435,96.97 435.2,96.93 435.4,96.18 435.6,96.75 435.8,96.48 436,96.36 436.2,96.07 436.4,96.19 436.6,96.88 436.8,96.62 437,96.87 437.2,96.43 437.4,96.7 437.6,96.73 437.8,96.31 438,96.29 438.2,97.03 438.4,96.94 438.6,96.59 438.8,96.89 439,97.17 439.2,97.59 439.4,96.67 439.6,97.21 439.8,97.74 440,97.05 440.2,97.55 440.4,96.17 440.6,97.57 440.8,97.09 441,96.47 441.2,97.4 441.4,97.5 441.6,97.58 441.8,97.59 442,97.18 442.2,96.95 442.4,97.07 442.6,97.23 442.8,97.4 443,97.11 443.2,97.31 443.4,97.61 443.6,97.44 443.8,98.13 444,98.1 444.2,96.98 444.4,97.19 444.6,96.96 444.8,97.02 445,97.63 445.2,97.11 445.4,97.11 445.6,97.39 445.8,97.78 446,97.4 446.2,97.41 446.4,97.87 446.6,97.73 446.8,97.74 447,97.92 447.2,97.27 447.4,97.71 447.6,97.43 447.8,98.02 448,97.96 448.2,97.32" fill="none" stroke="#151515" stroke-width="0.85" stroke-linejoin="round"/>
<polyline points="120.5,317.4 120.85,316.62 121.2,316.27 121.55,316.87 121.9,316.48 122.25,315.61 122.6,316.06 122.95,317.1 123.3,317.47 123.65,316.72 124,317.15 124.35,315.4 124.7,315.58 125.05,316.4 125.4,315.46 125.75,317.11 126.1,316.43 126.45,317.64 126.8,311.81 127.15,317.3 127.5,314.98 127.85,315.5 128.2,317.09 128.55,316.17 128.9,316.98 129.25,315.3 129.6,317.26 129.95,317.51 130.3,316.36 130.65,316.36 131,316.34 131.35,315.64 131.7,315.67 132.05,316.63 132.4,316.65 132.75,313.69 133.1,315.55 133.45,315.9 133.8,316.03 134.15,317.47 134.5,316.88 134.85,317.26 135.2,315.98 135.55,316.57 135.9,316.08 136.25,315.21 136.6,312.87 136.95,317.36 137.3,316.02 137.65,317.21 138,316.21 138.35,317.25 138.7,313.72 139.05,316.47 139.4,315.42 139.75,316.74 140.1,314.89 140.45,315.64 140.8,316.82 141.15,316.8 141.5,317.16 141.85,317.55 142.2,316.66 142.55,316.23 142.9,316.81 143.25,316.11 143.6,316.36 143.95,312.23 144.3,315.46 144.65,313.99 145,316.4 145.35,316.14 145.7,317.1 146.05,315.71 146.4,315.74 146.75,316.55 147.1,316.84 147.45,316.66 147.8,315.42 148.15,316.82 148.5,316.51 148.85,313.21 149.2,316.67 149.55,316.6 149.9,316.38 150.25,317.36 150.6,316.51 150.95,316.89 151.3,315.81 151.65,318.18 152,316.19 152.35,316.72 152.7,316.66 153.05,314.92 153.4,315.67 153.75,316.18 154.1,316.38 154.45,316.51 154.8,315.33 155.15,316.4 155.5,316.39 155.85,315.59 156.2,316.71 156.55,316.28 156.9,316.41 157.25,316.39 157.6,316.25 157.95,317.38 158.3,316.74 158.65,316.98 159,316.72 159.35,316.62 159.7,315.79 160.05,316.2 160.4,314.89 160.75,316.89 161.1,316.29 161.45,316.54 161.8,315.73 162.15,315.99 162.5,317.54 162.85,316.1 163.2,317.01 163.3,317.6 163.41,294.9 163.6,320.1 163.55,318.04 163.9,316.97 164.25,319.35 164.6,318.27 164.95,318.51 165.3,318.77 165.65,318.81 166,317.74 166.35,319.02 166.7,318.4 167.05,319.51 167.4,317.93 167.75,319.18 168.1,316.1 168.45,319.07 168.8,318.3 169.15,318.98 169.5,319.1 169.85,318.06 170.2,319.02 170.55,319.49 170.9,318.32 171.25,319.84 171.6,318.87 171.95,319.35 172.3,316.03 172.65,318.71 173,319.66 173.35,317.31 173.7,318.46 174.05,318.05 174.4,317.98 174.75,316.12 175.1,316.76 175.45,315.26 175.8,317.47 176.15,316.11 176.5,319.12 176.85,316.64 177.2,318.41 177.55,318.72 177.9,318.04 178.25,318.81 178.6,318.71 178.95,318.01 179.3,318.02 179.65,317.44 180,319.35 180.35,318.69 180.7,318.45 181.05,317.86 181.4,318.28 181.75,318.36 182.1,318.29 182.45,317.55 182.8,317.19 183.15,315.73 183.5,318.29 183.85,317.44 184.2,318.78 184.55,318.11 184.9,318.08 185.25,318.6 185.6,318.72 185.95,318.09 186.3,317.83 186.65,319.48 187,317.41 187.35,317.78 187.7,318.46 188.05,319.54 188.4,319.97 188.75,318.37 189.1,318.86 189.45,318.08 189.8,320.07 190.15,318.63 190.5,318.68 190.85,319.27 191.2,319.05 191.55,319.74 191.9,319.81 192.25,318.46 192.6,317.62 192.95,318.66 193.3,318.56 193.65,318.53 194,319.47 194.35,317.66 194.7,319.5 195.05,319.81 195.4,318.15 195.75,316.74 196.1,317.51 196.45,318.16 196.8,319.21 197.15,316.58 197.5,316.53 197.85,318 198.2,317.76 198.55,319.05 198.9,318.52 199.25,319.16 199.6,318.76 199.95,319.3 200.3,318.95 200.65,318.43 201,318.55 201.35,317.55 201.7,319.03 202.05,319.04 202.4,318.18 202.75,318.04 203.1,316.97 203.45,318.89 203.8,319.21 204.15,317.84 204.5,319.11 204.85,319.51 205.2,320.49 205.55,318.3 205.9,318.67 206.25,318.42 206.6,319.25 206.95,318.8 207.3,319.3 207.65,318.41 208,318.95 208.35,318.01 208.7,318.73 209.05,320.37 209.4,318.51 209.75,318.72 210.1,318.63 210.45,319.31 210.8,319.89 211.15,318.76 211.5,318.94 211.85,318.28 212.2,317.62 212.55,319.19 212.9,319.07 213.25,319.3 213.6,317.4 213.95,319.16 214.3,318.87 214.65,318 215,319.26 215.35,319.88 215.7,319.35 216.05,319.3 216.4,317.05 216.75,318.29 217.1,319.46 217.45,316.09 217.8,319.29 218.15,317.5 218.5,318.92 218.85,318.9 219.2,318.09 219.55,318.57 219.9,319.35 220.25,319.19 220.6,314.34 220.95,319.13 221.3,317.83 221.65,318.52 222,318.45 222.35,318.16 222.7,319.3 223.05,319.42 223.4,319.03 223.75,319.43 224.1,318.66 224.45,319.49 224.8,318.78 225.15,319.38 225.5,317.65 225.85,317.82 226.2,319.23 226.55,319.25 226.9,315.88 227.25,319.13 227.6,318.81 227.95,318.74 228.3,318.98 228.65,319.47 229,315.5 229.35,319.53 229.7,316.31 230.05,318.59 230.4,318.8 230.75,318.58 231.1,317.82 231.45,317.67 231.8,319.62 232.15,320.18 232.5,316.14 232.85,318.6 233.2,319.65 233.55,319.45 233.9,318.83 234.25,318.35 234.6,317.26 234.95,319.46 235.3,319.08 235.65,315.07 236,318.29 236.35,318.44 236.7,318.4 237.05,319.75 237.4,318.63 237.75,318.35 238.1,318.97 238.45,318.58 238.8,318.36 239.15,314.67 239.5,319.12 239.85,318.54 240.2,318.6 240.55,318.65 240.6,318.5 240.7,293 240.9,321 240.9,319.39 241.25,319.2 241.6,319.38 241.95,320.14 242.3,319.74 242.65,318.22 243,319.25 243.35,316.99 243.7,319.96 244.05,319.86 244.4,319.73 244.75,319.19 245.1,319.54 245.45,319.43 245.8,319.44 246.15,319.98 246.5,319.87 246.85,319.55 247.2,319.12 247.55,320.91 247.9,320.17 248.25,318.69 248.6,319.49 248.95,320.19 249.3,319.5 249.65,319.16 250,320.18 250.35,320.64 250.7,319.38 251.05,319.18 251.4,318.62 251.75,318.77 252.1,320.95 252.45,318.39 252.8,319.79 253.15,319.11 253.5,319.89 253.85,320.32 254.2,319.41 254.55,320.02 254.9,318.16 255.25,320.13 255.6,319.77 255.95,318.89 256.3,319.79 256.65,319.37 257,320.18 257.35,320.15 257.7,319.7 258.05,314.65 258.4,318.95 258.75,319.81 259.1,319.85 259.45,319.9 259.8,319.77 260.15,319.82 260.5,319.78 260.85,320.32 261.2,318.71 261.55,319.02 261.9,319.35 262.25,320.47 262.6,319.84 262.95,318.57 263.3,319.29 263.65,318.99 264,319.6 264.35,319.64 264.7,318.42 265.05,319.95 265.4,318.32 265.75,318.73 266.1,319.99 266.45,319 266.8,319.61 267.15,314.01 267.5,319.42 267.85,318.5 268.2,317.44 268.55,319.35 268.9,319.7 269.25,319.95 269.6,319.7 269.95,318.4 270.3,319.34 270.65,319.82 271,319.79 271.35,318.63 271.7,320.19 272.05,320.12 272.4,319.6 272.75,319.66 273.1,319.04 273.45,319.12 273.8,317.12 274.15,319.81 274.5,320.84 274.85,320.72 275.2,318.96 275.55,318.77 275.9,318.91 276.25,321.32 276.6,319.32 276.95,319.53 277.3,318.52 277.65,320.27 278,319.39 278.35,320.1 278.7,317.81 279.05,318.01 279.4,319.01 279.75,319.67 280.1,318.97 280.45,320.1 280.8,318.53 281.15,318.74 281.5,320.97 281.85,319.96 282.2,319.28 282.55,319.38 282.9,318.93 283.25,319.28 283.6,319.03 283.95,319.95 284.3,319.82 284.4,318.5 284.5,295 284.7,321 284.65,319.64 285,319.98 285.35,320.06 285.7,319.02 286.05,318.58 286.4,318.19" fill="none" stroke="#1a1a1a" stroke-width="0.8" stroke-linejoin="round"/>
<line x1="286.6" y1="317" x2="286.6" y2="236.7" stroke="#111" stroke-width="0.8"/>
<linearGradient id="g2866" x1="0" y1="0" x2="0" y2="1"><stop offset="0" stop-color="#8c8c8c"/><stop offset="0.5" stop-color="#a2a2a2"/><stop offset="0.85" stop-color="#7a7a7a"/><stop offset="1" stop-color="#3a3a3a"/></linearGradient>
<path d="M286.6,236.7 L287.1,237.19 L287.6,237.67 L288.1,238.16 L288.6,238.64 L289.1,239.13 L289.6,239.61 L290.1,240.01 L290.6,240.06 L291.1,240.11 L291.6,240.16 L292.1,240.21 L292.6,240.26 L293.1,240.31 L293.6,240.36 L294.1,240.41 L294.6,240.46 L295.1,240.51 L295.6,240.56 L296.1,240.61 L296.6,240.66 L297.1,240.71 L297.6,240.76 L298.1,240.81 L298.6,240.86 L299.1,240.91 L299.6,240.96 L300.1,241 L300.6,241.01 L301.1,241.02 L301.6,241.03 L302.1,241.04 L302.6,241.05 L303.1,241.06 L303.6,241.07 L304.1,241.08 L304.6,241.09 L305.1,241.1 L305.6,241.11 L306.1,241.12 L306.6,241.13 L307.1,241.14 L307.6,241.15 L308.1,241.16 L308.6,241.17 L309.1,241.18 L309.6,241.19 L310.1,241.2 L310.6,241.22 L311.1,241.23 L311.6,241.24 L312.1,241.25 L312.6,241.26 L313.1,241.27 L313.6,241.28 L314.1,241.29 L314.6,241.3 L315.1,241.31 L315.6,241.32 L316.1,241.33 L316.6,241.34 L317.1,241.35 L317.6,241.36 L318.1,241.37 L318.6,241.38 L319.1,241.39 L319.6,241.4 L320.1,241.41 L320.6,241.42 L321.1,241.43 L321.6,241.44 L322.1,241.45 L322.6,241.46 L323.1,241.47 L323.6,241.48 L324.1,241.49 L324.6,241.5 L325.1,241.51 L325.6,241.52 L326.1,241.53 L326.6,241.54 L327.1,241.55 L327.6,241.56 L328.1,241.57 L328.6,241.58 L329.1,241.59 L329.6,241.6 L330.1,241.61 L330.6,241.62 L331.1,241.63 L331.6,241.64 L332.1,241.65 L332.6,241.66 L333.1,241.67 L333.6,241.68 L334.1,241.69 L334.6,241.7 L335.1,241.71 L335.6,241.72 L336.1,241.73 L336.6,241.74 L337.1,241.75 L337.6,241.76 L338.1,241.77 L338.6,241.78 L339.1,241.79 L339.6,241.8 L340.1,241.81 L340.6,241.82 L341.1,241.83 L341.6,241.84 L342.1,241.85 L342.6,241.86 L343.1,241.87 L343.6,241.88 L344.1,241.89 L344.6,241.9 L345.1,241.91 L345.6,241.92 L346.1,241.94 L346.6,241.95 L347.1,241.96 L347.6,241.97 L348.1,241.98 L348.6,241.99 L349.1,242 L349.1,298.47 L348.6,298.39 L348.1,298.32 L347.6,298.24 L347.1,298.17 L346.6,298.09 L346.1,298.02 L345.6,297.91 L345.1,297.79 L344.6,297.67 L344.1,297.55 L343.6,297.43 L343.1,297.32 L342.6,297.2 L342.1,297.08 L341.6,296.96 L341.1,296.84 L340.6,296.73 L340.1,296.61 L339.6,296.49 L339.1,296.37 L338.6,296.25 L338.1,296.14 L337.6,296.02 L337.1,295.9 L336.6,295.78 L336.1,295.67 L335.6,295.55 L335.1,295.43 L334.6,295.31 L334.1,295.19 L333.6,295.08 L333.1,294.96 L332.6,294.84 L332.1,294.72 L331.6,294.6 L331.1,294.49 L330.6,294.37 L330.1,294.25 L329.6,294.13 L329.1,294.01 L328.6,293.9 L328.1,293.78 L327.6,293.66 L327.1,293.54 L326.6,293.42 L326.1,293.31 L325.6,293.19 L325.1,293.07 L324.6,292.95 L324.1,292.83 L323.6,292.72 L323.1,292.6 L322.6,292.48 L322.1,292.36 L321.6,292.25 L321.1,292.13 L320.6,292.01 L320.1,291.89 L319.6,291.77 L319.1,291.66 L318.6,291.54 L318.1,291.42 L317.6,291.3 L317.1,291.18 L316.6,291.07 L316.1,290.95 L315.6,290.83 L315.1,290.71 L314.6,290.59 L314.1,290.48 L313.6,290.36 L313.1,290.24 L312.6,290.12 L312.1,290 L311.6,289.89 L311.1,289.77 L310.6,289.65 L310.1,289.53 L309.6,289.42 L309.1,289.3 L308.6,289.18 L308.1,289.06 L307.6,288.94 L307.1,288.83 L306.6,288.71 L306.1,288.59 L305.6,288.47 L305.1,288.35 L304.6,288.24 L304.1,288.12 L303.6,288 L303.1,287.88 L302.6,287.76 L302.1,287.65 L301.6,287.53 L301.1,287.41 L300.6,287.29 L300.1,287.17 L299.6,287.06 L299.1,286.94 L298.6,286.82 L298.1,286.7 L297.6,286.58 L297.1,286.47 L296.6,286.35 L296.1,286.23 L295.6,286.11 L295.1,286 L294.6,285.88 L294.1,285.76 L293.6,285.64 L293.1,285.52 L292.6,285.53 L292.1,285.57 L291.6,285.61 L291.1,285.65 L290.6,285.69 L290.1,285.73 L289.6,285.77 L289.1,285.8 L288.6,285.84 L288.1,285.88 L287.6,285.92 L287.1,285.96 L286.6,286Z" fill="url(#g2866)" stroke="none" stroke-width="1"/>
<line x1="286.6" y1="238.18" x2="286.6" y2="286" stroke="#9c9c9c" stroke-width="0.45"/>
<line x1="287.38" y1="239.38" x2="287.38" y2="285.94" stroke="#4e4e4e" stroke-width="0.45"/>
<line x1="288.54" y1="239.61" x2="288.54" y2="285.85" stroke="#5a5a5a" stroke-width="0.45"/>
<line x1="289.25" y1="241.01" x2="289.25" y2="285.79" stroke="#6c6c6c" stroke-width="0.45"/>
<line x1="290.58" y1="240.61" x2="290.58" y2="285.69" stroke="#a8a8a8" stroke-width="0.45"/>
<line x1="291.29" y1="240.72" x2="291.29" y2="285.63" stroke="#828282" stroke-width="0.45"/>
<line x1="292.11" y1="240.99" x2="292.11" y2="285.57" stroke="#737373" stroke-width="0.45"/>
<line x1="293.49" y1="242.94" x2="293.49" y2="285.62" stroke="#5e5e5e" stroke-width="0.45"/>
<line x1="294.79" y1="240.55" x2="294.79" y2="285.92" stroke="#9d9d9d" stroke-width="0.45"/>
<line x1="296.09" y1="243.32" x2="296.09" y2="286.23" stroke="#535353" stroke-width="0.45"/>
<line x1="297.24" y1="242.95" x2="297.24" y2="286.5" stroke="#3e3e3e" stroke-width="0.45"/>
<line x1="298.7" y1="242.99" x2="298.7" y2="286.84" stroke="#929292" stroke-width="0.45"/>
<line x1="299.54" y1="243.29" x2="299.54" y2="287.04" stroke="#7a7a7a" stroke-width="0.45"/>
<line x1="300.38" y1="241.4" x2="300.38" y2="287.24" stroke="#9a9a9a" stroke-width="0.45"/>
<line x1="301.44" y1="241.85" x2="301.44" y2="287.49" stroke="#646464" stroke-width="0.45"/>
<line x1="302.75" y1="241.46" x2="302.75" y2="287.8" stroke="#4d4d4d" stroke-width="0.45"/>
<line x1="304.04" y1="243.76" x2="304.04" y2="288.1" stroke="#858585" stroke-width="0.45"/>
<line x1="305.59" y1="241.96" x2="305.59" y2="288.47" stroke="#626262" stroke-width="0.45"/>
<line x1="306.62" y1="242.21" x2="306.62" y2="288.71" stroke="#595959" stroke-width="0.45"/>
<line x1="308.04" y1="242.01" x2="308.04" y2="289.05" stroke="#696969" stroke-width="0.45"/>
<line x1="309.16" y1="244.17" x2="309.16" y2="289.31" stroke="#606060" stroke-width="0.45"/>
<line x1="310.48" y1="242.2" x2="310.48" y2="289.62" stroke="#949494" stroke-width="0.45"/>
<line x1="311.53" y1="241.3" x2="311.53" y2="289.87" stroke="#757575" stroke-width="0.45"/>
<line x1="312.54" y1="242.05" x2="312.54" y2="290.11" stroke="#5c5c5c" stroke-width="0.45"/>
<line x1="313.24" y1="243.46" x2="313.24" y2="290.27" stroke="#787878" stroke-width="0.45"/>
<line x1="314.51" y1="243" x2="314.51" y2="290.57" stroke="#656565" stroke-width="0.45"/>
<line x1="315.62" y1="242.75" x2="315.62" y2="290.84" stroke="#a0a0a0" stroke-width="0.45"/>
<line x1="316.64" y1="241.79" x2="316.64" y2="291.07" stroke="#454545" stroke-width="0.45"/>
<line x1="317.64" y1="243.07" x2="317.64" y2="291.31" stroke="#7c7c7c" stroke-width="0.45"/>
<line x1="318.99" y1="243.36" x2="318.99" y2="291.63" stroke="#454545" stroke-width="0.45"/>
<line x1="320.05" y1="242.52" x2="320.05" y2="291.88" stroke="#484848" stroke-width="0.45"/>
<line x1="321.28" y1="243.76" x2="321.28" y2="292.17" stroke="#404040" stroke-width="0.45"/>
<line x1="322.45" y1="241.81" x2="322.45" y2="292.45" stroke="#919191" stroke-width="0.45"/>
<line x1="323.65" y1="241.68" x2="323.65" y2="292.73" stroke="#747474" stroke-width="0.45"/>
<line x1="325.77" y1="242.14" x2="325.77" y2="293.23" stroke="#858585" stroke-width="0.45"/>
<line x1="326.84" y1="244.33" x2="326.84" y2="293.48" stroke="#a0a0a0" stroke-width="0.45"/>
<line x1="328.9" y1="242.82" x2="328.9" y2="293.97" stroke="#9f9f9f" stroke-width="0.45"/>
<line x1="329.67" y1="243.93" x2="329.67" y2="294.15" stroke="#636363" stroke-width="0.45"/>
<line x1="331.15" y1="241.72" x2="331.15" y2="294.5" stroke="#7b7b7b" stroke-width="0.45"/>
<line x1="331.91" y1="242.53" x2="331.91" y2="294.68" stroke="#7a7a7a" stroke-width="0.45"/>
<line x1="332.74" y1="243.75" x2="332.74" y2="294.87" stroke="#747474" stroke-width="0.45"/>
<line x1="333.64" y1="243.3" x2="333.64" y2="295.08" stroke="#6d6d6d" stroke-width="0.45"/>
<line x1="334.37" y1="243.83" x2="334.37" y2="295.26" stroke="#8a8a8a" stroke-width="0.45"/>
<line x1="337.09" y1="244.58" x2="337.09" y2="295.9" stroke="#646464" stroke-width="0.45"/>
<line x1="338.36" y1="243.6" x2="338.36" y2="296.2" stroke="#414141" stroke-width="0.45"/>
<line x1="339.72" y1="242.62" x2="339.72" y2="296.52" stroke="#6a6a6a" stroke-width="0.45"/>
<line x1="340.97" y1="243.34" x2="340.97" y2="296.81" stroke="#5a5a5a" stroke-width="0.45"/>
<line x1="342.46" y1="242.14" x2="342.46" y2="297.17" stroke="#7e7e7e" stroke-width="0.45"/>
<line x1="343.33" y1="244.65" x2="343.33" y2="297.37" stroke="#a3a3a3" stroke-width="0.45"/>
<line x1="344.67" y1="244.56" x2="344.67" y2="297.69" stroke="#909090" stroke-width="0.45"/>
<line x1="345.96" y1="244.17" x2="345.96" y2="297.98" stroke="#a0a0a0" stroke-width="0.45"/>
<line x1="346.85" y1="244.14" x2="346.85" y2="298.13" stroke="#4f4f4f" stroke-width="0.45"/>
<line x1="347.97" y1="242.99" x2="347.97" y2="298.3" stroke="#818181" stroke-width="0.45"/>
<line x1="349.24" y1="244.7" x2="349.24" y2="298.47" stroke="#989898" stroke-width="0.45"/>
<rect x="324" y="243.49" width="1.4" height="47.32" fill="#fff"/>
<rect x="327.6" y="243.56" width="1.2" height="48.1" fill="#fff"/>
<rect x="335.7" y="243.72" width="1.2" height="49.85" fill="#fff"/>
<rect x="286.6" y="236.7" width="0.9" height="49.3" fill="#111"/>
<linearGradient id="g2866d" x1="0" y1="0" x2="1" y2="0"><stop offset="0" stop-color="#111" stop-opacity="0.95"/><stop offset="1" stop-color="#111" stop-opacity="0"/></linearGradient>
<rect x="286.6" y="238.7" width="9" height="47.3" fill="url(#g2866d)"/>
<polyline points="286.6,285.85 287.1,285.84 287.6,286.25 288.1,286.65 288.6,285.65 289.1,285.18 289.6,286 290.1,285.69 290.6,285.72 291.1,286.01 291.6,285.62 292.1,285.17 292.6,284.94 293.1,285.5 293.6,285.29 294.1,285.84 294.6,285.49 295.1,285.88 295.6,285.67 296.1,286.11 296.6,286.21 297.1,286.64 297.6,286.98 298.1,286.64 298.6,286.55 299.1,287.51 299.6,287.16 300.1,287.35 300.6,287.47 301.1,287.84 301.6,287.82 302.1,287.84 302.6,287.99 303.1,287.62 303.6,287.81 304.1,288.08 304.6,288.26 305.1,288.35 305.6,288.56 306.1,288.59 306.6,288.57 307.1,288.33 307.6,289.19 308.1,289.23 308.6,288.91 309.1,289.44 309.6,289.53 310.1,289.55 310.6,289.09 311.1,289.4 311.6,289.7 312.1,290.48 312.6,289.86 313.1,290.13 313.6,290.02 314.1,290.32 314.6,290.69 315.1,290.08 315.6,289.97 316.1,291.14 316.6,291.07 317.1,291 317.6,291.58 318.1,291.7 318.6,290.9 319.1,291.6 319.6,292.1 320.1,291.68 320.6,291.91 321.1,292.41 321.6,292.16 322.1,292 322.6,292.27 323.1,292.19 323.6,292.88 324.1,292.31 324.6,293.25 325.1,292.57 325.6,293.19 326.1,292.86 326.6,293.32 327.1,293.84 327.6,293.99 328.1,294.16 328.6,293.86 329.1,294.04 329.6,294.19 330.1,294.43 330.6,294.24 331.1,294.81 331.6,294.69 332.1,295.06 332.6,294.97 333.1,295.15 333.6,294.85 334.1,295.06 334.6,294.92 335.1,295.33 335.6,295.49 336.1,295.91 336.6,295.4 337.1,296.86 337.6,295.97 338.1,296.51 338.6,296.56 339.1,295.61 339.6,296.4 340.1,297.04 340.6,295.99 341.1,297.07 341.6,296.68 342.1,296.93 342.6,297.26 343.1,296.75 343.6,297.48 344.1,297.35 344.6,297.44 345.1,297.99 345.6,298.95 346.1,298.11 346.6,298.25 347.1,298.14 347.6,298.02 348.1,298.39 348.6,298.84 349.1,298.52" fill="none" stroke="#1a1a1a" stroke-width="0.9" stroke-linejoin="round"/>
<polyline points="349.3,298.5 350,301 351.5,306 353,309.7 355.9,312.6 356.4,313" fill="none" stroke="#1a1a1a" stroke-width="0.9" stroke-linejoin="round"/>
<line x1="356.6" y1="313" x2="356.6" y2="237" stroke="#111" stroke-width="0.8"/>
<linearGradient id="g3566" x1="0" y1="0" x2="0" y2="1"><stop offset="0" stop-color="#8c8c8c"/><stop offset="0.5" stop-color="#a2a2a2"/><stop offset="0.85" stop-color="#7a7a7a"/><stop offset="1" stop-color="#3a3a3a"/></linearGradient>
<path d="M356.6,237 L357.1,237.19 L357.6,237.37 L358.1,237.56 L358.6,237.74 L359.1,237.93 L359.6,238.11 L360.1,238.3 L360.6,238.48 L361.1,238.67 L361.6,238.85 L362.1,239.04 L362.6,239.22 L363.1,239.41 L363.6,239.59 L364.1,239.78 L364.6,239.96 L364.6,296.42 L364.1,296.02 L363.6,295.62 L363.1,295.22 L362.6,294.81 L362.1,294.41 L361.6,294.01 L361.1,293.61 L360.6,293.21 L360.1,292.81 L359.6,292.41 L359.1,292.01 L358.6,291.6 L358.1,291.2 L357.6,290.8 L357.1,290.4 L356.6,290Z" fill="url(#g3566)" stroke="none" stroke-width="1"/>
<line x1="356.6" y1="239.82" x2="356.6" y2="290" stroke="#464646" stroke-width="0.45"/>
<line x1="358.08" y1="237.91" x2="358.08" y2="291.19" stroke="#4d4d4d" stroke-width="0.45"/>
<line x1="359.47" y1="239.98" x2="359.47" y2="292.31" stroke="#5f5f5f" stroke-width="0.45"/>
<line x1="360.8" y1="239" x2="360.8" y2="293.37" stroke="#9c9c9c" stroke-width="0.45"/>
<line x1="362.02" y1="241.85" x2="362.02" y2="294.35" stroke="#7d7d7d" stroke-width="0.45"/>
<line x1="363.24" y1="242.03" x2="363.24" y2="295.33" stroke="#7c7c7c" stroke-width="0.45"/>
<line x1="364.02" y1="241.58" x2="364.02" y2="295.95" stroke="#5c5c5c" stroke-width="0.45"/>
<rect x="356.6" y="237" width="0.9" height="53" fill="#111"/>
<linearGradient id="g3566d" x1="0" y1="0" x2="1" y2="0"><stop offset="0" stop-color="#111" stop-opacity="0.95"/><stop offset="1" stop-color="#111" stop-opacity="0"/></linearGradient>
<rect x="356.6" y="239" width="2" height="51" fill="url(#g3566d)"/>
<polyline points="356.6,290.29 357.1,291.08 357.6,291.14 358.1,290.76 358.6,291.57 359.1,291.87 359.6,292.29 360.1,292.43 360.6,293.08 361.1,293.27 361.6,294.1 362.1,294.42 362.6,294.38 363.1,294.69 363.6,295.46 364.1,296.2 364.6,296.56" fill="none" stroke="#1a1a1a" stroke-width="0.9" stroke-linejoin="round"/>
<polyline points="364.7,296.97 365,297.52 365.3,299.49 365.6,300.61 365.9,301.82 366.2,302.64 366.5,303.8 366.8,304.65 367.1,306.35 367.4,306.64 367.7,307.16 368,307.89 368.3,308.52 368.6,309.21 368.9,309.63 369.2,310.26 369.5,311.02 369.8,311.44 370.1,311.74 370.4,312.41 370.7,312.51 371,312.57 371.3,312.71 371.6,313.28 371.9,313.73 372.2,314.12 372.5,314.55 372.8,314.37 373.1,314.54 373.4,315.15 373.7,315.44 374,315.21 374.3,315.59 374.6,316.01 374.9,315.89 375.2,315.94 375.5,315.56 375.8,316.54 376.1,316.48 376.4,316.46 376.7,316.41 377,316.31 377.3,316.69 377.6,316.77 377.9,317.15 378.2,316.64 378.5,317.37 378.8,317.08 379.1,317.43 379.4,316.95 379.7,317.33 380,317.6 380.3,317.36 380.6,317.01 380.9,317.33 381.2,317.59 381.5,317.14 381.8,317.16 382.1,317.61 382.4,317.34 382.7,317.78 383,317.34 383.3,317.19" fill="none" stroke="#1a1a1a" stroke-width="0.9" stroke-linejoin="round"/>
<line x1="383.5" y1="313" x2="383.5" y2="237" stroke="#111" stroke-width="0.8"/>
<linearGradient id="g3835" x1="0" y1="0" x2="0" y2="1"><stop offset="0" stop-color="#8c8c8c"/><stop offset="0.5" stop-color="#a2a2a2"/><stop offset="0.85" stop-color="#7a7a7a"/><stop offset="1" stop-color="#3a3a3a"/></linearGradient>
<path d="M383.5,237 L384,237.18 L384.5,237.36 L385,237.54 L385.5,237.71 L386,237.89 L386.5,238.07 L387,238.25 L387.5,238.43 L388,238.61 L388.5,238.79 L389,238.96 L389.5,239.14 L390,239.32 L390.5,239.5 L391,239.68 L391.5,239.86 L391.5,296.19 L391,295.8 L390.5,295.42 L390,295.03 L389.5,294.64 L389,294.26 L388.5,293.87 L388,293.48 L387.5,293.1 L387,292.71 L386.5,292.32 L386,291.93 L385.5,291.55 L385,291.16 L384.5,290.77 L384,290.39 L383.5,290Z" fill="url(#g3835)" stroke="none" stroke-width="1"/>
<line x1="383.5" y1="239.76" x2="383.5" y2="290" stroke="#727272" stroke-width="0.45"/>
<line x1="384.32" y1="240.2" x2="384.32" y2="290.63" stroke="#7b7b7b" stroke-width="0.45"/>
<line x1="385.7" y1="240.19" x2="385.7" y2="291.7" stroke="#888888" stroke-width="0.45"/>
<line x1="386.8" y1="239.02" x2="386.8" y2="292.55" stroke="#414141" stroke-width="0.45"/>
<line x1="388.06" y1="238.96" x2="388.06" y2="293.53" stroke="#646464" stroke-width="0.45"/>
<line x1="389.56" y1="241.88" x2="389.56" y2="294.69" stroke="#969696" stroke-width="0.45"/>
<line x1="390.43" y1="242.3" x2="390.43" y2="295.37" stroke="#4b4b4b" stroke-width="0.45"/>
<rect x="383.5" y="237" width="0.9" height="53" fill="#111"/>
<linearGradient id="g3835d" x1="0" y1="0" x2="1" y2="0"><stop offset="0" stop-color="#111" stop-opacity="0.95"/><stop offset="1" stop-color="#111" stop-opacity="0"/></linearGradient>
<rect x="383.5" y="239" width="2" height="51" fill="url(#g3835d)"/>
<polyline points="383.5,290.45 384,290.13 384.5,290.95 385,291.08 385.5,291.44 386,292.17 386.5,292.07 387,292.38 387.5,293.28 388,293.46 388.5,293.78 389,294.2 389.5,294.78 390,294.91 390.5,295.64 391,295.92 391.5,296.62" fill="none" stroke="#1a1a1a" stroke-width="0.9" stroke-linejoin="round"/>
<polyline points="391.9,297.31 392.2,298.56 392.5,299.56 392.8,300.83 393.1,301.76 393.4,303.66 393.7,303.86 394,304.96 394.3,306.01 394.6,306.13 394.9,307 395.2,307.81 395.5,308.31 395.8,308.85 396.1,309.6 396.4,310.59 396.7,310.95 397,311.24 397.3,311.67 397.6,311.66 397.9,312.63 398.2,312.92 398.5,312.88 398.8,313.51 399.1,313.7 399.4,313.9 399.7,314.03 400,314.35 400.3,314.51 400.6,315.07 400.9,315.24 401.2,315.41 401.5,315.46 401.8,315.56 402.1,316.33 402.4,315.49 402.7,316.39 403,316.3 403.3,316.34 403.6,316.31 403.9,316.48 404.2,316.33 404.5,316.37 404.8,316.77 405.1,316.46 405.4,317.16 405.7,317.29 406,316.22 406.3,316.75 406.6,317.26 406.9,317.3 407.2,317.32 407.5,317.44 407.8,317.57 408.1,317.64 408.4,317.9 408.7,317.5" fill="none" stroke="#1a1a1a" stroke-width="0.9" stroke-linejoin="round"/>
<line x1="408.8" y1="313" x2="408.8" y2="237" stroke="#111" stroke-width="0.8"/>
<linearGradient id="g4088" x1="0" y1="0" x2="0" y2="1"><stop offset="0" stop-color="#8c8c8c"/><stop offset="0.5" stop-color="#a2a2a2"/><stop offset="0.85" stop-color="#7a7a7a"/><stop offset="1" stop-color="#3a3a3a"/></linearGradient>
<path d="M408.8,237 L409.3,237.16 L409.8,237.33 L410.3,237.49 L410.8,237.65 L411.3,237.82 L411.8,237.98 L412.3,238.14 L412.8,238.3 L413.3,238.47 L413.8,238.63 L414.3,238.79 L414.8,238.96 L415.3,239.12 L415.8,239.28 L416.3,239.45 L416.8,239.61 L417.3,239.77 L417.8,239.93 L417.8,296.36 L417.3,296.01 L416.8,295.65 L416.3,295.3 L415.8,294.95 L415.3,294.59 L414.8,294.24 L414.3,293.89 L413.8,293.53 L413.3,293.18 L412.8,292.83 L412.3,292.47 L411.8,292.12 L411.3,291.77 L410.8,291.41 L410.3,291.06 L409.8,290.71 L409.3,290.35 L408.8,290Z" fill="url(#g4088)" stroke="none" stroke-width="1"/>
<line x1="408.8" y1="239.12" x2="408.8" y2="290" stroke="#999999" stroke-width="0.45"/>
<line x1="410.07" y1="237.73" x2="410.07" y2="290.9" stroke="#8a8a8a" stroke-width="0.45"/>
<line x1="411.22" y1="238.34" x2="411.22" y2="291.71" stroke="#474747" stroke-width="0.45"/>
<line x1="412.16" y1="238.47" x2="412.16" y2="292.37" stroke="#4a4a4a" stroke-width="0.45"/>
<line x1="413.62" y1="241.42" x2="413.62" y2="293.4" stroke="#a9a9a9" stroke-width="0.45"/>
<line x1="414.82" y1="240.66" x2="414.82" y2="294.25" stroke="#424242" stroke-width="0.45"/>
<line x1="415.63" y1="241.54" x2="415.63" y2="294.82" stroke="#7a7a7a" stroke-width="0.45"/>
<line x1="416.84" y1="241.88" x2="416.84" y2="295.68" stroke="#959595" stroke-width="0.45"/>
<rect x="408.8" y="237" width="0.9" height="53" fill="#111"/>
<linearGradient id="g4088d" x1="0" y1="0" x2="1" y2="0"><stop offset="0" stop-color="#111" stop-opacity="0.95"/><stop offset="1" stop-color="#111" stop-opacity="0"/></linearGradient>
<rect x="408.8" y="239" width="2" height="51" fill="url(#g4088d)"/>
<polyline points="408.8,289.94 409.3,290.21 409.8,291.19 410.3,290.92 410.8,291.84 411.3,291.83 411.8,292.18 412.3,292.4 412.8,292.91 413.3,293.03 413.8,293.32 414.3,293.84 414.8,294.04 415.3,294.68 415.8,294.96 416.3,295.21 416.8,295.59 417.3,295.93 417.8,296.87" fill="none" stroke="#1a1a1a" stroke-width="0.9" stroke-linejoin="round"/>
<polyline points="418,296.99 418.3,298.2 418.6,299.54 418.9,300.97 419.2,301.86 419.5,302.91 419.8,303.85 420.1,304.87 420.4,305.77 420.7,306.58 421,306.8 421.3,307.64 421.6,307.9 421.9,309.37 422.2,310.01 422.5,310.59 422.8,310.8 423.1,311.52 423.4,311.66 423.7,312.05 424,312.07 424.3,312.62 424.6,313 424.9,313.69 425.2,314.17 425.5,313.91 425.8,314.38 426.1,314.59 426.4,314.55 426.7,314.53 427,314.96 427.3,314.98 427.6,315.43 427.9,315.63 428.2,315.77 428.5,315.92 428.8,316.21 429.1,315.98 429.4,316.55 429.7,316.02 430,316.55 430.3,316.73 430.6,316.52 430.9,316.4 431.2,317.04 431.5,316.78 431.8,317.21 432.1,317.27 432.4,317.14 432.7,317.19 433,317.49 433.3,317.39 433.6,317.1 433.9,317.42 434.2,317.56 434.5,317.51 434.8,317.54" fill="none" stroke="#1a1a1a" stroke-width="0.9" stroke-linejoin="round"/>
<line x1="434.8" y1="313" x2="434.8" y2="237" stroke="#111" stroke-width="0.8"/>
<linearGradient id="g4348" x1="0" y1="0" x2="0" y2="1"><stop offset="0" stop-color="#8c8c8c"/><stop offset="0.5" stop-color="#a2a2a2"/><stop offset="0.85" stop-color="#7a7a7a"/><stop offset="1" stop-color="#3a3a3a"/></linearGradient>
<path d="M434.8,237 L435.3,237.19 L435.8,237.39 L436.3,237.58 L436.8,237.78 L437.3,237.97 L437.8,238.17 L438.3,238.36 L438.8,238.56 L439.3,238.75 L439.8,238.95 L440.3,239.14 L440.8,239.34 L441.3,239.53 L441.8,239.73 L442.3,239.92 L442.3,296.33 L441.8,295.91 L441.3,295.49 L440.8,295.06 L440.3,294.64 L439.8,294.22 L439.3,293.8 L438.8,293.38 L438.3,292.95 L437.8,292.53 L437.3,292.11 L436.8,291.69 L436.3,291.27 L435.8,290.84 L435.3,290.42 L434.8,290Z" fill="url(#g4348)" stroke="none" stroke-width="1"/>
<line x1="434.8" y1="238.95" x2="434.8" y2="290" stroke="#919191" stroke-width="0.45"/>
<line x1="435.8" y1="239.94" x2="435.8" y2="290.85" stroke="#6c6c6c" stroke-width="0.45"/>
<line x1="436.56" y1="239.64" x2="436.56" y2="291.48" stroke="#616161" stroke-width="0.45"/>
<line x1="437.83" y1="239.3" x2="437.83" y2="292.56" stroke="#727272" stroke-width="0.45"/>
<line x1="439.03" y1="240.77" x2="439.03" y2="293.57" stroke="#5c5c5c" stroke-width="0.45"/>
<line x1="440.33" y1="239.85" x2="440.33" y2="294.67" stroke="#939393" stroke-width="0.45"/>
<line x1="441.24" y1="239.72" x2="441.24" y2="295.44" stroke="#404040" stroke-width="0.45"/>
<line x1="442.48" y1="240.89" x2="442.48" y2="296.33" stroke="#7b7b7b" stroke-width="0.45"/>
<rect x="434.8" y="237" width="0.9" height="53" fill="#111"/>
<linearGradient id="g4348d" x1="0" y1="0" x2="1" y2="0"><stop offset="0" stop-color="#111" stop-opacity="0.95"/><stop offset="1" stop-color="#111" stop-opacity="0"/></linearGradient>
<rect x="434.8" y="239" width="2" height="51" fill="url(#g4348d)"/>
<polyline points="434.8,289.58 435.3,291.08 435.8,290.7 436.3,291.04 436.8,291.93 437.3,292.08 437.8,292.92 438.3,292.87 438.8,293.47 439.3,293.82 439.8,294.26 440.3,294.57 440.8,295.03 441.3,295.98 441.8,295.7 442.3,296.16" fill="none" stroke="#1a1a1a" stroke-width="0.9" stroke-linejoin="round"/>
<polyline points="442.5,296.91 442.8,298.49 443.1,299.71 443.4,301.03 443.7,301.58 444,303.01 444.3,303.87 444.6,304.75 444.9,305.71 445.2,305.98 445.5,307.28 445.8,307.94 446.1,308.2 446.4,309.14 446.7,310.12 447,310.17 447.3,310.91 447.6,311.18 447.9,311.47 448.2,311.85 448.5,312.36 448.8,313.14 449.1,313.35 449.4,313.29 449.7,314 450,313.99" fill="none" stroke="#1a1a1a" stroke-width="0.9" stroke-linejoin="round"/>
<line x1="454.7" y1="79.3" x2="454.7" y2="93.1" stroke="#333" stroke-width="0.9"/>
<line x1="454.3" y1="92.8" x2="477.8" y2="92.8" stroke="#555" stroke-width="1"/>
<text x="458.3" y="78.4" font-size="9.2" text-anchor="start" fill="#000">20 mV</text>
<text x="458.3" y="88.9" font-size="9.2" text-anchor="start" fill="#000">5 s</text>
<line x1="454.7" y1="294" x2="454.7" y2="311.6" stroke="#333" stroke-width="0.9"/>
<line x1="454.3" y1="311.2" x2="479.9" y2="311.2" stroke="#333" stroke-width="0.9"/>
<text x="458.3" y="296.6" font-size="9.2" text-anchor="start" fill="#000">20 mV</text>
<text x="458.3" y="307.6" font-size="9.2" text-anchor="start" fill="#000">5 s</text>
<rect x="164" y="4.2" width="238.6" height="3.4" fill="#5e2490"/>
<rect x="286.1" y="229.6" width="78.7" height="3.3" fill="#5e2490"/>
<text x="94.6" y="109.6" font-size="10.9" text-anchor="start" fill="#000" transform="rotate(90 94.6 109.6)">Baseline</text>
<text x="111.3" y="117" font-size="8.8" text-anchor="start" fill="#000" transform="rotate(90 111.3 117)" font-style="italic">Low Mg<tspan font-size="5.6" dy="-3.2">2+</tspan><tspan dy="3.2"> wash in</tspan></text>
<text x="124.9" y="109.6" font-size="10.9" text-anchor="start" fill="#000" transform="rotate(90 124.9 109.6)">Pre-SLE</text>
<text x="432.4" y="110" font-size="10.9" text-anchor="start" fill="#000" transform="rotate(90 432.4 110)">Post-SLE</text>
<text x="468.7" y="111" font-size="10.9" text-anchor="start" fill="#000" transform="rotate(90 468.7 111)">Washout</text>
<text x="452" y="157.3" font-size="8.8" text-anchor="start" fill="#000" transform="rotate(90 452 157.3)" font-style="italic">&gt; 2 min</text>
<text x="94.9" y="328.3" font-size="10.9" text-anchor="start" fill="#000" transform="rotate(90 94.9 328.3)">Baseline</text>
<text x="111.3" y="334.6" font-size="8.8" text-anchor="start" fill="#000" transform="rotate(90 111.3 334.6)" font-style="italic">Low Mg<tspan font-size="5.6" dy="-3.2">2+</tspan><tspan dy="3.2"> wash in</tspan></text>
<text x="228.2" y="328.3" font-size="10.9" text-anchor="start" fill="#000" transform="rotate(90 228.2 328.3)">Pre-SLE</text>
<text x="470.3" y="327.4" font-size="10.9" text-anchor="start" fill="#000" transform="rotate(90 470.3 327.4)">Washout</text>
<text x="454.2" y="373.8" font-size="8.8" text-anchor="start" fill="#000" transform="rotate(90 454.2 373.8)" font-style="italic">&gt; 2 min</text>
<line x1="171.4" y1="189.6" x2="171.4" y2="206.3" stroke="#222" stroke-width="0.9"/>
<line x1="171" y1="206" x2="194.8" y2="206" stroke="#222" stroke-width="0.9"/>
<text x="174.8" y="193" font-size="9.6" text-anchor="start" fill="#000">-2% ΔF/F<tspan font-size="5.95" dy="1.8">o</tspan></text>
<text x="175.2" y="203.6" font-size="9.3" text-anchor="start" fill="#000">5 s</text>
<line x1="171.4" y1="339" x2="171.4" y2="358.1" stroke="#222" stroke-width="0.9"/>
<line x1="171" y1="357.8" x2="196.7" y2="357.8" stroke="#222" stroke-width="0.9"/>
<text x="174.8" y="344.5" font-size="9.6" text-anchor="start" fill="#000">-1% ΔF/F<tspan font-size="5.95" dy="1.8">o</tspan></text>
<text x="175.2" y="355" font-size="9.3" text-anchor="start" fill="#000">5 s</text>
<text x="14.6" y="156.5" font-size="10.2" text-anchor="middle" fill="#000" transform="rotate(-90 14.6 156.5)">CaMKIIα+ pyramidal neuron</text>
<text x="14.8" y="376.4" font-size="10.2" text-anchor="middle" fill="#000" transform="rotate(-90 14.8 376.4)">GAD2+ interneuron</text>
<g transform="translate(0,0)" fill="none" stroke="#333" stroke-width="0.6" stroke-linecap="round" stroke-linejoin="round"><polyline points="32.3,42.4 33.6,40.6 34.6,41.2 35.2,39.2 36.3,39.7 36.8,37.6 37.9,38 38.3,36 39.9,34"/><g transform="translate(32.3,42.4) rotate(31.7)"><line x1="-5" y1="0" x2="0" y2="0"/><path d="M14.5,-2.2 L36.2,-0.25 L36.2,0.25 L14.5,2.2 Z" fill="#dcdcdc" stroke-width="0.5"/><rect x="5.5" y="-2.7" width="9" height="5.4" rx="1.3" fill="#fff"/><line x1="0" y1="-0.6" x2="35" y2="-0.1" stroke-width="0.45"/><line x1="11.2" y1="-2.7" x2="11.2" y2="2.7" stroke-width="0.45"/><circle cx="0" cy="0" r="1.3" fill="#222" stroke="none"/></g><path d="M65.3,51.5 L62.2,66.9 L68.4,66.7 Z" fill="#7a7a7a" stroke="#444" stroke-width="0.5"/><path d="M65.3,52 L65.5,34.5 M65.5,40 L61.8,34.3 M65.5,37.5 L69,33.8 L71.8,33 M65.4,43.5 L61.7,41 M69,33.8 L68.5,32.5 M63.5,37.2 L62.2,38.4"/><path d="M63.2,66.6 L60.5,68.5 L57.6,70.6 M60.5,68.5 L60.2,70.8 M67.8,66.6 L71,69.3 L74.2,72 M71,69.3 L71.8,72.2"/><path d="M65.2,66.8 C64.8,72 68.5,76.5 74.8,77.3"/></g>
<g transform="translate(0,220)" fill="none" stroke="#333" stroke-width="0.6" stroke-linecap="round" stroke-linejoin="round"><polyline points="32.3,42.4 33.6,40.6 34.6,41.2 35.2,39.2 36.3,39.7 36.8,37.6 37.9,38 38.3,36 39.9,34"/><g transform="translate(32.3,42.4) rotate(31.7)"><line x1="-5" y1="0" x2="0" y2="0"/><path d="M14.5,-2.2 L36.2,-0.25 L36.2,0.25 L14.5,2.2 Z" fill="#dcdcdc" stroke-width="0.5"/><rect x="5.5" y="-2.7" width="9" height="5.4" rx="1.3" fill="#fff"/><line x1="0" y1="-0.6" x2="35" y2="-0.1" stroke-width="0.45"/><line x1="11.2" y1="-2.7" x2="11.2" y2="2.7" stroke-width="0.45"/><circle cx="0" cy="0" r="1.3" fill="#222" stroke="none"/></g><path d="M65.3,51.5 L62.2,66.9 L68.4,66.7 Z" fill="#7a7a7a" stroke="#444" stroke-width="0.5"/><path d="M65.3,52 L65.5,34.5 M65.5,40 L61.8,34.3 M65.5,37.5 L69,33.8 L71.8,33 M65.4,43.5 L61.7,41 M69,33.8 L68.5,32.5 M63.5,37.2 L62.2,38.4"/><path d="M63.2,66.6 L60.5,68.5 L57.6,70.6 M60.5,68.5 L60.2,70.8 M67.8,66.6 L71,69.3 L74.2,72 M71,69.3 L71.8,72.2"/><path d="M65.2,66.8 C64.8,72 68.5,76.5 74.8,77.3"/></g>
<g><linearGradient id="obj601" x1="0" y1="0" x2="1" y2="0"><stop offset="0" stop-color="#5a5a5a"/><stop offset="0.22" stop-color="#d6d6d6"/><stop offset="0.6" stop-color="#8c8c8c"/><stop offset="1" stop-color="#3a3a3a"/></linearGradient><path d="M43.16,103.09 L58.04,103.09 L58.04,113.8 Q58.04,114.84 56.99,114.84 L44.21,114.84 Q43.16,114.84 43.16,113.8 Z" fill="url(#obj601)" stroke="#222" stroke-width="0.5"/><path d="M44.95,114.84 L56.26,114.84 L54.84,119.1 Q50.6,121.02 46.36,119.1 Z" fill="url(#obj601)" stroke="#222" stroke-width="0.5"/><path d="M47.12,119.97 L54.08,119.97 L50.6,126.59 Z" fill="#fbb03b"/><path d="M47.12,119.97 L49.44,119.97 L50.6,126.59 Z" fill="#f15a24"/><path d="M51.76,119.97 L54.08,119.97 L50.6,126.59 Z" fill="#29abe2"/><ellipse cx="50.6" cy="103.09" rx="7.44" ry="1.74" fill="#f2f2f2" stroke="#222" stroke-width="0.5"/><rect x="46.59" y="95.7" width="2.72" height="8.87" fill="#f15a24"/><rect x="49.26" y="95.7" width="2.72" height="8.87" fill="#fbb03b"/><rect x="51.94" y="95.7" width="2.72" height="8.87" fill="#29abe2"/></g>
<g fill="none" stroke="#222" stroke-width="0.55" stroke-linecap="round"><path d="M35.5,112 C36,118 40,122.5 44,124.8 M42.6,117 L44.5,119.2"/><path d="M54.5,130 L60,133" stroke-width="1.1"/><path d="M60,133 L66,134.4 L72.5,134 M66,134.4 L70,131.2 M66,134.4 L71.5,138.2 M63,133.8 L65,136.8 M69,136.3 L70.2,142.5 M70.5,134.3 L73.5,132.5"/><path d="M42.8,126.6 L35.5,127 M38.5,126.9 L35.8,125.2 M42.8,127.2 L36.3,130"/><path d="M42.5,126.8 L46.2,122.6 L54.5,130 Z" fill="#f15a24" stroke="#222" stroke-width="0.5"/></g>
<g><linearGradient id="obj815" x1="0" y1="0" x2="1" y2="0"><stop offset="0" stop-color="#5a5a5a"/><stop offset="0.22" stop-color="#d6d6d6"/><stop offset="0.6" stop-color="#8c8c8c"/><stop offset="1" stop-color="#3a3a3a"/></linearGradient><path d="M43.16,316.39 L58.04,316.39 L58.04,327.1 Q58.04,328.14 56.99,328.14 L44.21,328.14 Q43.16,328.14 43.16,327.1 Z" fill="url(#obj815)" stroke="#222" stroke-width="0.5"/><path d="M44.95,328.14 L56.26,328.14 L54.84,332.4 Q50.6,334.32 46.36,332.4 Z" fill="url(#obj815)" stroke="#222" stroke-width="0.5"/><path d="M47.12,333.27 L54.08,333.27 L50.6,339.88 Z" fill="#fbb03b"/><path d="M47.12,333.27 L49.44,333.27 L50.6,339.88 Z" fill="#f15a24"/><path d="M51.76,333.27 L54.08,333.27 L50.6,339.88 Z" fill="#29abe2"/><ellipse cx="50.6" cy="316.39" rx="7.44" ry="1.74" fill="#f2f2f2" stroke="#222" stroke-width="0.5"/><rect x="46.59" y="309" width="2.72" height="8.87" fill="#f15a24"/><rect x="49.26" y="309" width="2.72" height="8.87" fill="#fbb03b"/><rect x="51.94" y="309" width="2.72" height="8.87" fill="#29abe2"/></g>
<g transform="translate(51.4,344.2) scale(0.83)" fill="none" stroke="#222" stroke-width="0.75" stroke-linecap="round"><path d="M-5.5,-3.5 L-11,-8 L-16.5,-10.5 M-11,-8 L-12,-12.5 M-12.5,-9.5 L-14,-13 M4.5,-3.8 L10,-10 L15,-8.5 M10,-10 L11,-13.5 M-4.5,3.5 L-10,8 L-13.5,10.5 M-10,8 L-13,16 M-11.5,10 L-11,16.5 M3.5,4.5 L6.5,11 L10.5,13.5 M6.5,11 L6.5,16 M6,0.5 C12,0 18,6 17.5,14"/><ellipse cx="0" cy="0" rx="6.5" ry="5" fill="#f15a24" stroke="#222" stroke-width="0.45" transform="rotate(8)"/></g>
<g><linearGradient id="obj1752" x1="0" y1="0" x2="1" y2="0"><stop offset="0" stop-color="#5a5a5a"/><stop offset="0.22" stop-color="#d6d6d6"/><stop offset="0.6" stop-color="#8c8c8c"/><stop offset="1" stop-color="#3a3a3a"/></linearGradient><path d="M122.05,455.3 L139.15,455.3 L139.15,467.6 Q139.15,468.8 137.95,468.8 L123.25,468.8 Q122.05,468.8 122.05,467.6 Z" fill="url(#obj1752)" stroke="#222" stroke-width="0.5"/><path d="M124.1,468.8 L137.1,468.8 L135.47,473.7 Q130.6,475.9 125.72,473.7 Z" fill="url(#obj1752)" stroke="#222" stroke-width="0.5"/><path d="M126.6,474.7 L134.6,474.7 L130.6,482.3 Z" fill="#fbb03b"/><path d="M126.6,474.7 L129.27,474.7 L130.6,482.3 Z" fill="#f15a24"/><path d="M131.93,474.7 L134.6,474.7 L130.6,482.3 Z" fill="#29abe2"/><ellipse cx="130.6" cy="455.3" rx="8.55" ry="2" fill="#f2f2f2" stroke="#222" stroke-width="0.5"/><rect x="125.99" y="446.8" width="3.12" height="10.2" fill="#f15a24"/><rect x="129.06" y="446.8" width="3.12" height="10.2" fill="#fbb03b"/><rect x="132.13" y="446.8" width="3.12" height="10.2" fill="#29abe2"/></g>
<g transform="translate(130.5,488.2) scale(1)" fill="none" stroke="#222" stroke-width="0.75" stroke-linecap="round"><path d="M-5.5,-3.5 L-11,-8 L-16.5,-10.5 M-11,-8 L-12,-12.5 M-12.5,-9.5 L-14,-13 M4.5,-3.8 L10,-10 L15,-8.5 M10,-10 L11,-13.5 M-4.5,3.5 L-10,8 L-13.5,10.5 M-10,8 L-13,16 M-11.5,10 L-11,16.5 M3.5,4.5 L6.5,11 L10.5,13.5 M6.5,11 L6.5,16 M6,0.5 C12,0 18,6 17.5,14"/><ellipse cx="0" cy="0" rx="6.5" ry="5" fill="#f15a24" stroke="#222" stroke-width="0.45" transform="rotate(8)"/></g>
<g><linearGradient id="obj6042" x1="0" y1="0" x2="1" y2="0"><stop offset="0" stop-color="#5a5a5a"/><stop offset="0.22" stop-color="#d6d6d6"/><stop offset="0.6" stop-color="#8c8c8c"/><stop offset="1" stop-color="#3a3a3a"/></linearGradient><path d="M550.69,455.75 L568.31,455.75 L568.31,468.42 Q568.31,469.66 567.07,469.66 L551.93,469.66 Q550.69,469.66 550.69,468.42 Z" fill="url(#obj6042)" stroke="#222" stroke-width="0.5"/><path d="M552.8,469.66 L566.2,469.66 L564.52,474.71 Q559.5,476.97 554.48,474.71 Z" fill="url(#obj6042)" stroke="#222" stroke-width="0.5"/><path d="M555.38,475.74 L563.62,475.74 L559.5,483.56 Z" fill="#fbb03b"/><path d="M555.38,475.74 L558.13,475.74 L559.5,483.56 Z" fill="#f15a24"/><path d="M560.87,475.74 L563.62,475.74 L559.5,483.56 Z" fill="#29abe2"/><ellipse cx="559.5" cy="455.75" rx="8.81" ry="2.06" fill="#f2f2f2" stroke="#222" stroke-width="0.5"/><rect x="554.76" y="447" width="3.21" height="10.51" fill="#f15a24"/><rect x="557.92" y="447" width="3.21" height="10.51" fill="#fbb03b"/><rect x="561.08" y="447" width="3.21" height="10.51" fill="#29abe2"/></g>
<g transform="translate(559.3,488.6) scale(1)" fill="none" stroke="#222" stroke-width="0.75" stroke-linecap="round"><path d="M-5.5,-3.5 L-11,-8 L-16.5,-10.5 M-11,-8 L-12,-12.5 M-12.5,-9.5 L-14,-13 M4.5,-3.8 L10,-10 L15,-8.5 M10,-10 L11,-13.5 M-4.5,3.5 L-10,8 L-13.5,10.5 M-10,8 L-13,16 M-11.5,10 L-11,16.5 M3.5,4.5 L6.5,11 L10.5,13.5 M6.5,11 L6.5,16 M6,0.5 C12,0 18,6 17.5,14"/><ellipse cx="0" cy="0" rx="6.5" ry="5" fill="#f15a24" stroke="#222" stroke-width="0.45" transform="rotate(8)"/></g>
<g clip-path="url(#cpa)">
<rect x="21.6" y="152.8" width="59.5" height="59.5" fill="url(#mga)"/>
<rect x="21.6" y="152.8" width="59.5" height="59.5" fill="#fff" filter="url(#tex2)" opacity="0.10"/>
<rect x="21.6" y="152.8" width="59.5" height="59.5" fill="#fff" filter="url(#tex)" opacity="0.08"/>
<g filter="url(#bl3)"><ellipse cx="50" cy="190" rx="22" ry="16" fill="#6a6a6a" opacity="0.7"/><ellipse cx="74" cy="182" rx="8" ry="16" fill="#5a5a5a" opacity="0.6"/><ellipse cx="30" cy="175" rx="9" ry="14" fill="#444" opacity="0.6"/></g>
<g filter="url(#bl1)"><path d="M55.3,173.5 C58,171.5 61,172.5 62.5,174 C66,175.5 68.5,179 68.2,184.5 C68,189 65,192.5 60,194 C56,195 53.5,193.5 52.5,191 C51.5,188 53.5,186 53,183 C52.5,180 51.7,177 55.3,173.5 Z" fill="#5c5c5c" stroke="#eeeeee" stroke-width="1.0"/><path d="M29.5,207 L29.5,199 C31,197 33.5,196.5 36,197 C39,197.6 41,199 42,201" fill="none" stroke="#bdbdbd" stroke-width="0.6"/><circle cx="55" cy="168" r="1.3" fill="#000"/><circle cx="43.5" cy="194.5" r="0.9" fill="#cfcfcf"/></g>
<rect x="26" y="206.9" width="15.3" height="1.3" fill="#fff"/>
</g>
<g clip-path="url(#cpc)">
<rect x="21.2" y="368.5" width="60.3" height="59.5" fill="#0c0c0c"/>
<rect x="21.2" y="368.5" width="60.3" height="59.5" fill="#fff" filter="url(#tex2)" opacity="0.10"/>
<g filter="url(#bl3)"><ellipse cx="38" cy="393" rx="15" ry="12" fill="#444" opacity="0.95"/><ellipse cx="70" cy="402" rx="13" ry="24" fill="#363636" transform="rotate(-25 70 402)"/><ellipse cx="54" cy="416" rx="14" ry="10" fill="#2c2c2c"/><ellipse cx="57" cy="388" rx="10" ry="8" fill="#3a3a3a"/></g>
<g filter="url(#bl1)"><ellipse cx="65.2" cy="377.6" rx="3.9" ry="5.8" fill="#a8a8a8" stroke="#e4e4e4" stroke-width="0.8" transform="rotate(15 65.2 377.6)"/><path d="M44.6,398 C47,394.5 52,391.5 57.5,391 C60,390.5 61,392 60.2,395 C59,399 57.5,402.5 54.5,403.5 C51,404.5 48,401.5 44.6,398 Z" fill="#c6c6c6" stroke="#f0f0f0" stroke-width="0.8"/><ellipse cx="66.3" cy="411.5" rx="3.4" ry="4.8" fill="#3c3c3c" stroke="#6a6a6a" stroke-width="0.6"/><path d="M37,425 C35.5,420 38,416.5 41,416.5 C44,416.8 45.5,419.5 45,423" fill="none" stroke="#555" stroke-width="0.7"/></g>
<rect x="26.6" y="422.9" width="10.5" height="1.3" fill="#fff"/>
</g>
<g clip-path="url(#cpf)">
<rect x="95.5" y="582.2" width="36.3" height="36.6" fill="#2f2f2f"/>
<rect x="95.5" y="582.2" width="36.3" height="36.6" fill="#fff" filter="url(#tex)" opacity="0.07"/>
<g filter="url(#bl1)"><circle cx="108.4" cy="591.6" r="2.6" fill="#4a4a4a" stroke="#7a7a7a" stroke-width="0.6"/><ellipse cx="121.9" cy="595" rx="2.6" ry="3.2" fill="#4e4e4e" stroke="#8e8e8e" stroke-width="0.7" transform="rotate(25 121.9 595)"/><circle cx="111.9" cy="607.3" r="3.1" fill="#a8a8a8" stroke="#e0e0e0" stroke-width="0.7"/></g>
<circle cx="111.9" cy="607.3" r="4.6" fill="none" stroke="#fff" stroke-width="1.1" stroke-dasharray="1,1.1"/>
<rect x="98.7" y="615" width="6.1" height="1.2" fill="#fff"/>
</g>
<g clip-path="url(#cph)">
<rect x="455.3" y="589.2" width="36.5" height="36.6" fill="#383838"/>
<rect x="455.3" y="589.2" width="36.5" height="36.6" fill="#fff" filter="url(#tex)" opacity="0.07"/>
<g filter="url(#bl2)"><ellipse cx="471" cy="598" rx="6" ry="4" fill="#4a4a4a"/></g>
<g filter="url(#bl1)"><path d="M455.5,602 C462,601.5 466,603.5 468.5,605.5 M477.5,604.5 C481,603.5 485,603.5 488,604" stroke="#5a5a5a" stroke-width="0.7" fill="none"/><path d="M468.5,605 C470,603 474,602.5 477.5,603.5 C478.5,605.5 477.5,608.5 475.5,610.5 C474,611.5 472,610.5 470.8,609 C469.5,608 468,607 468.5,605 Z" fill="#a8a8a8" stroke="#d8d8d8" stroke-width="0.6"/><circle cx="476" cy="612.5" r="0.9" fill="#8a8a8a"/></g>
<rect x="459" y="621.8" width="5.8" height="1.2" fill="#fff"/>
</g>
<text x="159.2" y="472.5" font-size="11.5" text-anchor="start" fill="#000">t = 0 min</text>
<text x="159.2" y="486.5" font-size="11.5" text-anchor="start" fill="#000">in aCSF</text>
<line x1="228.8" y1="476.5" x2="292.8" y2="476.5" stroke="#111" stroke-width="1.1"/>
<path d="M301.5,476.5 L290.8,470.8 L293.2,476.5 L290.8,482.2 Z" fill="#111" stroke="none" stroke-width="1"/>
<text x="320.7" y="472" font-size="11.5" text-anchor="start" fill="#000">180 min</text>
<text x="320.7" y="486" font-size="11.5" text-anchor="start" fill="#000">in 4-AP or TTX</text>
<line x1="432" y1="476.3" x2="449.8" y2="476.3" stroke="#111" stroke-width="1.1"/>
<path d="M458.5,476.3 L447.8,470.6 L450.2,476.3 L447.8,482 Z" fill="#111" stroke="none" stroke-width="1"/>
<text x="479" y="471.5" font-size="11.5" text-anchor="start" fill="#000">t = 190 min</text>
<text x="479" y="485.5" font-size="11.5" text-anchor="start" fill="#000">in TTX</text>
<rect x="50.6" y="545" width="31.4" height="73.6" fill="#dcedf8"/>
<rect x="50.6" y="627.5" width="31.4" height="73.4" fill="#dcedf8"/>
<rect x="410.6" y="551.9" width="31.7" height="73.4" fill="#dcedf8"/>
<rect x="410.6" y="634.1" width="31.7" height="73" fill="#dcedf8"/>
<polyline points="12.3,548.67 13.6,547.27 14.9,554.57 16.2,547.08 17.5,553.15 18.8,548.26 20.1,552.18 21.4,551.98 22.7,551.61 24,547.52 25.3,552.86 26.6,553.26 27.9,551.36 29.2,553.63 30.5,556.31 31.8,551.89 33.1,554.1 34.4,550.44 35.7,554.02 37,554.46 38.3,558.8 39.6,554.73 40.9,553.37 42.2,555.58 43.5,549.46 44.8,554.36 46.1,550.18 47.4,549.8 48.7,553.83 50,551.51 51.2,606.95 52.5,601.7 53.8,612.44 55.1,610.44 56.4,606.77 57.7,606.08 59,608.37 60.3,616.88 61.6,611.42 62.9,610.47 64.2,613.3 65.5,611.47 66.8,612.14 68.1,613.85 69.4,612.26 70.7,614.09 72,606.6 73.3,610.96 74.6,609.36 75.9,610.88 77.2,610.24 78.5,608.01 79.8,608.91 81.1,613.4 83,596 84.2,575 85.6,566 87.5,561 90,558 91,554.23 92.3,554.75 93.6,551.52 94.9,552.69 96.2,555.71 97.5,554.3 98.8,551.92 100.1,550.23 101.4,546.51 102.7,551.85 104,552.25 105.3,553.89 106.6,556.53 107.9,552.03 109.2,553.62 110.5,547.93 111.8,554.3 113.1,553.38 114.4,554.74 115.7,553.74 117,554.79 118.3,559.26 119.6,555.03" fill="none" stroke="#ef5b2b" stroke-width="0.85" stroke-linejoin="round" stroke-opacity="0.95"/>
<polyline points="12,632.36 13.1,632.08 14.2,632.45 15.3,632.46 16.4,631.25 17.5,632.14 18.6,632.77 19.7,631.51 20.8,631.54 21.9,630.82 23,632.4 24.1,633.32 25.2,630.53 26.3,632.27 27.4,632.36 28.5,631.12 29.6,631.25 30.7,630.66 31.8,630.85 32.9,631.61 34,631.99 35.1,631.51 36.2,632.1 37.3,631.53 38.4,630.36 39.5,632.51 40.6,632.26 41.7,630.66 42.8,632.69 43.9,631.58 45,631.27 46.1,632.73 47.2,629.03 48.3,629.75 49.4,631.64 50.5,630.82 51.6,630.73 52.7,633.46 53.8,633.3 54.9,632.52 56,633.72 57.1,635.66 58.2,637.03 59.3,634.01 60.4,636.02 61.5,635.63 62.6,634.63 63.7,636.08 64.8,635.02 65.9,636.04 67,637.96 68.1,637.18 69.2,637.53 70.3,637.52 71.4,637.45 72.5,637.99 73.6,636.12 74.7,636.69 75.8,637.6 76.9,636.19 78,636.34 79.1,637.61 80.2,637.74 81.3,635.65 82.4,635.15 83.5,635.99 84.6,635.41 85.7,634.31 86.8,635.04 87.9,634.69 89,633.97 90.1,636.03 91.2,634.4 92.3,633.7 93.4,633.83 94.5,635.41 95.6,633.82 96.7,632.27 97.8,633.1 98.9,632.85 100,632.28 101.1,632.93 102.2,632.89 103.3,632.59 104.4,632.19 105.5,633.25 106.6,631.19 107.7,633.17 108.8,632.45 109.9,632.64 111,630.39 112.1,633.73 113.2,630.85 114.3,631.53 115.4,632.75 116.5,631.67 117.6,631.8 118.7,630.24 119.8,631.7" fill="none" stroke="#ef5b2b" stroke-width="0.85" stroke-linejoin="round" stroke-opacity="0.95"/>
<polyline points="372.4,568.33 373.65,562.79 374.9,562.25 376.15,575.2 377.4,561.44 378.65,571.35 379.9,565.56 381.15,572.18 382.4,561.8 383.65,567.23 384.9,566.16 386.15,563.3 387.4,565.73 388.65,560.35 389.9,563.51 391.15,561.8 392.4,567.25 393.65,562.96 394.9,556.5 396.15,561.05 397.4,561.97 398.65,557.67 399.9,568.07 401.15,563.18 402.4,564.9 403.65,556.71 404.9,558.08 406.15,564.48 407.4,552.26 408.65,560.57 409.9,558.82 411,580 411.8,598 412.6,590 413.6,603.05 414.85,604.07 416.1,611.98 417.35,607.86 418.6,605.48 419.85,614.43 421.1,610.17 422.35,603.24 423.6,611.97 424.85,614.45 426.1,613 427.35,616.45 428.6,611.8 429.85,613.63 431.1,609.58 432.35,612.53 433.6,615.98 434.85,613.39 436.1,612.53 437.35,607.13 438.6,611.17 439.85,608.87 441.1,614.08 442.6,606 443.6,588 445,578 447,572 448.5,564.84 449.75,568.52 451,575.5 452.25,568.74 453.5,565.69 454.75,569.86 456,570.92 457.25,570.58 458.5,562.61 459.75,568.74 461,562.16 462.25,573.46 463.5,568.34 464.75,566.84 466,570.02 467.25,569.51 468.5,564.81 469.75,572.7 471,567.45 472.25,563.19 473.5,572.07 474.75,572.45 476,571.67 477.25,569.68 478.5,565.63 479.75,570.78" fill="none" stroke="#ef5b2b" stroke-width="0.85" stroke-linejoin="round" stroke-opacity="0.95"/>
<polyline points="372.4,647.98 373.65,647.5 374.9,636.09 376.15,635.36 377.4,639.49 378.65,643.12 379.9,644.76 381.15,641.5 382.4,642.15 383.65,641.83 384.9,642.67 386.15,644.88 387.4,644.37 388.65,641.71 389.9,643.07 391.15,639.66 392.4,645.39 393.65,639.21 394.9,649.14 396.15,641.26 397.4,642.56 398.65,637.62 399.9,639.46 401.15,641.75 402.4,640.97 403.65,637.88 404.9,635.25 406.15,640.77 407.4,641.21 408.65,642.96 409.9,646.12 411.3,670 412.3,692 413,694.3 414.25,701.78 415.5,700.91 416.75,697.79 418,698.34 419.25,700.5 420.5,696.01 421.75,703.26 423,701.28 424.25,708.39 425.5,699.71 426.75,705.26 428,699.53 429.25,703.99 430.5,697.31 431.75,701.8 433,697.61 434.25,695.79 435.5,697.16 436.75,698.38 438,697.5 439.25,700.38 440.5,697.44 441.75,686.36 442.6,688 443.8,672 445.5,662 448,655 452,649 456,645 457,639.71 458.25,639.95 459.5,643.19 460.75,641.91 462,646.57 463.25,643.16 464.5,643.54 465.75,646.51 467,640.55 468.25,641.68 469.5,638.96 470.75,642.02 472,643.85 473.25,644.55 474.5,640.77 475.75,638.87 477,638.57 478.25,636.79 479.5,640.53" fill="none" stroke="#ef5b2b" stroke-width="0.85" stroke-linejoin="round" stroke-opacity="0.95"/>
<text x="64.5" y="535.6" font-size="11.7" text-anchor="middle" fill="#000">4-AP</text>
<text x="426.3" y="541.1" font-size="11.7" text-anchor="middle" fill="#000">TTX</text>
<text x="23.6" y="586.4" font-size="10.2" text-anchor="middle" fill="#000" transform="rotate(-90 23.6 586.4)">t = 0</text>
<text x="25.2" y="672.6" font-size="10.2" text-anchor="middle" fill="#000" transform="rotate(-90 25.2 672.6)">t = 190</text>
<text x="383.6" y="596.3" font-size="10.2" text-anchor="middle" fill="#000" transform="rotate(-90 383.6 596.3)">t = 0</text>
<text x="385.1" y="683" font-size="10.2" text-anchor="middle" fill="#000" transform="rotate(-90 385.1 683)">t = 190</text>
<line x1="91.5" y1="686.6" x2="91.5" y2="701.2" stroke="#222" stroke-width="0.9"/>
<line x1="91.1" y1="700.9" x2="106.9" y2="700.9" stroke="#222" stroke-width="0.9"/>
<text x="95" y="687" font-size="9.6" text-anchor="start" fill="#000">-1%  ΔF/F<tspan font-size="5.95" dy="1.8">o</tspan></text>
<text x="95" y="697.1" font-size="9.3" text-anchor="start" fill="#000">0.5 s</text>
<line x1="451.5" y1="690.7" x2="451.5" y2="707.8" stroke="#222" stroke-width="0.9"/>
<line x1="451.1" y1="707.5" x2="467" y2="707.5" stroke="#222" stroke-width="0.9"/>
<text x="455" y="692.8" font-size="9.6" text-anchor="start" fill="#000">-1% ΔF/F<tspan font-size="5.95" dy="1.8">o</tspan></text>
<text x="455" y="703" font-size="9.3" text-anchor="start" fill="#000">0.5 s</text></svg></body></html>
